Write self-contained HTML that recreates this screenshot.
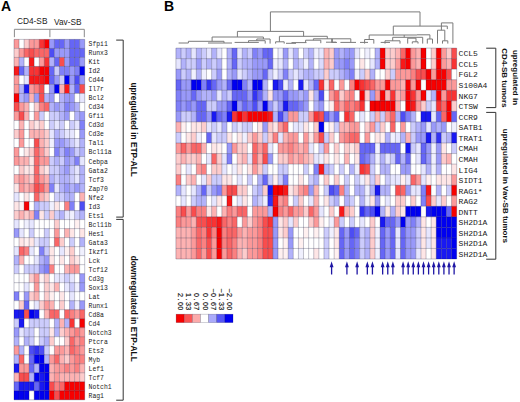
<!DOCTYPE html>
<html><head><meta charset="utf-8"><style>
html,body{margin:0;padding:0;background:#fff;}
body{width:520px;height:402px;overflow:hidden;position:relative;}
svg{position:absolute;left:0;top:0;}
.ga{font-family:"Liberation Mono",monospace;font-weight:normal;font-size:6.4px;fill:#1a1a1a;}
.gb{font-family:"Liberation Mono",monospace;font-weight:normal;font-size:8.0px;fill:#1a1a1a;}
.lg{font-family:"Liberation Sans",sans-serif;font-size:7.2px;fill:#111;stroke:#111;stroke-width:0.15px;}
.pl{font-family:"Liberation Sans",sans-serif;font-weight:bold;font-size:14px;fill:#000;}
.hd{font-family:"Liberation Sans",sans-serif;font-size:8.3px;fill:#222;}
.vt{font-family:"Liberation Sans",sans-serif;font-weight:bold;font-size:8px;fill:#111;}
.vta{font-family:"Liberation Sans",sans-serif;font-weight:bold;font-size:8.3px;fill:#111;}
</style></head><body>
<svg width="520" height="402" viewBox="0 0 520 402">
<rect x="14.00" y="39.40" width="5.05" height="9.01" fill="rgb(252,153,153)"/>
<rect x="19.05" y="39.40" width="5.05" height="9.01" fill="rgb(255,255,255)"/>
<rect x="24.10" y="39.40" width="5.05" height="9.01" fill="rgb(253,204,204)"/>
<rect x="29.15" y="39.40" width="5.05" height="9.01" fill="rgb(252,153,153)"/>
<rect x="34.20" y="39.40" width="5.05" height="9.01" fill="rgb(252,153,153)"/>
<rect x="39.25" y="39.40" width="5.05" height="9.01" fill="rgb(249,51,51)"/>
<rect x="44.30" y="39.40" width="5.05" height="9.01" fill="rgb(247,0,0)"/>
<rect x="49.35" y="39.40" width="5.05" height="9.01" fill="rgb(153,153,249)"/>
<rect x="54.40" y="39.40" width="5.05" height="9.01" fill="rgb(102,102,246)"/>
<rect x="59.45" y="39.40" width="5.05" height="9.01" fill="rgb(102,102,246)"/>
<rect x="64.50" y="39.40" width="5.05" height="9.01" fill="rgb(153,153,249)"/>
<rect x="69.55" y="39.40" width="5.05" height="9.01" fill="rgb(102,102,246)"/>
<rect x="74.60" y="39.40" width="5.05" height="9.01" fill="rgb(102,102,246)"/>
<rect x="79.65" y="39.40" width="5.05" height="9.01" fill="rgb(153,153,249)"/>
<rect x="14.00" y="48.41" width="5.05" height="9.01" fill="rgb(253,204,204)"/>
<rect x="19.05" y="48.41" width="5.05" height="9.01" fill="rgb(252,153,153)"/>
<rect x="24.10" y="48.41" width="5.05" height="9.01" fill="rgb(250,102,102)"/>
<rect x="29.15" y="48.41" width="5.05" height="9.01" fill="rgb(249,77,77)"/>
<rect x="34.20" y="48.41" width="5.05" height="9.01" fill="rgb(250,102,102)"/>
<rect x="39.25" y="48.41" width="5.05" height="9.01" fill="rgb(250,102,102)"/>
<rect x="44.30" y="48.41" width="5.05" height="9.01" fill="rgb(250,102,102)"/>
<rect x="49.35" y="48.41" width="5.05" height="9.01" fill="rgb(77,77,244)"/>
<rect x="54.40" y="48.41" width="5.05" height="9.01" fill="rgb(153,153,249)"/>
<rect x="59.45" y="48.41" width="5.05" height="9.01" fill="rgb(153,153,249)"/>
<rect x="64.50" y="48.41" width="5.05" height="9.01" fill="rgb(153,153,249)"/>
<rect x="69.55" y="48.41" width="5.05" height="9.01" fill="rgb(102,102,246)"/>
<rect x="74.60" y="48.41" width="5.05" height="9.01" fill="rgb(102,102,246)"/>
<rect x="79.65" y="48.41" width="5.05" height="9.01" fill="rgb(102,102,246)"/>
<rect x="14.00" y="57.42" width="5.05" height="9.01" fill="rgb(253,178,178)"/>
<rect x="19.05" y="57.42" width="5.05" height="9.01" fill="rgb(178,178,250)"/>
<rect x="24.10" y="57.42" width="5.05" height="9.01" fill="rgb(255,255,255)"/>
<rect x="29.15" y="57.42" width="5.05" height="9.01" fill="rgb(248,25,25)"/>
<rect x="34.20" y="57.42" width="5.05" height="9.01" fill="rgb(255,255,255)"/>
<rect x="39.25" y="57.42" width="5.05" height="9.01" fill="rgb(252,153,153)"/>
<rect x="44.30" y="57.42" width="5.05" height="9.01" fill="rgb(249,51,51)"/>
<rect x="49.35" y="57.42" width="5.05" height="9.01" fill="rgb(178,178,250)"/>
<rect x="54.40" y="57.42" width="5.05" height="9.01" fill="rgb(102,102,246)"/>
<rect x="59.45" y="57.42" width="5.05" height="9.01" fill="rgb(249,77,77)"/>
<rect x="64.50" y="57.42" width="5.05" height="9.01" fill="rgb(153,153,249)"/>
<rect x="69.55" y="57.42" width="5.05" height="9.01" fill="rgb(102,102,246)"/>
<rect x="74.60" y="57.42" width="5.05" height="9.01" fill="rgb(102,102,246)"/>
<rect x="79.65" y="57.42" width="5.05" height="9.01" fill="rgb(153,153,249)"/>
<rect x="14.00" y="66.43" width="5.05" height="9.01" fill="rgb(248,25,25)"/>
<rect x="19.05" y="66.43" width="5.05" height="9.01" fill="rgb(102,102,246)"/>
<rect x="24.10" y="66.43" width="5.05" height="9.01" fill="rgb(178,178,250)"/>
<rect x="29.15" y="66.43" width="5.05" height="9.01" fill="rgb(249,51,51)"/>
<rect x="34.20" y="66.43" width="5.05" height="9.01" fill="rgb(249,51,51)"/>
<rect x="39.25" y="66.43" width="5.05" height="9.01" fill="rgb(247,0,0)"/>
<rect x="44.30" y="66.43" width="5.05" height="9.01" fill="rgb(247,0,0)"/>
<rect x="49.35" y="66.43" width="5.05" height="9.01" fill="rgb(102,102,246)"/>
<rect x="54.40" y="66.43" width="5.05" height="9.01" fill="rgb(204,204,252)"/>
<rect x="59.45" y="66.43" width="5.05" height="9.01" fill="rgb(128,128,248)"/>
<rect x="64.50" y="66.43" width="5.05" height="9.01" fill="rgb(128,128,248)"/>
<rect x="69.55" y="66.43" width="5.05" height="9.01" fill="rgb(153,153,249)"/>
<rect x="74.60" y="66.43" width="5.05" height="9.01" fill="rgb(128,128,248)"/>
<rect x="79.65" y="66.43" width="5.05" height="9.01" fill="rgb(0,0,240)"/>
<rect x="14.00" y="75.44" width="5.05" height="9.01" fill="rgb(252,153,153)"/>
<rect x="19.05" y="75.44" width="5.05" height="9.01" fill="rgb(255,255,255)"/>
<rect x="24.10" y="75.44" width="5.05" height="9.01" fill="rgb(230,230,254)"/>
<rect x="29.15" y="75.44" width="5.05" height="9.01" fill="rgb(248,25,25)"/>
<rect x="34.20" y="75.44" width="5.05" height="9.01" fill="rgb(248,25,25)"/>
<rect x="39.25" y="75.44" width="5.05" height="9.01" fill="rgb(248,25,25)"/>
<rect x="44.30" y="75.44" width="5.05" height="9.01" fill="rgb(247,0,0)"/>
<rect x="49.35" y="75.44" width="5.05" height="9.01" fill="rgb(102,102,246)"/>
<rect x="54.40" y="75.44" width="5.05" height="9.01" fill="rgb(153,153,249)"/>
<rect x="59.45" y="75.44" width="5.05" height="9.01" fill="rgb(204,204,252)"/>
<rect x="64.50" y="75.44" width="5.05" height="9.01" fill="rgb(0,0,240)"/>
<rect x="69.55" y="75.44" width="5.05" height="9.01" fill="rgb(153,153,249)"/>
<rect x="74.60" y="75.44" width="5.05" height="9.01" fill="rgb(77,77,244)"/>
<rect x="79.65" y="75.44" width="5.05" height="9.01" fill="rgb(153,153,249)"/>
<rect x="14.00" y="84.45" width="5.05" height="9.01" fill="rgb(252,153,153)"/>
<rect x="19.05" y="84.45" width="5.05" height="9.01" fill="rgb(178,178,250)"/>
<rect x="24.10" y="84.45" width="5.05" height="9.01" fill="rgb(25,25,242)"/>
<rect x="29.15" y="84.45" width="5.05" height="9.01" fill="rgb(252,153,153)"/>
<rect x="34.20" y="84.45" width="5.05" height="9.01" fill="rgb(251,128,128)"/>
<rect x="39.25" y="84.45" width="5.05" height="9.01" fill="rgb(249,77,77)"/>
<rect x="44.30" y="84.45" width="5.05" height="9.01" fill="rgb(255,255,255)"/>
<rect x="49.35" y="84.45" width="5.05" height="9.01" fill="rgb(153,153,249)"/>
<rect x="54.40" y="84.45" width="5.05" height="9.01" fill="rgb(0,0,240)"/>
<rect x="59.45" y="84.45" width="5.05" height="9.01" fill="rgb(253,178,178)"/>
<rect x="64.50" y="84.45" width="5.05" height="9.01" fill="rgb(248,25,25)"/>
<rect x="69.55" y="84.45" width="5.05" height="9.01" fill="rgb(178,178,250)"/>
<rect x="74.60" y="84.45" width="5.05" height="9.01" fill="rgb(102,102,246)"/>
<rect x="79.65" y="84.45" width="5.05" height="9.01" fill="rgb(249,77,77)"/>
<rect x="14.00" y="93.46" width="5.05" height="9.01" fill="rgb(247,0,0)"/>
<rect x="19.05" y="93.46" width="5.05" height="9.01" fill="rgb(178,178,250)"/>
<rect x="24.10" y="93.46" width="5.05" height="9.01" fill="rgb(153,153,249)"/>
<rect x="29.15" y="93.46" width="5.05" height="9.01" fill="rgb(253,178,178)"/>
<rect x="34.20" y="93.46" width="5.05" height="9.01" fill="rgb(153,153,249)"/>
<rect x="39.25" y="93.46" width="5.05" height="9.01" fill="rgb(249,77,77)"/>
<rect x="44.30" y="93.46" width="5.05" height="9.01" fill="rgb(178,178,250)"/>
<rect x="49.35" y="93.46" width="5.05" height="9.01" fill="rgb(153,153,249)"/>
<rect x="54.40" y="93.46" width="5.05" height="9.01" fill="rgb(255,255,255)"/>
<rect x="59.45" y="93.46" width="5.05" height="9.01" fill="rgb(178,178,250)"/>
<rect x="64.50" y="93.46" width="5.05" height="9.01" fill="rgb(153,153,249)"/>
<rect x="69.55" y="93.46" width="5.05" height="9.01" fill="rgb(153,153,249)"/>
<rect x="74.60" y="93.46" width="5.05" height="9.01" fill="rgb(255,255,255)"/>
<rect x="79.65" y="93.46" width="5.05" height="9.01" fill="rgb(230,230,254)"/>
<rect x="14.00" y="102.47" width="5.05" height="9.01" fill="rgb(249,77,77)"/>
<rect x="19.05" y="102.47" width="5.05" height="9.01" fill="rgb(252,153,153)"/>
<rect x="24.10" y="102.47" width="5.05" height="9.01" fill="rgb(253,178,178)"/>
<rect x="29.15" y="102.47" width="5.05" height="9.01" fill="rgb(255,255,255)"/>
<rect x="34.20" y="102.47" width="5.05" height="9.01" fill="rgb(253,204,204)"/>
<rect x="39.25" y="102.47" width="5.05" height="9.01" fill="rgb(251,128,128)"/>
<rect x="44.30" y="102.47" width="5.05" height="9.01" fill="rgb(250,102,102)"/>
<rect x="49.35" y="102.47" width="5.05" height="9.01" fill="rgb(178,178,250)"/>
<rect x="54.40" y="102.47" width="5.05" height="9.01" fill="rgb(153,153,249)"/>
<rect x="59.45" y="102.47" width="5.05" height="9.01" fill="rgb(178,178,250)"/>
<rect x="64.50" y="102.47" width="5.05" height="9.01" fill="rgb(128,128,248)"/>
<rect x="69.55" y="102.47" width="5.05" height="9.01" fill="rgb(153,153,249)"/>
<rect x="74.60" y="102.47" width="5.05" height="9.01" fill="rgb(178,178,250)"/>
<rect x="79.65" y="102.47" width="5.05" height="9.01" fill="rgb(255,255,255)"/>
<rect x="14.00" y="111.48" width="5.05" height="9.01" fill="rgb(252,153,153)"/>
<rect x="19.05" y="111.48" width="5.05" height="9.01" fill="rgb(249,77,77)"/>
<rect x="24.10" y="111.48" width="5.05" height="9.01" fill="rgb(253,178,178)"/>
<rect x="29.15" y="111.48" width="5.05" height="9.01" fill="rgb(255,255,255)"/>
<rect x="34.20" y="111.48" width="5.05" height="9.01" fill="rgb(252,153,153)"/>
<rect x="39.25" y="111.48" width="5.05" height="9.01" fill="rgb(204,204,252)"/>
<rect x="44.30" y="111.48" width="5.05" height="9.01" fill="rgb(255,255,255)"/>
<rect x="49.35" y="111.48" width="5.05" height="9.01" fill="rgb(204,204,252)"/>
<rect x="54.40" y="111.48" width="5.05" height="9.01" fill="rgb(204,204,252)"/>
<rect x="59.45" y="111.48" width="5.05" height="9.01" fill="rgb(178,178,250)"/>
<rect x="64.50" y="111.48" width="5.05" height="9.01" fill="rgb(153,153,249)"/>
<rect x="69.55" y="111.48" width="5.05" height="9.01" fill="rgb(255,255,255)"/>
<rect x="74.60" y="111.48" width="5.05" height="9.01" fill="rgb(178,178,250)"/>
<rect x="79.65" y="111.48" width="5.05" height="9.01" fill="rgb(153,153,249)"/>
<rect x="14.00" y="120.49" width="5.05" height="9.01" fill="rgb(255,255,255)"/>
<rect x="19.05" y="120.49" width="5.05" height="9.01" fill="rgb(253,178,178)"/>
<rect x="24.10" y="120.49" width="5.05" height="9.01" fill="rgb(255,255,255)"/>
<rect x="29.15" y="120.49" width="5.05" height="9.01" fill="rgb(253,204,204)"/>
<rect x="34.20" y="120.49" width="5.05" height="9.01" fill="rgb(254,230,230)"/>
<rect x="39.25" y="120.49" width="5.05" height="9.01" fill="rgb(253,204,204)"/>
<rect x="44.30" y="120.49" width="5.05" height="9.01" fill="rgb(255,255,255)"/>
<rect x="49.35" y="120.49" width="5.05" height="9.01" fill="rgb(204,204,252)"/>
<rect x="54.40" y="120.49" width="5.05" height="9.01" fill="rgb(230,230,254)"/>
<rect x="59.45" y="120.49" width="5.05" height="9.01" fill="rgb(204,204,252)"/>
<rect x="64.50" y="120.49" width="5.05" height="9.01" fill="rgb(255,255,255)"/>
<rect x="69.55" y="120.49" width="5.05" height="9.01" fill="rgb(204,204,252)"/>
<rect x="74.60" y="120.49" width="5.05" height="9.01" fill="rgb(230,230,254)"/>
<rect x="79.65" y="120.49" width="5.05" height="9.01" fill="rgb(128,128,248)"/>
<rect x="14.00" y="129.50" width="5.05" height="9.01" fill="rgb(253,204,204)"/>
<rect x="19.05" y="129.50" width="5.05" height="9.01" fill="rgb(252,153,153)"/>
<rect x="24.10" y="129.50" width="5.05" height="9.01" fill="rgb(255,255,255)"/>
<rect x="29.15" y="129.50" width="5.05" height="9.01" fill="rgb(253,178,178)"/>
<rect x="34.20" y="129.50" width="5.05" height="9.01" fill="rgb(253,178,178)"/>
<rect x="39.25" y="129.50" width="5.05" height="9.01" fill="rgb(253,178,178)"/>
<rect x="44.30" y="129.50" width="5.05" height="9.01" fill="rgb(253,204,204)"/>
<rect x="49.35" y="129.50" width="5.05" height="9.01" fill="rgb(230,230,254)"/>
<rect x="54.40" y="129.50" width="5.05" height="9.01" fill="rgb(178,178,250)"/>
<rect x="59.45" y="129.50" width="5.05" height="9.01" fill="rgb(204,204,252)"/>
<rect x="64.50" y="129.50" width="5.05" height="9.01" fill="rgb(230,230,254)"/>
<rect x="69.55" y="129.50" width="5.05" height="9.01" fill="rgb(230,230,254)"/>
<rect x="74.60" y="129.50" width="5.05" height="9.01" fill="rgb(255,255,255)"/>
<rect x="79.65" y="129.50" width="5.05" height="9.01" fill="rgb(153,153,249)"/>
<rect x="14.00" y="138.51" width="5.05" height="9.01" fill="rgb(255,255,255)"/>
<rect x="19.05" y="138.51" width="5.05" height="9.01" fill="rgb(252,153,153)"/>
<rect x="24.10" y="138.51" width="5.05" height="9.01" fill="rgb(255,255,255)"/>
<rect x="29.15" y="138.51" width="5.05" height="9.01" fill="rgb(255,255,255)"/>
<rect x="34.20" y="138.51" width="5.05" height="9.01" fill="rgb(249,77,77)"/>
<rect x="39.25" y="138.51" width="5.05" height="9.01" fill="rgb(253,178,178)"/>
<rect x="44.30" y="138.51" width="5.05" height="9.01" fill="rgb(253,204,204)"/>
<rect x="49.35" y="138.51" width="5.05" height="9.01" fill="rgb(240,240,254)"/>
<rect x="54.40" y="138.51" width="5.05" height="9.01" fill="rgb(153,153,249)"/>
<rect x="59.45" y="138.51" width="5.05" height="9.01" fill="rgb(153,153,249)"/>
<rect x="64.50" y="138.51" width="5.05" height="9.01" fill="rgb(178,178,250)"/>
<rect x="69.55" y="138.51" width="5.05" height="9.01" fill="rgb(204,204,252)"/>
<rect x="74.60" y="138.51" width="5.05" height="9.01" fill="rgb(230,230,254)"/>
<rect x="79.65" y="138.51" width="5.05" height="9.01" fill="rgb(178,178,250)"/>
<rect x="14.00" y="147.52" width="5.05" height="9.01" fill="rgb(252,153,153)"/>
<rect x="19.05" y="147.52" width="5.05" height="9.01" fill="rgb(255,255,255)"/>
<rect x="24.10" y="147.52" width="5.05" height="9.01" fill="rgb(254,230,230)"/>
<rect x="29.15" y="147.52" width="5.05" height="9.01" fill="rgb(253,204,204)"/>
<rect x="34.20" y="147.52" width="5.05" height="9.01" fill="rgb(250,102,102)"/>
<rect x="39.25" y="147.52" width="5.05" height="9.01" fill="rgb(252,153,153)"/>
<rect x="44.30" y="147.52" width="5.05" height="9.01" fill="rgb(253,204,204)"/>
<rect x="49.35" y="147.52" width="5.05" height="9.01" fill="rgb(255,255,255)"/>
<rect x="54.40" y="147.52" width="5.05" height="9.01" fill="rgb(128,128,248)"/>
<rect x="59.45" y="147.52" width="5.05" height="9.01" fill="rgb(178,178,250)"/>
<rect x="64.50" y="147.52" width="5.05" height="9.01" fill="rgb(128,128,248)"/>
<rect x="69.55" y="147.52" width="5.05" height="9.01" fill="rgb(153,153,249)"/>
<rect x="74.60" y="147.52" width="5.05" height="9.01" fill="rgb(204,204,252)"/>
<rect x="79.65" y="147.52" width="5.05" height="9.01" fill="rgb(178,178,250)"/>
<rect x="14.00" y="156.53" width="5.05" height="9.01" fill="rgb(252,153,153)"/>
<rect x="19.05" y="156.53" width="5.05" height="9.01" fill="rgb(253,178,178)"/>
<rect x="24.10" y="156.53" width="5.05" height="9.01" fill="rgb(253,178,178)"/>
<rect x="29.15" y="156.53" width="5.05" height="9.01" fill="rgb(254,230,230)"/>
<rect x="34.20" y="156.53" width="5.05" height="9.01" fill="rgb(250,102,102)"/>
<rect x="39.25" y="156.53" width="5.05" height="9.01" fill="rgb(252,153,153)"/>
<rect x="44.30" y="156.53" width="5.05" height="9.01" fill="rgb(252,153,153)"/>
<rect x="49.35" y="156.53" width="5.05" height="9.01" fill="rgb(204,204,252)"/>
<rect x="54.40" y="156.53" width="5.05" height="9.01" fill="rgb(178,178,250)"/>
<rect x="59.45" y="156.53" width="5.05" height="9.01" fill="rgb(204,204,252)"/>
<rect x="64.50" y="156.53" width="5.05" height="9.01" fill="rgb(153,153,249)"/>
<rect x="69.55" y="156.53" width="5.05" height="9.01" fill="rgb(178,178,250)"/>
<rect x="74.60" y="156.53" width="5.05" height="9.01" fill="rgb(128,128,248)"/>
<rect x="79.65" y="156.53" width="5.05" height="9.01" fill="rgb(230,230,254)"/>
<rect x="14.00" y="165.54" width="5.05" height="9.01" fill="rgb(255,255,255)"/>
<rect x="19.05" y="165.54" width="5.05" height="9.01" fill="rgb(253,204,204)"/>
<rect x="24.10" y="165.54" width="5.05" height="9.01" fill="rgb(254,230,230)"/>
<rect x="29.15" y="165.54" width="5.05" height="9.01" fill="rgb(254,230,230)"/>
<rect x="34.20" y="165.54" width="5.05" height="9.01" fill="rgb(250,102,102)"/>
<rect x="39.25" y="165.54" width="5.05" height="9.01" fill="rgb(253,204,204)"/>
<rect x="44.30" y="165.54" width="5.05" height="9.01" fill="rgb(254,230,230)"/>
<rect x="49.35" y="165.54" width="5.05" height="9.01" fill="rgb(204,204,252)"/>
<rect x="54.40" y="165.54" width="5.05" height="9.01" fill="rgb(204,204,252)"/>
<rect x="59.45" y="165.54" width="5.05" height="9.01" fill="rgb(178,178,250)"/>
<rect x="64.50" y="165.54" width="5.05" height="9.01" fill="rgb(153,153,249)"/>
<rect x="69.55" y="165.54" width="5.05" height="9.01" fill="rgb(204,204,252)"/>
<rect x="74.60" y="165.54" width="5.05" height="9.01" fill="rgb(230,230,254)"/>
<rect x="79.65" y="165.54" width="5.05" height="9.01" fill="rgb(178,178,250)"/>
<rect x="14.00" y="174.55" width="5.05" height="9.01" fill="rgb(253,178,178)"/>
<rect x="19.05" y="174.55" width="5.05" height="9.01" fill="rgb(252,153,153)"/>
<rect x="24.10" y="174.55" width="5.05" height="9.01" fill="rgb(253,178,178)"/>
<rect x="29.15" y="174.55" width="5.05" height="9.01" fill="rgb(253,204,204)"/>
<rect x="34.20" y="174.55" width="5.05" height="9.01" fill="rgb(250,102,102)"/>
<rect x="39.25" y="174.55" width="5.05" height="9.01" fill="rgb(252,153,153)"/>
<rect x="44.30" y="174.55" width="5.05" height="9.01" fill="rgb(253,178,178)"/>
<rect x="49.35" y="174.55" width="5.05" height="9.01" fill="rgb(178,178,250)"/>
<rect x="54.40" y="174.55" width="5.05" height="9.01" fill="rgb(204,204,252)"/>
<rect x="59.45" y="174.55" width="5.05" height="9.01" fill="rgb(178,178,250)"/>
<rect x="64.50" y="174.55" width="5.05" height="9.01" fill="rgb(178,178,250)"/>
<rect x="69.55" y="174.55" width="5.05" height="9.01" fill="rgb(204,204,252)"/>
<rect x="74.60" y="174.55" width="5.05" height="9.01" fill="rgb(230,230,254)"/>
<rect x="79.65" y="174.55" width="5.05" height="9.01" fill="rgb(178,178,250)"/>
<rect x="14.00" y="183.56" width="5.05" height="9.01" fill="rgb(254,230,230)"/>
<rect x="19.05" y="183.56" width="5.05" height="9.01" fill="rgb(252,153,153)"/>
<rect x="24.10" y="183.56" width="5.05" height="9.01" fill="rgb(253,178,178)"/>
<rect x="29.15" y="183.56" width="5.05" height="9.01" fill="rgb(252,153,153)"/>
<rect x="34.20" y="183.56" width="5.05" height="9.01" fill="rgb(249,77,77)"/>
<rect x="39.25" y="183.56" width="5.05" height="9.01" fill="rgb(250,102,102)"/>
<rect x="44.30" y="183.56" width="5.05" height="9.01" fill="rgb(252,153,153)"/>
<rect x="49.35" y="183.56" width="5.05" height="9.01" fill="rgb(128,128,248)"/>
<rect x="54.40" y="183.56" width="5.05" height="9.01" fill="rgb(230,230,254)"/>
<rect x="59.45" y="183.56" width="5.05" height="9.01" fill="rgb(178,178,250)"/>
<rect x="64.50" y="183.56" width="5.05" height="9.01" fill="rgb(153,153,249)"/>
<rect x="69.55" y="183.56" width="5.05" height="9.01" fill="rgb(178,178,250)"/>
<rect x="74.60" y="183.56" width="5.05" height="9.01" fill="rgb(153,153,249)"/>
<rect x="79.65" y="183.56" width="5.05" height="9.01" fill="rgb(178,178,250)"/>
<rect x="14.00" y="192.57" width="5.05" height="9.01" fill="rgb(230,230,254)"/>
<rect x="19.05" y="192.57" width="5.05" height="9.01" fill="rgb(255,255,255)"/>
<rect x="24.10" y="192.57" width="5.05" height="9.01" fill="rgb(254,230,230)"/>
<rect x="29.15" y="192.57" width="5.05" height="9.01" fill="rgb(255,255,255)"/>
<rect x="34.20" y="192.57" width="5.05" height="9.01" fill="rgb(250,102,102)"/>
<rect x="39.25" y="192.57" width="5.05" height="9.01" fill="rgb(253,178,178)"/>
<rect x="44.30" y="192.57" width="5.05" height="9.01" fill="rgb(253,204,204)"/>
<rect x="49.35" y="192.57" width="5.05" height="9.01" fill="rgb(255,255,255)"/>
<rect x="54.40" y="192.57" width="5.05" height="9.01" fill="rgb(204,204,252)"/>
<rect x="59.45" y="192.57" width="5.05" height="9.01" fill="rgb(204,204,252)"/>
<rect x="64.50" y="192.57" width="5.05" height="9.01" fill="rgb(178,178,250)"/>
<rect x="69.55" y="192.57" width="5.05" height="9.01" fill="rgb(178,178,250)"/>
<rect x="74.60" y="192.57" width="5.05" height="9.01" fill="rgb(255,255,255)"/>
<rect x="79.65" y="192.57" width="5.05" height="9.01" fill="rgb(253,178,178)"/>
<rect x="14.00" y="201.58" width="5.05" height="9.01" fill="rgb(254,230,230)"/>
<rect x="19.05" y="201.58" width="5.05" height="9.01" fill="rgb(255,240,240)"/>
<rect x="24.10" y="201.58" width="5.05" height="9.01" fill="rgb(247,0,0)"/>
<rect x="29.15" y="201.58" width="5.05" height="9.01" fill="rgb(255,255,255)"/>
<rect x="34.20" y="201.58" width="5.05" height="9.01" fill="rgb(178,178,250)"/>
<rect x="39.25" y="201.58" width="5.05" height="9.01" fill="rgb(204,204,252)"/>
<rect x="44.30" y="201.58" width="5.05" height="9.01" fill="rgb(204,204,252)"/>
<rect x="49.35" y="201.58" width="5.05" height="9.01" fill="rgb(240,240,254)"/>
<rect x="54.40" y="201.58" width="5.05" height="9.01" fill="rgb(254,230,230)"/>
<rect x="59.45" y="201.58" width="5.05" height="9.01" fill="rgb(255,255,255)"/>
<rect x="64.50" y="201.58" width="5.05" height="9.01" fill="rgb(251,128,128)"/>
<rect x="69.55" y="201.58" width="5.05" height="9.01" fill="rgb(128,128,248)"/>
<rect x="74.60" y="201.58" width="5.05" height="9.01" fill="rgb(255,255,255)"/>
<rect x="79.65" y="201.58" width="5.05" height="9.01" fill="rgb(77,77,244)"/>
<rect x="14.00" y="210.59" width="5.05" height="9.01" fill="rgb(253,204,204)"/>
<rect x="19.05" y="210.59" width="5.05" height="9.01" fill="rgb(253,178,178)"/>
<rect x="24.10" y="210.59" width="5.05" height="9.01" fill="rgb(253,204,204)"/>
<rect x="29.15" y="210.59" width="5.05" height="9.01" fill="rgb(253,178,178)"/>
<rect x="34.20" y="210.59" width="5.05" height="9.01" fill="rgb(128,128,248)"/>
<rect x="39.25" y="210.59" width="5.05" height="9.01" fill="rgb(254,230,230)"/>
<rect x="44.30" y="210.59" width="5.05" height="9.01" fill="rgb(204,204,252)"/>
<rect x="49.35" y="210.59" width="5.05" height="9.01" fill="rgb(253,204,204)"/>
<rect x="54.40" y="210.59" width="5.05" height="9.01" fill="rgb(204,204,252)"/>
<rect x="59.45" y="210.59" width="5.05" height="9.01" fill="rgb(178,178,250)"/>
<rect x="64.50" y="210.59" width="5.05" height="9.01" fill="rgb(230,230,254)"/>
<rect x="69.55" y="210.59" width="5.05" height="9.01" fill="rgb(240,240,254)"/>
<rect x="74.60" y="210.59" width="5.05" height="9.01" fill="rgb(204,204,252)"/>
<rect x="79.65" y="210.59" width="5.05" height="9.01" fill="rgb(178,178,250)"/>
<rect x="14.00" y="219.60" width="5.05" height="9.01" fill="rgb(230,230,254)"/>
<rect x="19.05" y="219.60" width="5.05" height="9.01" fill="rgb(255,255,255)"/>
<rect x="24.10" y="219.60" width="5.05" height="9.01" fill="rgb(240,240,254)"/>
<rect x="29.15" y="219.60" width="5.05" height="9.01" fill="rgb(230,230,254)"/>
<rect x="34.20" y="219.60" width="5.05" height="9.01" fill="rgb(255,255,255)"/>
<rect x="39.25" y="219.60" width="5.05" height="9.01" fill="rgb(255,255,255)"/>
<rect x="44.30" y="219.60" width="5.05" height="9.01" fill="rgb(255,255,255)"/>
<rect x="49.35" y="219.60" width="5.05" height="9.01" fill="rgb(255,255,255)"/>
<rect x="54.40" y="219.60" width="5.05" height="9.01" fill="rgb(253,204,204)"/>
<rect x="59.45" y="219.60" width="5.05" height="9.01" fill="rgb(255,255,255)"/>
<rect x="64.50" y="219.60" width="5.05" height="9.01" fill="rgb(255,255,255)"/>
<rect x="69.55" y="219.60" width="5.05" height="9.01" fill="rgb(255,255,255)"/>
<rect x="74.60" y="219.60" width="5.05" height="9.01" fill="rgb(255,240,240)"/>
<rect x="79.65" y="219.60" width="5.05" height="9.01" fill="rgb(255,255,255)"/>
<rect x="14.00" y="228.61" width="5.05" height="9.01" fill="rgb(153,153,249)"/>
<rect x="19.05" y="228.61" width="5.05" height="9.01" fill="rgb(230,230,254)"/>
<rect x="24.10" y="228.61" width="5.05" height="9.01" fill="rgb(255,255,255)"/>
<rect x="29.15" y="228.61" width="5.05" height="9.01" fill="rgb(204,204,252)"/>
<rect x="34.20" y="228.61" width="5.05" height="9.01" fill="rgb(255,255,255)"/>
<rect x="39.25" y="228.61" width="5.05" height="9.01" fill="rgb(255,255,255)"/>
<rect x="44.30" y="228.61" width="5.05" height="9.01" fill="rgb(204,204,252)"/>
<rect x="49.35" y="228.61" width="5.05" height="9.01" fill="rgb(255,255,255)"/>
<rect x="54.40" y="228.61" width="5.05" height="9.01" fill="rgb(252,153,153)"/>
<rect x="59.45" y="228.61" width="5.05" height="9.01" fill="rgb(255,255,255)"/>
<rect x="64.50" y="228.61" width="5.05" height="9.01" fill="rgb(253,178,178)"/>
<rect x="69.55" y="228.61" width="5.05" height="9.01" fill="rgb(254,230,230)"/>
<rect x="74.60" y="228.61" width="5.05" height="9.01" fill="rgb(255,255,255)"/>
<rect x="79.65" y="228.61" width="5.05" height="9.01" fill="rgb(254,230,230)"/>
<rect x="14.00" y="237.62" width="5.05" height="9.01" fill="rgb(255,255,255)"/>
<rect x="19.05" y="237.62" width="5.05" height="9.01" fill="rgb(254,230,230)"/>
<rect x="24.10" y="237.62" width="5.05" height="9.01" fill="rgb(255,240,240)"/>
<rect x="29.15" y="237.62" width="5.05" height="9.01" fill="rgb(254,230,230)"/>
<rect x="34.20" y="237.62" width="5.05" height="9.01" fill="rgb(230,230,254)"/>
<rect x="39.25" y="237.62" width="5.05" height="9.01" fill="rgb(204,204,252)"/>
<rect x="44.30" y="237.62" width="5.05" height="9.01" fill="rgb(204,204,252)"/>
<rect x="49.35" y="237.62" width="5.05" height="9.01" fill="rgb(255,255,255)"/>
<rect x="54.40" y="237.62" width="5.05" height="9.01" fill="rgb(250,102,102)"/>
<rect x="59.45" y="237.62" width="5.05" height="9.01" fill="rgb(253,204,204)"/>
<rect x="64.50" y="237.62" width="5.05" height="9.01" fill="rgb(255,255,255)"/>
<rect x="69.55" y="237.62" width="5.05" height="9.01" fill="rgb(204,204,252)"/>
<rect x="74.60" y="237.62" width="5.05" height="9.01" fill="rgb(255,255,255)"/>
<rect x="79.65" y="237.62" width="5.05" height="9.01" fill="rgb(178,178,250)"/>
<rect x="14.00" y="246.63" width="5.05" height="9.01" fill="rgb(230,230,254)"/>
<rect x="19.05" y="246.63" width="5.05" height="9.01" fill="rgb(250,102,102)"/>
<rect x="24.10" y="246.63" width="5.05" height="9.01" fill="rgb(251,128,128)"/>
<rect x="29.15" y="246.63" width="5.05" height="9.01" fill="rgb(230,230,254)"/>
<rect x="34.20" y="246.63" width="5.05" height="9.01" fill="rgb(255,255,255)"/>
<rect x="39.25" y="246.63" width="5.05" height="9.01" fill="rgb(128,128,248)"/>
<rect x="44.30" y="246.63" width="5.05" height="9.01" fill="rgb(204,204,252)"/>
<rect x="49.35" y="246.63" width="5.05" height="9.01" fill="rgb(254,230,230)"/>
<rect x="54.40" y="246.63" width="5.05" height="9.01" fill="rgb(255,255,255)"/>
<rect x="59.45" y="246.63" width="5.05" height="9.01" fill="rgb(230,230,254)"/>
<rect x="64.50" y="246.63" width="5.05" height="9.01" fill="rgb(255,240,240)"/>
<rect x="69.55" y="246.63" width="5.05" height="9.01" fill="rgb(253,204,204)"/>
<rect x="74.60" y="246.63" width="5.05" height="9.01" fill="rgb(255,255,255)"/>
<rect x="79.65" y="246.63" width="5.05" height="9.01" fill="rgb(240,240,254)"/>
<rect x="14.00" y="255.64" width="5.05" height="9.01" fill="rgb(178,178,250)"/>
<rect x="19.05" y="255.64" width="5.05" height="9.01" fill="rgb(253,178,178)"/>
<rect x="24.10" y="255.64" width="5.05" height="9.01" fill="rgb(255,255,255)"/>
<rect x="29.15" y="255.64" width="5.05" height="9.01" fill="rgb(255,255,255)"/>
<rect x="34.20" y="255.64" width="5.05" height="9.01" fill="rgb(230,230,254)"/>
<rect x="39.25" y="255.64" width="5.05" height="9.01" fill="rgb(178,178,250)"/>
<rect x="44.30" y="255.64" width="5.05" height="9.01" fill="rgb(153,153,249)"/>
<rect x="49.35" y="255.64" width="5.05" height="9.01" fill="rgb(254,230,230)"/>
<rect x="54.40" y="255.64" width="5.05" height="9.01" fill="rgb(255,255,255)"/>
<rect x="59.45" y="255.64" width="5.05" height="9.01" fill="rgb(254,230,230)"/>
<rect x="64.50" y="255.64" width="5.05" height="9.01" fill="rgb(255,255,255)"/>
<rect x="69.55" y="255.64" width="5.05" height="9.01" fill="rgb(253,204,204)"/>
<rect x="74.60" y="255.64" width="5.05" height="9.01" fill="rgb(254,230,230)"/>
<rect x="79.65" y="255.64" width="5.05" height="9.01" fill="rgb(255,255,255)"/>
<rect x="14.00" y="264.65" width="5.05" height="9.01" fill="rgb(204,204,252)"/>
<rect x="19.05" y="264.65" width="5.05" height="9.01" fill="rgb(255,255,255)"/>
<rect x="24.10" y="264.65" width="5.05" height="9.01" fill="rgb(204,204,252)"/>
<rect x="29.15" y="264.65" width="5.05" height="9.01" fill="rgb(204,204,252)"/>
<rect x="34.20" y="264.65" width="5.05" height="9.01" fill="rgb(204,204,252)"/>
<rect x="39.25" y="264.65" width="5.05" height="9.01" fill="rgb(153,153,249)"/>
<rect x="44.30" y="264.65" width="5.05" height="9.01" fill="rgb(128,128,248)"/>
<rect x="49.35" y="264.65" width="5.05" height="9.01" fill="rgb(251,128,128)"/>
<rect x="54.40" y="264.65" width="5.05" height="9.01" fill="rgb(255,255,255)"/>
<rect x="59.45" y="264.65" width="5.05" height="9.01" fill="rgb(255,255,255)"/>
<rect x="64.50" y="264.65" width="5.05" height="9.01" fill="rgb(253,178,178)"/>
<rect x="69.55" y="264.65" width="5.05" height="9.01" fill="rgb(252,153,153)"/>
<rect x="74.60" y="264.65" width="5.05" height="9.01" fill="rgb(252,153,153)"/>
<rect x="79.65" y="264.65" width="5.05" height="9.01" fill="rgb(255,255,255)"/>
<rect x="14.00" y="273.66" width="5.05" height="9.01" fill="rgb(255,255,255)"/>
<rect x="19.05" y="273.66" width="5.05" height="9.01" fill="rgb(255,255,255)"/>
<rect x="24.10" y="273.66" width="5.05" height="9.01" fill="rgb(255,255,255)"/>
<rect x="29.15" y="273.66" width="5.05" height="9.01" fill="rgb(253,204,204)"/>
<rect x="34.20" y="273.66" width="5.05" height="9.01" fill="rgb(252,153,153)"/>
<rect x="39.25" y="273.66" width="5.05" height="9.01" fill="rgb(255,240,240)"/>
<rect x="44.30" y="273.66" width="5.05" height="9.01" fill="rgb(253,204,204)"/>
<rect x="49.35" y="273.66" width="5.05" height="9.01" fill="rgb(255,255,255)"/>
<rect x="54.40" y="273.66" width="5.05" height="9.01" fill="rgb(230,230,254)"/>
<rect x="59.45" y="273.66" width="5.05" height="9.01" fill="rgb(230,230,254)"/>
<rect x="64.50" y="273.66" width="5.05" height="9.01" fill="rgb(204,204,252)"/>
<rect x="69.55" y="273.66" width="5.05" height="9.01" fill="rgb(230,230,254)"/>
<rect x="74.60" y="273.66" width="5.05" height="9.01" fill="rgb(255,255,255)"/>
<rect x="79.65" y="273.66" width="5.05" height="9.01" fill="rgb(153,153,249)"/>
<rect x="14.00" y="282.67" width="5.05" height="9.01" fill="rgb(255,255,255)"/>
<rect x="19.05" y="282.67" width="5.05" height="9.01" fill="rgb(255,255,255)"/>
<rect x="24.10" y="282.67" width="5.05" height="9.01" fill="rgb(230,230,254)"/>
<rect x="29.15" y="282.67" width="5.05" height="9.01" fill="rgb(255,255,255)"/>
<rect x="34.20" y="282.67" width="5.05" height="9.01" fill="rgb(252,153,153)"/>
<rect x="39.25" y="282.67" width="5.05" height="9.01" fill="rgb(255,255,255)"/>
<rect x="44.30" y="282.67" width="5.05" height="9.01" fill="rgb(253,204,204)"/>
<rect x="49.35" y="282.67" width="5.05" height="9.01" fill="rgb(254,230,230)"/>
<rect x="54.40" y="282.67" width="5.05" height="9.01" fill="rgb(253,178,178)"/>
<rect x="59.45" y="282.67" width="5.05" height="9.01" fill="rgb(255,255,255)"/>
<rect x="64.50" y="282.67" width="5.05" height="9.01" fill="rgb(230,230,254)"/>
<rect x="69.55" y="282.67" width="5.05" height="9.01" fill="rgb(204,204,252)"/>
<rect x="74.60" y="282.67" width="5.05" height="9.01" fill="rgb(240,240,254)"/>
<rect x="79.65" y="282.67" width="5.05" height="9.01" fill="rgb(153,153,249)"/>
<rect x="14.00" y="291.68" width="5.05" height="9.01" fill="rgb(128,128,248)"/>
<rect x="19.05" y="291.68" width="5.05" height="9.01" fill="rgb(255,255,255)"/>
<rect x="24.10" y="291.68" width="5.05" height="9.01" fill="rgb(153,153,249)"/>
<rect x="29.15" y="291.68" width="5.05" height="9.01" fill="rgb(253,204,204)"/>
<rect x="34.20" y="291.68" width="5.05" height="9.01" fill="rgb(253,178,178)"/>
<rect x="39.25" y="291.68" width="5.05" height="9.01" fill="rgb(255,255,255)"/>
<rect x="44.30" y="291.68" width="5.05" height="9.01" fill="rgb(253,204,204)"/>
<rect x="49.35" y="291.68" width="5.05" height="9.01" fill="rgb(255,240,240)"/>
<rect x="54.40" y="291.68" width="5.05" height="9.01" fill="rgb(255,255,255)"/>
<rect x="59.45" y="291.68" width="5.05" height="9.01" fill="rgb(254,230,230)"/>
<rect x="64.50" y="291.68" width="5.05" height="9.01" fill="rgb(255,255,255)"/>
<rect x="69.55" y="291.68" width="5.05" height="9.01" fill="rgb(230,230,254)"/>
<rect x="74.60" y="291.68" width="5.05" height="9.01" fill="rgb(255,255,255)"/>
<rect x="79.65" y="291.68" width="5.05" height="9.01" fill="rgb(255,255,255)"/>
<rect x="14.00" y="300.69" width="5.05" height="9.01" fill="rgb(255,255,255)"/>
<rect x="19.05" y="300.69" width="5.05" height="9.01" fill="rgb(253,204,204)"/>
<rect x="24.10" y="300.69" width="5.05" height="9.01" fill="rgb(102,102,246)"/>
<rect x="29.15" y="300.69" width="5.05" height="9.01" fill="rgb(255,255,255)"/>
<rect x="34.20" y="300.69" width="5.05" height="9.01" fill="rgb(230,230,254)"/>
<rect x="39.25" y="300.69" width="5.05" height="9.01" fill="rgb(253,204,204)"/>
<rect x="44.30" y="300.69" width="5.05" height="9.01" fill="rgb(252,153,153)"/>
<rect x="49.35" y="300.69" width="5.05" height="9.01" fill="rgb(253,178,178)"/>
<rect x="54.40" y="300.69" width="5.05" height="9.01" fill="rgb(255,255,255)"/>
<rect x="59.45" y="300.69" width="5.05" height="9.01" fill="rgb(253,204,204)"/>
<rect x="64.50" y="300.69" width="5.05" height="9.01" fill="rgb(255,255,255)"/>
<rect x="69.55" y="300.69" width="5.05" height="9.01" fill="rgb(178,178,250)"/>
<rect x="74.60" y="300.69" width="5.05" height="9.01" fill="rgb(240,240,254)"/>
<rect x="79.65" y="300.69" width="5.05" height="9.01" fill="rgb(153,153,249)"/>
<rect x="14.00" y="309.70" width="5.05" height="9.01" fill="rgb(25,25,242)"/>
<rect x="19.05" y="309.70" width="5.05" height="9.01" fill="rgb(25,25,242)"/>
<rect x="24.10" y="309.70" width="5.05" height="9.01" fill="rgb(249,77,77)"/>
<rect x="29.15" y="309.70" width="5.05" height="9.01" fill="rgb(0,0,240)"/>
<rect x="34.20" y="309.70" width="5.05" height="9.01" fill="rgb(25,25,242)"/>
<rect x="39.25" y="309.70" width="5.05" height="9.01" fill="rgb(255,255,255)"/>
<rect x="44.30" y="309.70" width="5.05" height="9.01" fill="rgb(253,178,178)"/>
<rect x="49.35" y="309.70" width="5.05" height="9.01" fill="rgb(250,102,102)"/>
<rect x="54.40" y="309.70" width="5.05" height="9.01" fill="rgb(250,102,102)"/>
<rect x="59.45" y="309.70" width="5.05" height="9.01" fill="rgb(255,255,255)"/>
<rect x="64.50" y="309.70" width="5.05" height="9.01" fill="rgb(250,102,102)"/>
<rect x="69.55" y="309.70" width="5.05" height="9.01" fill="rgb(251,128,128)"/>
<rect x="74.60" y="309.70" width="5.05" height="9.01" fill="rgb(252,153,153)"/>
<rect x="79.65" y="309.70" width="5.05" height="9.01" fill="rgb(250,102,102)"/>
<rect x="14.00" y="318.71" width="5.05" height="9.01" fill="rgb(204,204,252)"/>
<rect x="19.05" y="318.71" width="5.05" height="9.01" fill="rgb(25,25,242)"/>
<rect x="24.10" y="318.71" width="5.05" height="9.01" fill="rgb(255,255,255)"/>
<rect x="29.15" y="318.71" width="5.05" height="9.01" fill="rgb(204,204,252)"/>
<rect x="34.20" y="318.71" width="5.05" height="9.01" fill="rgb(204,204,252)"/>
<rect x="39.25" y="318.71" width="5.05" height="9.01" fill="rgb(204,204,252)"/>
<rect x="44.30" y="318.71" width="5.05" height="9.01" fill="rgb(204,204,252)"/>
<rect x="49.35" y="318.71" width="5.05" height="9.01" fill="rgb(255,255,255)"/>
<rect x="54.40" y="318.71" width="5.05" height="9.01" fill="rgb(178,178,250)"/>
<rect x="59.45" y="318.71" width="5.05" height="9.01" fill="rgb(253,178,178)"/>
<rect x="64.50" y="318.71" width="5.05" height="9.01" fill="rgb(178,178,250)"/>
<rect x="69.55" y="318.71" width="5.05" height="9.01" fill="rgb(249,51,51)"/>
<rect x="74.60" y="318.71" width="5.05" height="9.01" fill="rgb(255,255,255)"/>
<rect x="79.65" y="318.71" width="5.05" height="9.01" fill="rgb(247,0,0)"/>
<rect x="14.00" y="327.72" width="5.05" height="9.01" fill="rgb(153,153,249)"/>
<rect x="19.05" y="327.72" width="5.05" height="9.01" fill="rgb(230,230,254)"/>
<rect x="24.10" y="327.72" width="5.05" height="9.01" fill="rgb(204,204,252)"/>
<rect x="29.15" y="327.72" width="5.05" height="9.01" fill="rgb(204,204,252)"/>
<rect x="34.20" y="327.72" width="5.05" height="9.01" fill="rgb(255,255,255)"/>
<rect x="39.25" y="327.72" width="5.05" height="9.01" fill="rgb(204,204,252)"/>
<rect x="44.30" y="327.72" width="5.05" height="9.01" fill="rgb(204,204,252)"/>
<rect x="49.35" y="327.72" width="5.05" height="9.01" fill="rgb(254,230,230)"/>
<rect x="54.40" y="327.72" width="5.05" height="9.01" fill="rgb(178,178,250)"/>
<rect x="59.45" y="327.72" width="5.05" height="9.01" fill="rgb(253,204,204)"/>
<rect x="64.50" y="327.72" width="5.05" height="9.01" fill="rgb(253,178,178)"/>
<rect x="69.55" y="327.72" width="5.05" height="9.01" fill="rgb(252,153,153)"/>
<rect x="74.60" y="327.72" width="5.05" height="9.01" fill="rgb(251,128,128)"/>
<rect x="79.65" y="327.72" width="5.05" height="9.01" fill="rgb(252,153,153)"/>
<rect x="14.00" y="336.73" width="5.05" height="9.01" fill="rgb(178,178,250)"/>
<rect x="19.05" y="336.73" width="5.05" height="9.01" fill="rgb(255,255,255)"/>
<rect x="24.10" y="336.73" width="5.05" height="9.01" fill="rgb(178,178,250)"/>
<rect x="29.15" y="336.73" width="5.05" height="9.01" fill="rgb(204,204,252)"/>
<rect x="34.20" y="336.73" width="5.05" height="9.01" fill="rgb(255,255,255)"/>
<rect x="39.25" y="336.73" width="5.05" height="9.01" fill="rgb(204,204,252)"/>
<rect x="44.30" y="336.73" width="5.05" height="9.01" fill="rgb(178,178,250)"/>
<rect x="49.35" y="336.73" width="5.05" height="9.01" fill="rgb(253,204,204)"/>
<rect x="54.40" y="336.73" width="5.05" height="9.01" fill="rgb(255,255,255)"/>
<rect x="59.45" y="336.73" width="5.05" height="9.01" fill="rgb(255,255,255)"/>
<rect x="64.50" y="336.73" width="5.05" height="9.01" fill="rgb(253,204,204)"/>
<rect x="69.55" y="336.73" width="5.05" height="9.01" fill="rgb(250,102,102)"/>
<rect x="74.60" y="336.73" width="5.05" height="9.01" fill="rgb(252,153,153)"/>
<rect x="79.65" y="336.73" width="5.05" height="9.01" fill="rgb(251,128,128)"/>
<rect x="14.00" y="345.74" width="5.05" height="9.01" fill="rgb(252,153,153)"/>
<rect x="19.05" y="345.74" width="5.05" height="9.01" fill="rgb(178,178,250)"/>
<rect x="24.10" y="345.74" width="5.05" height="9.01" fill="rgb(255,255,255)"/>
<rect x="29.15" y="345.74" width="5.05" height="9.01" fill="rgb(77,77,244)"/>
<rect x="34.20" y="345.74" width="5.05" height="9.01" fill="rgb(51,51,243)"/>
<rect x="39.25" y="345.74" width="5.05" height="9.01" fill="rgb(77,77,244)"/>
<rect x="44.30" y="345.74" width="5.05" height="9.01" fill="rgb(204,204,252)"/>
<rect x="49.35" y="345.74" width="5.05" height="9.01" fill="rgb(255,255,255)"/>
<rect x="54.40" y="345.74" width="5.05" height="9.01" fill="rgb(252,153,153)"/>
<rect x="59.45" y="345.74" width="5.05" height="9.01" fill="rgb(252,153,153)"/>
<rect x="64.50" y="345.74" width="5.05" height="9.01" fill="rgb(253,178,178)"/>
<rect x="69.55" y="345.74" width="5.05" height="9.01" fill="rgb(250,102,102)"/>
<rect x="74.60" y="345.74" width="5.05" height="9.01" fill="rgb(251,128,128)"/>
<rect x="79.65" y="345.74" width="5.05" height="9.01" fill="rgb(252,153,153)"/>
<rect x="14.00" y="354.75" width="5.05" height="9.01" fill="rgb(178,178,250)"/>
<rect x="19.05" y="354.75" width="5.05" height="9.01" fill="rgb(250,102,102)"/>
<rect x="24.10" y="354.75" width="5.05" height="9.01" fill="rgb(255,255,255)"/>
<rect x="29.15" y="354.75" width="5.05" height="9.01" fill="rgb(102,102,246)"/>
<rect x="34.20" y="354.75" width="5.05" height="9.01" fill="rgb(0,0,240)"/>
<rect x="39.25" y="354.75" width="5.05" height="9.01" fill="rgb(0,0,240)"/>
<rect x="44.30" y="354.75" width="5.05" height="9.01" fill="rgb(178,178,250)"/>
<rect x="49.35" y="354.75" width="5.05" height="9.01" fill="rgb(252,153,153)"/>
<rect x="54.40" y="354.75" width="5.05" height="9.01" fill="rgb(250,102,102)"/>
<rect x="59.45" y="354.75" width="5.05" height="9.01" fill="rgb(253,178,178)"/>
<rect x="64.50" y="354.75" width="5.05" height="9.01" fill="rgb(253,204,204)"/>
<rect x="69.55" y="354.75" width="5.05" height="9.01" fill="rgb(252,153,153)"/>
<rect x="74.60" y="354.75" width="5.05" height="9.01" fill="rgb(251,128,128)"/>
<rect x="79.65" y="354.75" width="5.05" height="9.01" fill="rgb(251,128,128)"/>
<rect x="14.00" y="363.76" width="5.05" height="9.01" fill="rgb(25,25,242)"/>
<rect x="19.05" y="363.76" width="5.05" height="9.01" fill="rgb(252,153,153)"/>
<rect x="24.10" y="363.76" width="5.05" height="9.01" fill="rgb(252,153,153)"/>
<rect x="29.15" y="363.76" width="5.05" height="9.01" fill="rgb(102,102,246)"/>
<rect x="34.20" y="363.76" width="5.05" height="9.01" fill="rgb(178,178,250)"/>
<rect x="39.25" y="363.76" width="5.05" height="9.01" fill="rgb(0,0,240)"/>
<rect x="44.30" y="363.76" width="5.05" height="9.01" fill="rgb(0,0,240)"/>
<rect x="49.35" y="363.76" width="5.05" height="9.01" fill="rgb(253,178,178)"/>
<rect x="54.40" y="363.76" width="5.05" height="9.01" fill="rgb(252,153,153)"/>
<rect x="59.45" y="363.76" width="5.05" height="9.01" fill="rgb(252,153,153)"/>
<rect x="64.50" y="363.76" width="5.05" height="9.01" fill="rgb(251,128,128)"/>
<rect x="69.55" y="363.76" width="5.05" height="9.01" fill="rgb(252,153,153)"/>
<rect x="74.60" y="363.76" width="5.05" height="9.01" fill="rgb(251,128,128)"/>
<rect x="79.65" y="363.76" width="5.05" height="9.01" fill="rgb(253,178,178)"/>
<rect x="14.00" y="372.77" width="5.05" height="9.01" fill="rgb(253,178,178)"/>
<rect x="19.05" y="372.77" width="5.05" height="9.01" fill="rgb(249,77,77)"/>
<rect x="24.10" y="372.77" width="5.05" height="9.01" fill="rgb(249,77,77)"/>
<rect x="29.15" y="372.77" width="5.05" height="9.01" fill="rgb(178,178,250)"/>
<rect x="34.20" y="372.77" width="5.05" height="9.01" fill="rgb(0,0,240)"/>
<rect x="39.25" y="372.77" width="5.05" height="9.01" fill="rgb(25,25,242)"/>
<rect x="44.30" y="372.77" width="5.05" height="9.01" fill="rgb(0,0,240)"/>
<rect x="49.35" y="372.77" width="5.05" height="9.01" fill="rgb(253,178,178)"/>
<rect x="54.40" y="372.77" width="5.05" height="9.01" fill="rgb(252,153,153)"/>
<rect x="59.45" y="372.77" width="5.05" height="9.01" fill="rgb(253,178,178)"/>
<rect x="64.50" y="372.77" width="5.05" height="9.01" fill="rgb(253,178,178)"/>
<rect x="69.55" y="372.77" width="5.05" height="9.01" fill="rgb(253,178,178)"/>
<rect x="74.60" y="372.77" width="5.05" height="9.01" fill="rgb(253,178,178)"/>
<rect x="79.65" y="372.77" width="5.05" height="9.01" fill="rgb(253,204,204)"/>
<rect x="14.00" y="381.78" width="5.05" height="9.01" fill="rgb(102,102,246)"/>
<rect x="19.05" y="381.78" width="5.05" height="9.01" fill="rgb(25,25,242)"/>
<rect x="24.10" y="381.78" width="5.05" height="9.01" fill="rgb(25,25,242)"/>
<rect x="29.15" y="381.78" width="5.05" height="9.01" fill="rgb(25,25,242)"/>
<rect x="34.20" y="381.78" width="5.05" height="9.01" fill="rgb(102,102,246)"/>
<rect x="39.25" y="381.78" width="5.05" height="9.01" fill="rgb(25,25,242)"/>
<rect x="44.30" y="381.78" width="5.05" height="9.01" fill="rgb(0,0,240)"/>
<rect x="49.35" y="381.78" width="5.05" height="9.01" fill="rgb(249,77,77)"/>
<rect x="54.40" y="381.78" width="5.05" height="9.01" fill="rgb(251,128,128)"/>
<rect x="59.45" y="381.78" width="5.05" height="9.01" fill="rgb(250,102,102)"/>
<rect x="64.50" y="381.78" width="5.05" height="9.01" fill="rgb(247,0,0)"/>
<rect x="69.55" y="381.78" width="5.05" height="9.01" fill="rgb(247,0,0)"/>
<rect x="74.60" y="381.78" width="5.05" height="9.01" fill="rgb(247,0,0)"/>
<rect x="79.65" y="381.78" width="5.05" height="9.01" fill="rgb(247,0,0)"/>
<rect x="14.00" y="390.79" width="5.05" height="9.01" fill="rgb(0,0,240)"/>
<rect x="19.05" y="390.79" width="5.05" height="9.01" fill="rgb(0,0,240)"/>
<rect x="24.10" y="390.79" width="5.05" height="9.01" fill="rgb(0,0,240)"/>
<rect x="29.15" y="390.79" width="5.05" height="9.01" fill="rgb(255,255,255)"/>
<rect x="34.20" y="390.79" width="5.05" height="9.01" fill="rgb(0,0,240)"/>
<rect x="39.25" y="390.79" width="5.05" height="9.01" fill="rgb(0,0,240)"/>
<rect x="44.30" y="390.79" width="5.05" height="9.01" fill="rgb(0,0,240)"/>
<rect x="49.35" y="390.79" width="5.05" height="9.01" fill="rgb(247,0,0)"/>
<rect x="54.40" y="390.79" width="5.05" height="9.01" fill="rgb(249,77,77)"/>
<rect x="59.45" y="390.79" width="5.05" height="9.01" fill="rgb(247,0,0)"/>
<rect x="64.50" y="390.79" width="5.05" height="9.01" fill="rgb(247,0,0)"/>
<rect x="69.55" y="390.79" width="5.05" height="9.01" fill="rgb(247,0,0)"/>
<rect x="74.60" y="390.79" width="5.05" height="9.01" fill="rgb(247,0,0)"/>
<rect x="79.65" y="390.79" width="5.05" height="9.01" fill="rgb(247,0,0)"/>
<line x1="14.00" y1="39.4" x2="14.00" y2="399.79999999999995" stroke="rgba(0,0,40,0.30)" stroke-width="0.8"/>
<line x1="19.05" y1="39.4" x2="19.05" y2="399.79999999999995" stroke="rgba(0,0,40,0.30)" stroke-width="0.8"/>
<line x1="24.10" y1="39.4" x2="24.10" y2="399.79999999999995" stroke="rgba(0,0,40,0.30)" stroke-width="0.8"/>
<line x1="29.15" y1="39.4" x2="29.15" y2="399.79999999999995" stroke="rgba(0,0,40,0.30)" stroke-width="0.8"/>
<line x1="34.20" y1="39.4" x2="34.20" y2="399.79999999999995" stroke="rgba(0,0,40,0.30)" stroke-width="0.8"/>
<line x1="39.25" y1="39.4" x2="39.25" y2="399.79999999999995" stroke="rgba(0,0,40,0.30)" stroke-width="0.8"/>
<line x1="44.30" y1="39.4" x2="44.30" y2="399.79999999999995" stroke="rgba(0,0,40,0.30)" stroke-width="0.8"/>
<line x1="49.35" y1="39.4" x2="49.35" y2="399.79999999999995" stroke="rgba(0,0,40,0.30)" stroke-width="0.8"/>
<line x1="54.40" y1="39.4" x2="54.40" y2="399.79999999999995" stroke="rgba(0,0,40,0.30)" stroke-width="0.8"/>
<line x1="59.45" y1="39.4" x2="59.45" y2="399.79999999999995" stroke="rgba(0,0,40,0.30)" stroke-width="0.8"/>
<line x1="64.50" y1="39.4" x2="64.50" y2="399.79999999999995" stroke="rgba(0,0,40,0.30)" stroke-width="0.8"/>
<line x1="69.55" y1="39.4" x2="69.55" y2="399.79999999999995" stroke="rgba(0,0,40,0.30)" stroke-width="0.8"/>
<line x1="74.60" y1="39.4" x2="74.60" y2="399.79999999999995" stroke="rgba(0,0,40,0.30)" stroke-width="0.8"/>
<line x1="79.65" y1="39.4" x2="79.65" y2="399.79999999999995" stroke="rgba(0,0,40,0.30)" stroke-width="0.8"/>
<line x1="84.70" y1="39.4" x2="84.70" y2="399.79999999999995" stroke="rgba(0,0,40,0.30)" stroke-width="0.8"/>
<line x1="14.0" y1="39.40" x2="84.70" y2="39.40" stroke="rgba(0,0,40,0.30)" stroke-width="0.8"/>
<line x1="14.0" y1="48.41" x2="84.70" y2="48.41" stroke="rgba(0,0,40,0.30)" stroke-width="0.8"/>
<line x1="14.0" y1="57.42" x2="84.70" y2="57.42" stroke="rgba(0,0,40,0.30)" stroke-width="0.8"/>
<line x1="14.0" y1="66.43" x2="84.70" y2="66.43" stroke="rgba(0,0,40,0.30)" stroke-width="0.8"/>
<line x1="14.0" y1="75.44" x2="84.70" y2="75.44" stroke="rgba(0,0,40,0.30)" stroke-width="0.8"/>
<line x1="14.0" y1="84.45" x2="84.70" y2="84.45" stroke="rgba(0,0,40,0.30)" stroke-width="0.8"/>
<line x1="14.0" y1="93.46" x2="84.70" y2="93.46" stroke="rgba(0,0,40,0.30)" stroke-width="0.8"/>
<line x1="14.0" y1="102.47" x2="84.70" y2="102.47" stroke="rgba(0,0,40,0.30)" stroke-width="0.8"/>
<line x1="14.0" y1="111.48" x2="84.70" y2="111.48" stroke="rgba(0,0,40,0.30)" stroke-width="0.8"/>
<line x1="14.0" y1="120.49" x2="84.70" y2="120.49" stroke="rgba(0,0,40,0.30)" stroke-width="0.8"/>
<line x1="14.0" y1="129.50" x2="84.70" y2="129.50" stroke="rgba(0,0,40,0.30)" stroke-width="0.8"/>
<line x1="14.0" y1="138.51" x2="84.70" y2="138.51" stroke="rgba(0,0,40,0.30)" stroke-width="0.8"/>
<line x1="14.0" y1="147.52" x2="84.70" y2="147.52" stroke="rgba(0,0,40,0.30)" stroke-width="0.8"/>
<line x1="14.0" y1="156.53" x2="84.70" y2="156.53" stroke="rgba(0,0,40,0.30)" stroke-width="0.8"/>
<line x1="14.0" y1="165.54" x2="84.70" y2="165.54" stroke="rgba(0,0,40,0.30)" stroke-width="0.8"/>
<line x1="14.0" y1="174.55" x2="84.70" y2="174.55" stroke="rgba(0,0,40,0.30)" stroke-width="0.8"/>
<line x1="14.0" y1="183.56" x2="84.70" y2="183.56" stroke="rgba(0,0,40,0.30)" stroke-width="0.8"/>
<line x1="14.0" y1="192.57" x2="84.70" y2="192.57" stroke="rgba(0,0,40,0.30)" stroke-width="0.8"/>
<line x1="14.0" y1="201.58" x2="84.70" y2="201.58" stroke="rgba(0,0,40,0.30)" stroke-width="0.8"/>
<line x1="14.0" y1="210.59" x2="84.70" y2="210.59" stroke="rgba(0,0,40,0.30)" stroke-width="0.8"/>
<line x1="14.0" y1="219.60" x2="84.70" y2="219.60" stroke="rgba(0,0,40,0.30)" stroke-width="0.8"/>
<line x1="14.0" y1="228.61" x2="84.70" y2="228.61" stroke="rgba(0,0,40,0.30)" stroke-width="0.8"/>
<line x1="14.0" y1="237.62" x2="84.70" y2="237.62" stroke="rgba(0,0,40,0.30)" stroke-width="0.8"/>
<line x1="14.0" y1="246.63" x2="84.70" y2="246.63" stroke="rgba(0,0,40,0.30)" stroke-width="0.8"/>
<line x1="14.0" y1="255.64" x2="84.70" y2="255.64" stroke="rgba(0,0,40,0.30)" stroke-width="0.8"/>
<line x1="14.0" y1="264.65" x2="84.70" y2="264.65" stroke="rgba(0,0,40,0.30)" stroke-width="0.8"/>
<line x1="14.0" y1="273.66" x2="84.70" y2="273.66" stroke="rgba(0,0,40,0.30)" stroke-width="0.8"/>
<line x1="14.0" y1="282.67" x2="84.70" y2="282.67" stroke="rgba(0,0,40,0.30)" stroke-width="0.8"/>
<line x1="14.0" y1="291.68" x2="84.70" y2="291.68" stroke="rgba(0,0,40,0.30)" stroke-width="0.8"/>
<line x1="14.0" y1="300.69" x2="84.70" y2="300.69" stroke="rgba(0,0,40,0.30)" stroke-width="0.8"/>
<line x1="14.0" y1="309.70" x2="84.70" y2="309.70" stroke="rgba(0,0,40,0.30)" stroke-width="0.8"/>
<line x1="14.0" y1="318.71" x2="84.70" y2="318.71" stroke="rgba(0,0,40,0.30)" stroke-width="0.8"/>
<line x1="14.0" y1="327.72" x2="84.70" y2="327.72" stroke="rgba(0,0,40,0.30)" stroke-width="0.8"/>
<line x1="14.0" y1="336.73" x2="84.70" y2="336.73" stroke="rgba(0,0,40,0.30)" stroke-width="0.8"/>
<line x1="14.0" y1="345.74" x2="84.70" y2="345.74" stroke="rgba(0,0,40,0.30)" stroke-width="0.8"/>
<line x1="14.0" y1="354.75" x2="84.70" y2="354.75" stroke="rgba(0,0,40,0.30)" stroke-width="0.8"/>
<line x1="14.0" y1="363.76" x2="84.70" y2="363.76" stroke="rgba(0,0,40,0.30)" stroke-width="0.8"/>
<line x1="14.0" y1="372.77" x2="84.70" y2="372.77" stroke="rgba(0,0,40,0.30)" stroke-width="0.8"/>
<line x1="14.0" y1="381.78" x2="84.70" y2="381.78" stroke="rgba(0,0,40,0.30)" stroke-width="0.8"/>
<line x1="14.0" y1="390.79" x2="84.70" y2="390.79" stroke="rgba(0,0,40,0.30)" stroke-width="0.8"/>
<line x1="14.0" y1="399.80" x2="84.70" y2="399.80" stroke="rgba(0,0,40,0.30)" stroke-width="0.8"/>
<rect x="175.90" y="48.10" width="5.11" height="10.54" fill="rgb(178,178,250)"/>
<rect x="181.00" y="48.10" width="5.11" height="10.54" fill="rgb(204,204,252)"/>
<rect x="186.11" y="48.10" width="5.11" height="10.54" fill="rgb(178,178,250)"/>
<rect x="191.22" y="48.10" width="5.11" height="10.54" fill="rgb(230,230,254)"/>
<rect x="196.32" y="48.10" width="5.11" height="10.54" fill="rgb(178,178,250)"/>
<rect x="201.43" y="48.10" width="5.11" height="10.54" fill="rgb(204,204,252)"/>
<rect x="206.53" y="48.10" width="5.11" height="10.54" fill="rgb(230,230,254)"/>
<rect x="211.63" y="48.10" width="5.11" height="10.54" fill="rgb(178,178,250)"/>
<rect x="216.74" y="48.10" width="5.11" height="10.54" fill="rgb(230,230,254)"/>
<rect x="221.85" y="48.10" width="5.11" height="10.54" fill="rgb(255,255,255)"/>
<rect x="226.95" y="48.10" width="5.11" height="10.54" fill="rgb(178,178,250)"/>
<rect x="232.06" y="48.10" width="5.11" height="10.54" fill="rgb(102,102,246)"/>
<rect x="237.16" y="48.10" width="5.11" height="10.54" fill="rgb(230,230,254)"/>
<rect x="242.27" y="48.10" width="5.11" height="10.54" fill="rgb(178,178,250)"/>
<rect x="247.37" y="48.10" width="5.11" height="10.54" fill="rgb(204,204,252)"/>
<rect x="252.48" y="48.10" width="5.11" height="10.54" fill="rgb(128,128,248)"/>
<rect x="257.58" y="48.10" width="5.11" height="10.54" fill="rgb(153,153,249)"/>
<rect x="262.69" y="48.10" width="5.11" height="10.54" fill="rgb(102,102,246)"/>
<rect x="267.79" y="48.10" width="5.11" height="10.54" fill="rgb(102,102,246)"/>
<rect x="272.89" y="48.10" width="5.11" height="10.54" fill="rgb(255,255,255)"/>
<rect x="278.00" y="48.10" width="5.11" height="10.54" fill="rgb(240,240,254)"/>
<rect x="283.11" y="48.10" width="5.11" height="10.54" fill="rgb(153,153,249)"/>
<rect x="288.21" y="48.10" width="5.11" height="10.54" fill="rgb(230,230,254)"/>
<rect x="293.31" y="48.10" width="5.11" height="10.54" fill="rgb(178,178,250)"/>
<rect x="298.42" y="48.10" width="5.11" height="10.54" fill="rgb(255,255,255)"/>
<rect x="303.53" y="48.10" width="5.11" height="10.54" fill="rgb(204,204,252)"/>
<rect x="308.63" y="48.10" width="5.11" height="10.54" fill="rgb(178,178,250)"/>
<rect x="313.74" y="48.10" width="5.11" height="10.54" fill="rgb(240,240,254)"/>
<rect x="318.84" y="48.10" width="5.11" height="10.54" fill="rgb(230,230,254)"/>
<rect x="323.95" y="48.10" width="5.11" height="10.54" fill="rgb(253,178,178)"/>
<rect x="329.05" y="48.10" width="5.11" height="10.54" fill="rgb(253,204,204)"/>
<rect x="334.16" y="48.10" width="5.11" height="10.54" fill="rgb(153,153,249)"/>
<rect x="339.26" y="48.10" width="5.11" height="10.54" fill="rgb(178,178,250)"/>
<rect x="344.37" y="48.10" width="5.11" height="10.54" fill="rgb(153,153,249)"/>
<rect x="349.47" y="48.10" width="5.11" height="10.54" fill="rgb(153,153,249)"/>
<rect x="354.58" y="48.10" width="5.11" height="10.54" fill="rgb(230,230,254)"/>
<rect x="359.68" y="48.10" width="5.11" height="10.54" fill="rgb(255,255,255)"/>
<rect x="364.79" y="48.10" width="5.11" height="10.54" fill="rgb(240,240,254)"/>
<rect x="369.89" y="48.10" width="5.11" height="10.54" fill="rgb(255,255,255)"/>
<rect x="375.00" y="48.10" width="5.11" height="10.54" fill="rgb(178,178,250)"/>
<rect x="380.10" y="48.10" width="5.11" height="10.54" fill="rgb(247,0,0)"/>
<rect x="385.21" y="48.10" width="5.11" height="10.54" fill="rgb(253,204,204)"/>
<rect x="390.31" y="48.10" width="5.11" height="10.54" fill="rgb(253,204,204)"/>
<rect x="395.42" y="48.10" width="5.11" height="10.54" fill="rgb(253,178,178)"/>
<rect x="400.52" y="48.10" width="5.11" height="10.54" fill="rgb(250,102,102)"/>
<rect x="405.62" y="48.10" width="5.11" height="10.54" fill="rgb(247,0,0)"/>
<rect x="410.73" y="48.10" width="5.11" height="10.54" fill="rgb(252,153,153)"/>
<rect x="415.84" y="48.10" width="5.11" height="10.54" fill="rgb(253,178,178)"/>
<rect x="420.94" y="48.10" width="5.11" height="10.54" fill="rgb(247,0,0)"/>
<rect x="426.05" y="48.10" width="5.11" height="10.54" fill="rgb(255,255,255)"/>
<rect x="431.15" y="48.10" width="5.11" height="10.54" fill="rgb(253,204,204)"/>
<rect x="436.25" y="48.10" width="5.11" height="10.54" fill="rgb(247,0,0)"/>
<rect x="441.36" y="48.10" width="5.11" height="10.54" fill="rgb(252,153,153)"/>
<rect x="446.47" y="48.10" width="5.11" height="10.54" fill="rgb(253,204,204)"/>
<rect x="451.57" y="48.10" width="5.11" height="10.54" fill="rgb(249,77,77)"/>
<rect x="175.90" y="58.65" width="5.11" height="10.54" fill="rgb(230,230,254)"/>
<rect x="181.00" y="58.65" width="5.11" height="10.54" fill="rgb(178,178,250)"/>
<rect x="186.11" y="58.65" width="5.11" height="10.54" fill="rgb(204,204,252)"/>
<rect x="191.22" y="58.65" width="5.11" height="10.54" fill="rgb(204,204,252)"/>
<rect x="196.32" y="58.65" width="5.11" height="10.54" fill="rgb(153,153,249)"/>
<rect x="201.43" y="58.65" width="5.11" height="10.54" fill="rgb(204,204,252)"/>
<rect x="206.53" y="58.65" width="5.11" height="10.54" fill="rgb(178,178,250)"/>
<rect x="211.63" y="58.65" width="5.11" height="10.54" fill="rgb(204,204,252)"/>
<rect x="216.74" y="58.65" width="5.11" height="10.54" fill="rgb(178,178,250)"/>
<rect x="221.85" y="58.65" width="5.11" height="10.54" fill="rgb(255,255,255)"/>
<rect x="226.95" y="58.65" width="5.11" height="10.54" fill="rgb(178,178,250)"/>
<rect x="232.06" y="58.65" width="5.11" height="10.54" fill="rgb(102,102,246)"/>
<rect x="237.16" y="58.65" width="5.11" height="10.54" fill="rgb(204,204,252)"/>
<rect x="242.27" y="58.65" width="5.11" height="10.54" fill="rgb(178,178,250)"/>
<rect x="247.37" y="58.65" width="5.11" height="10.54" fill="rgb(178,178,250)"/>
<rect x="252.48" y="58.65" width="5.11" height="10.54" fill="rgb(153,153,249)"/>
<rect x="257.58" y="58.65" width="5.11" height="10.54" fill="rgb(153,153,249)"/>
<rect x="262.69" y="58.65" width="5.11" height="10.54" fill="rgb(153,153,249)"/>
<rect x="267.79" y="58.65" width="5.11" height="10.54" fill="rgb(102,102,246)"/>
<rect x="272.89" y="58.65" width="5.11" height="10.54" fill="rgb(240,240,254)"/>
<rect x="278.00" y="58.65" width="5.11" height="10.54" fill="rgb(230,230,254)"/>
<rect x="283.11" y="58.65" width="5.11" height="10.54" fill="rgb(178,178,250)"/>
<rect x="288.21" y="58.65" width="5.11" height="10.54" fill="rgb(255,255,255)"/>
<rect x="293.31" y="58.65" width="5.11" height="10.54" fill="rgb(178,178,250)"/>
<rect x="298.42" y="58.65" width="5.11" height="10.54" fill="rgb(204,204,252)"/>
<rect x="303.53" y="58.65" width="5.11" height="10.54" fill="rgb(240,240,254)"/>
<rect x="308.63" y="58.65" width="5.11" height="10.54" fill="rgb(178,178,250)"/>
<rect x="313.74" y="58.65" width="5.11" height="10.54" fill="rgb(255,255,255)"/>
<rect x="318.84" y="58.65" width="5.11" height="10.54" fill="rgb(219,219,253)"/>
<rect x="323.95" y="58.65" width="5.11" height="10.54" fill="rgb(253,178,178)"/>
<rect x="329.05" y="58.65" width="5.11" height="10.54" fill="rgb(253,204,204)"/>
<rect x="334.16" y="58.65" width="5.11" height="10.54" fill="rgb(153,153,249)"/>
<rect x="339.26" y="58.65" width="5.11" height="10.54" fill="rgb(153,153,249)"/>
<rect x="344.37" y="58.65" width="5.11" height="10.54" fill="rgb(128,128,248)"/>
<rect x="349.47" y="58.65" width="5.11" height="10.54" fill="rgb(153,153,249)"/>
<rect x="354.58" y="58.65" width="5.11" height="10.54" fill="rgb(255,255,255)"/>
<rect x="359.68" y="58.65" width="5.11" height="10.54" fill="rgb(254,230,230)"/>
<rect x="364.79" y="58.65" width="5.11" height="10.54" fill="rgb(255,255,255)"/>
<rect x="369.89" y="58.65" width="5.11" height="10.54" fill="rgb(230,230,254)"/>
<rect x="375.00" y="58.65" width="5.11" height="10.54" fill="rgb(178,178,250)"/>
<rect x="380.10" y="58.65" width="5.11" height="10.54" fill="rgb(247,0,0)"/>
<rect x="385.21" y="58.65" width="5.11" height="10.54" fill="rgb(253,204,204)"/>
<rect x="390.31" y="58.65" width="5.11" height="10.54" fill="rgb(253,204,204)"/>
<rect x="395.42" y="58.65" width="5.11" height="10.54" fill="rgb(252,153,153)"/>
<rect x="400.52" y="58.65" width="5.11" height="10.54" fill="rgb(248,25,25)"/>
<rect x="405.62" y="58.65" width="5.11" height="10.54" fill="rgb(247,0,0)"/>
<rect x="410.73" y="58.65" width="5.11" height="10.54" fill="rgb(252,153,153)"/>
<rect x="415.84" y="58.65" width="5.11" height="10.54" fill="rgb(253,178,178)"/>
<rect x="420.94" y="58.65" width="5.11" height="10.54" fill="rgb(247,0,0)"/>
<rect x="426.05" y="58.65" width="5.11" height="10.54" fill="rgb(255,255,255)"/>
<rect x="431.15" y="58.65" width="5.11" height="10.54" fill="rgb(253,204,204)"/>
<rect x="436.25" y="58.65" width="5.11" height="10.54" fill="rgb(247,0,0)"/>
<rect x="441.36" y="58.65" width="5.11" height="10.54" fill="rgb(252,153,153)"/>
<rect x="446.47" y="58.65" width="5.11" height="10.54" fill="rgb(253,178,178)"/>
<rect x="451.57" y="58.65" width="5.11" height="10.54" fill="rgb(249,51,51)"/>
<rect x="175.90" y="69.19" width="5.11" height="10.54" fill="rgb(153,153,249)"/>
<rect x="181.00" y="69.19" width="5.11" height="10.54" fill="rgb(204,204,252)"/>
<rect x="186.11" y="69.19" width="5.11" height="10.54" fill="rgb(178,178,250)"/>
<rect x="191.22" y="69.19" width="5.11" height="10.54" fill="rgb(240,240,254)"/>
<rect x="196.32" y="69.19" width="5.11" height="10.54" fill="rgb(178,178,250)"/>
<rect x="201.43" y="69.19" width="5.11" height="10.54" fill="rgb(240,240,254)"/>
<rect x="206.53" y="69.19" width="5.11" height="10.54" fill="rgb(255,255,255)"/>
<rect x="211.63" y="69.19" width="5.11" height="10.54" fill="rgb(204,204,252)"/>
<rect x="216.74" y="69.19" width="5.11" height="10.54" fill="rgb(153,153,249)"/>
<rect x="221.85" y="69.19" width="5.11" height="10.54" fill="rgb(255,255,255)"/>
<rect x="226.95" y="69.19" width="5.11" height="10.54" fill="rgb(178,178,250)"/>
<rect x="232.06" y="69.19" width="5.11" height="10.54" fill="rgb(153,153,249)"/>
<rect x="237.16" y="69.19" width="5.11" height="10.54" fill="rgb(230,230,254)"/>
<rect x="242.27" y="69.19" width="5.11" height="10.54" fill="rgb(204,204,252)"/>
<rect x="247.37" y="69.19" width="5.11" height="10.54" fill="rgb(178,178,250)"/>
<rect x="252.48" y="69.19" width="5.11" height="10.54" fill="rgb(153,153,249)"/>
<rect x="257.58" y="69.19" width="5.11" height="10.54" fill="rgb(153,153,249)"/>
<rect x="262.69" y="69.19" width="5.11" height="10.54" fill="rgb(102,102,246)"/>
<rect x="267.79" y="69.19" width="5.11" height="10.54" fill="rgb(204,204,252)"/>
<rect x="272.89" y="69.19" width="5.11" height="10.54" fill="rgb(240,240,254)"/>
<rect x="278.00" y="69.19" width="5.11" height="10.54" fill="rgb(204,204,252)"/>
<rect x="283.11" y="69.19" width="5.11" height="10.54" fill="rgb(128,128,248)"/>
<rect x="288.21" y="69.19" width="5.11" height="10.54" fill="rgb(204,204,252)"/>
<rect x="293.31" y="69.19" width="5.11" height="10.54" fill="rgb(230,230,254)"/>
<rect x="298.42" y="69.19" width="5.11" height="10.54" fill="rgb(204,204,252)"/>
<rect x="303.53" y="69.19" width="5.11" height="10.54" fill="rgb(178,178,250)"/>
<rect x="308.63" y="69.19" width="5.11" height="10.54" fill="rgb(178,178,250)"/>
<rect x="313.74" y="69.19" width="5.11" height="10.54" fill="rgb(204,204,252)"/>
<rect x="318.84" y="69.19" width="5.11" height="10.54" fill="rgb(204,204,252)"/>
<rect x="323.95" y="69.19" width="5.11" height="10.54" fill="rgb(253,204,204)"/>
<rect x="329.05" y="69.19" width="5.11" height="10.54" fill="rgb(204,204,252)"/>
<rect x="334.16" y="69.19" width="5.11" height="10.54" fill="rgb(204,204,252)"/>
<rect x="339.26" y="69.19" width="5.11" height="10.54" fill="rgb(178,178,250)"/>
<rect x="344.37" y="69.19" width="5.11" height="10.54" fill="rgb(153,153,249)"/>
<rect x="349.47" y="69.19" width="5.11" height="10.54" fill="rgb(128,128,248)"/>
<rect x="354.58" y="69.19" width="5.11" height="10.54" fill="rgb(240,240,254)"/>
<rect x="359.68" y="69.19" width="5.11" height="10.54" fill="rgb(204,204,252)"/>
<rect x="364.79" y="69.19" width="5.11" height="10.54" fill="rgb(253,204,204)"/>
<rect x="369.89" y="69.19" width="5.11" height="10.54" fill="rgb(178,178,250)"/>
<rect x="375.00" y="69.19" width="5.11" height="10.54" fill="rgb(255,255,255)"/>
<rect x="380.10" y="69.19" width="5.11" height="10.54" fill="rgb(255,255,255)"/>
<rect x="385.21" y="69.19" width="5.11" height="10.54" fill="rgb(253,204,204)"/>
<rect x="390.31" y="69.19" width="5.11" height="10.54" fill="rgb(204,204,252)"/>
<rect x="395.42" y="69.19" width="5.11" height="10.54" fill="rgb(252,153,153)"/>
<rect x="400.52" y="69.19" width="5.11" height="10.54" fill="rgb(252,153,153)"/>
<rect x="405.62" y="69.19" width="5.11" height="10.54" fill="rgb(252,153,153)"/>
<rect x="410.73" y="69.19" width="5.11" height="10.54" fill="rgb(251,128,128)"/>
<rect x="415.84" y="69.19" width="5.11" height="10.54" fill="rgb(249,77,77)"/>
<rect x="420.94" y="69.19" width="5.11" height="10.54" fill="rgb(249,77,77)"/>
<rect x="426.05" y="69.19" width="5.11" height="10.54" fill="rgb(247,0,0)"/>
<rect x="431.15" y="69.19" width="5.11" height="10.54" fill="rgb(252,153,153)"/>
<rect x="436.25" y="69.19" width="5.11" height="10.54" fill="rgb(247,0,0)"/>
<rect x="441.36" y="69.19" width="5.11" height="10.54" fill="rgb(247,0,0)"/>
<rect x="446.47" y="69.19" width="5.11" height="10.54" fill="rgb(249,77,77)"/>
<rect x="451.57" y="69.19" width="5.11" height="10.54" fill="rgb(255,255,255)"/>
<rect x="175.90" y="79.73" width="5.11" height="10.54" fill="rgb(102,102,246)"/>
<rect x="181.00" y="79.73" width="5.11" height="10.54" fill="rgb(153,153,249)"/>
<rect x="186.11" y="79.73" width="5.11" height="10.54" fill="rgb(153,153,249)"/>
<rect x="191.22" y="79.73" width="5.11" height="10.54" fill="rgb(0,0,240)"/>
<rect x="196.32" y="79.73" width="5.11" height="10.54" fill="rgb(0,0,240)"/>
<rect x="201.43" y="79.73" width="5.11" height="10.54" fill="rgb(128,128,248)"/>
<rect x="206.53" y="79.73" width="5.11" height="10.54" fill="rgb(51,51,243)"/>
<rect x="211.63" y="79.73" width="5.11" height="10.54" fill="rgb(102,102,246)"/>
<rect x="216.74" y="79.73" width="5.11" height="10.54" fill="rgb(153,153,249)"/>
<rect x="221.85" y="79.73" width="5.11" height="10.54" fill="rgb(178,178,250)"/>
<rect x="226.95" y="79.73" width="5.11" height="10.54" fill="rgb(102,102,246)"/>
<rect x="232.06" y="79.73" width="5.11" height="10.54" fill="rgb(0,0,240)"/>
<rect x="237.16" y="79.73" width="5.11" height="10.54" fill="rgb(0,0,240)"/>
<rect x="242.27" y="79.73" width="5.11" height="10.54" fill="rgb(128,128,248)"/>
<rect x="247.37" y="79.73" width="5.11" height="10.54" fill="rgb(178,178,250)"/>
<rect x="252.48" y="79.73" width="5.11" height="10.54" fill="rgb(0,0,240)"/>
<rect x="257.58" y="79.73" width="5.11" height="10.54" fill="rgb(0,0,240)"/>
<rect x="262.69" y="79.73" width="5.11" height="10.54" fill="rgb(178,178,250)"/>
<rect x="267.79" y="79.73" width="5.11" height="10.54" fill="rgb(255,255,255)"/>
<rect x="272.89" y="79.73" width="5.11" height="10.54" fill="rgb(25,25,242)"/>
<rect x="278.00" y="79.73" width="5.11" height="10.54" fill="rgb(77,77,244)"/>
<rect x="283.11" y="79.73" width="5.11" height="10.54" fill="rgb(240,240,254)"/>
<rect x="288.21" y="79.73" width="5.11" height="10.54" fill="rgb(178,178,250)"/>
<rect x="293.31" y="79.73" width="5.11" height="10.54" fill="rgb(255,255,255)"/>
<rect x="298.42" y="79.73" width="5.11" height="10.54" fill="rgb(25,25,242)"/>
<rect x="303.53" y="79.73" width="5.11" height="10.54" fill="rgb(230,230,254)"/>
<rect x="308.63" y="79.73" width="5.11" height="10.54" fill="rgb(178,178,250)"/>
<rect x="313.74" y="79.73" width="5.11" height="10.54" fill="rgb(102,102,246)"/>
<rect x="318.84" y="79.73" width="5.11" height="10.54" fill="rgb(249,51,51)"/>
<rect x="323.95" y="79.73" width="5.11" height="10.54" fill="rgb(254,230,230)"/>
<rect x="329.05" y="79.73" width="5.11" height="10.54" fill="rgb(250,102,102)"/>
<rect x="334.16" y="79.73" width="5.11" height="10.54" fill="rgb(255,255,255)"/>
<rect x="339.26" y="79.73" width="5.11" height="10.54" fill="rgb(252,153,153)"/>
<rect x="344.37" y="79.73" width="5.11" height="10.54" fill="rgb(255,255,255)"/>
<rect x="349.47" y="79.73" width="5.11" height="10.54" fill="rgb(251,128,128)"/>
<rect x="354.58" y="79.73" width="5.11" height="10.54" fill="rgb(247,0,0)"/>
<rect x="359.68" y="79.73" width="5.11" height="10.54" fill="rgb(249,51,51)"/>
<rect x="364.79" y="79.73" width="5.11" height="10.54" fill="rgb(249,77,77)"/>
<rect x="369.89" y="79.73" width="5.11" height="10.54" fill="rgb(250,102,102)"/>
<rect x="375.00" y="79.73" width="5.11" height="10.54" fill="rgb(252,153,153)"/>
<rect x="380.10" y="79.73" width="5.11" height="10.54" fill="rgb(252,153,153)"/>
<rect x="385.21" y="79.73" width="5.11" height="10.54" fill="rgb(247,0,0)"/>
<rect x="390.31" y="79.73" width="5.11" height="10.54" fill="rgb(252,153,153)"/>
<rect x="395.42" y="79.73" width="5.11" height="10.54" fill="rgb(252,153,153)"/>
<rect x="400.52" y="79.73" width="5.11" height="10.54" fill="rgb(253,178,178)"/>
<rect x="405.62" y="79.73" width="5.11" height="10.54" fill="rgb(247,0,0)"/>
<rect x="410.73" y="79.73" width="5.11" height="10.54" fill="rgb(252,153,153)"/>
<rect x="415.84" y="79.73" width="5.11" height="10.54" fill="rgb(247,0,0)"/>
<rect x="420.94" y="79.73" width="5.11" height="10.54" fill="rgb(255,255,255)"/>
<rect x="426.05" y="79.73" width="5.11" height="10.54" fill="rgb(247,0,0)"/>
<rect x="431.15" y="79.73" width="5.11" height="10.54" fill="rgb(247,0,0)"/>
<rect x="436.25" y="79.73" width="5.11" height="10.54" fill="rgb(247,0,0)"/>
<rect x="441.36" y="79.73" width="5.11" height="10.54" fill="rgb(247,0,0)"/>
<rect x="446.47" y="79.73" width="5.11" height="10.54" fill="rgb(252,153,153)"/>
<rect x="451.57" y="79.73" width="5.11" height="10.54" fill="rgb(252,153,153)"/>
<rect x="175.90" y="90.28" width="5.11" height="10.54" fill="rgb(128,128,248)"/>
<rect x="181.00" y="90.28" width="5.11" height="10.54" fill="rgb(153,153,249)"/>
<rect x="186.11" y="90.28" width="5.11" height="10.54" fill="rgb(153,153,249)"/>
<rect x="191.22" y="90.28" width="5.11" height="10.54" fill="rgb(102,102,246)"/>
<rect x="196.32" y="90.28" width="5.11" height="10.54" fill="rgb(153,153,249)"/>
<rect x="201.43" y="90.28" width="5.11" height="10.54" fill="rgb(178,178,250)"/>
<rect x="206.53" y="90.28" width="5.11" height="10.54" fill="rgb(178,178,250)"/>
<rect x="211.63" y="90.28" width="5.11" height="10.54" fill="rgb(153,153,249)"/>
<rect x="216.74" y="90.28" width="5.11" height="10.54" fill="rgb(230,230,254)"/>
<rect x="221.85" y="90.28" width="5.11" height="10.54" fill="rgb(178,178,250)"/>
<rect x="226.95" y="90.28" width="5.11" height="10.54" fill="rgb(204,204,252)"/>
<rect x="232.06" y="90.28" width="5.11" height="10.54" fill="rgb(102,102,246)"/>
<rect x="237.16" y="90.28" width="5.11" height="10.54" fill="rgb(102,102,246)"/>
<rect x="242.27" y="90.28" width="5.11" height="10.54" fill="rgb(102,102,246)"/>
<rect x="247.37" y="90.28" width="5.11" height="10.54" fill="rgb(153,153,249)"/>
<rect x="252.48" y="90.28" width="5.11" height="10.54" fill="rgb(51,51,243)"/>
<rect x="257.58" y="90.28" width="5.11" height="10.54" fill="rgb(102,102,246)"/>
<rect x="262.69" y="90.28" width="5.11" height="10.54" fill="rgb(178,178,250)"/>
<rect x="267.79" y="90.28" width="5.11" height="10.54" fill="rgb(254,230,230)"/>
<rect x="272.89" y="90.28" width="5.11" height="10.54" fill="rgb(153,153,249)"/>
<rect x="278.00" y="90.28" width="5.11" height="10.54" fill="rgb(153,153,249)"/>
<rect x="283.11" y="90.28" width="5.11" height="10.54" fill="rgb(102,102,246)"/>
<rect x="288.21" y="90.28" width="5.11" height="10.54" fill="rgb(153,153,249)"/>
<rect x="293.31" y="90.28" width="5.11" height="10.54" fill="rgb(153,153,249)"/>
<rect x="298.42" y="90.28" width="5.11" height="10.54" fill="rgb(178,178,250)"/>
<rect x="303.53" y="90.28" width="5.11" height="10.54" fill="rgb(153,153,249)"/>
<rect x="308.63" y="90.28" width="5.11" height="10.54" fill="rgb(254,230,230)"/>
<rect x="313.74" y="90.28" width="5.11" height="10.54" fill="rgb(178,178,250)"/>
<rect x="318.84" y="90.28" width="5.11" height="10.54" fill="rgb(77,77,244)"/>
<rect x="323.95" y="90.28" width="5.11" height="10.54" fill="rgb(255,255,255)"/>
<rect x="329.05" y="90.28" width="5.11" height="10.54" fill="rgb(252,153,153)"/>
<rect x="334.16" y="90.28" width="5.11" height="10.54" fill="rgb(250,102,102)"/>
<rect x="339.26" y="90.28" width="5.11" height="10.54" fill="rgb(253,204,204)"/>
<rect x="344.37" y="90.28" width="5.11" height="10.54" fill="rgb(252,153,153)"/>
<rect x="349.47" y="90.28" width="5.11" height="10.54" fill="rgb(251,128,128)"/>
<rect x="354.58" y="90.28" width="5.11" height="10.54" fill="rgb(255,255,255)"/>
<rect x="359.68" y="90.28" width="5.11" height="10.54" fill="rgb(247,0,0)"/>
<rect x="364.79" y="90.28" width="5.11" height="10.54" fill="rgb(253,204,204)"/>
<rect x="369.89" y="90.28" width="5.11" height="10.54" fill="rgb(153,153,249)"/>
<rect x="375.00" y="90.28" width="5.11" height="10.54" fill="rgb(252,153,153)"/>
<rect x="380.10" y="90.28" width="5.11" height="10.54" fill="rgb(247,0,0)"/>
<rect x="385.21" y="90.28" width="5.11" height="10.54" fill="rgb(253,178,178)"/>
<rect x="390.31" y="90.28" width="5.11" height="10.54" fill="rgb(249,51,51)"/>
<rect x="395.42" y="90.28" width="5.11" height="10.54" fill="rgb(253,178,178)"/>
<rect x="400.52" y="90.28" width="5.11" height="10.54" fill="rgb(252,153,153)"/>
<rect x="405.62" y="90.28" width="5.11" height="10.54" fill="rgb(247,0,0)"/>
<rect x="410.73" y="90.28" width="5.11" height="10.54" fill="rgb(249,51,51)"/>
<rect x="415.84" y="90.28" width="5.11" height="10.54" fill="rgb(252,153,153)"/>
<rect x="420.94" y="90.28" width="5.11" height="10.54" fill="rgb(247,0,0)"/>
<rect x="426.05" y="90.28" width="5.11" height="10.54" fill="rgb(230,230,254)"/>
<rect x="431.15" y="90.28" width="5.11" height="10.54" fill="rgb(178,178,250)"/>
<rect x="436.25" y="90.28" width="5.11" height="10.54" fill="rgb(247,0,0)"/>
<rect x="441.36" y="90.28" width="5.11" height="10.54" fill="rgb(252,153,153)"/>
<rect x="446.47" y="90.28" width="5.11" height="10.54" fill="rgb(249,51,51)"/>
<rect x="451.57" y="90.28" width="5.11" height="10.54" fill="rgb(249,51,51)"/>
<rect x="175.90" y="100.83" width="5.11" height="10.54" fill="rgb(128,128,248)"/>
<rect x="181.00" y="100.83" width="5.11" height="10.54" fill="rgb(153,153,249)"/>
<rect x="186.11" y="100.83" width="5.11" height="10.54" fill="rgb(128,128,248)"/>
<rect x="191.22" y="100.83" width="5.11" height="10.54" fill="rgb(153,153,249)"/>
<rect x="196.32" y="100.83" width="5.11" height="10.54" fill="rgb(102,102,246)"/>
<rect x="201.43" y="100.83" width="5.11" height="10.54" fill="rgb(102,102,246)"/>
<rect x="206.53" y="100.83" width="5.11" height="10.54" fill="rgb(204,204,252)"/>
<rect x="211.63" y="100.83" width="5.11" height="10.54" fill="rgb(204,204,252)"/>
<rect x="216.74" y="100.83" width="5.11" height="10.54" fill="rgb(153,153,249)"/>
<rect x="221.85" y="100.83" width="5.11" height="10.54" fill="rgb(153,153,249)"/>
<rect x="226.95" y="100.83" width="5.11" height="10.54" fill="rgb(102,102,246)"/>
<rect x="232.06" y="100.83" width="5.11" height="10.54" fill="rgb(0,0,240)"/>
<rect x="237.16" y="100.83" width="5.11" height="10.54" fill="rgb(153,153,249)"/>
<rect x="242.27" y="100.83" width="5.11" height="10.54" fill="rgb(102,102,246)"/>
<rect x="247.37" y="100.83" width="5.11" height="10.54" fill="rgb(128,128,248)"/>
<rect x="252.48" y="100.83" width="5.11" height="10.54" fill="rgb(77,77,244)"/>
<rect x="257.58" y="100.83" width="5.11" height="10.54" fill="rgb(153,153,249)"/>
<rect x="262.69" y="100.83" width="5.11" height="10.54" fill="rgb(0,0,240)"/>
<rect x="267.79" y="100.83" width="5.11" height="10.54" fill="rgb(153,153,249)"/>
<rect x="272.89" y="100.83" width="5.11" height="10.54" fill="rgb(204,204,252)"/>
<rect x="278.00" y="100.83" width="5.11" height="10.54" fill="rgb(153,153,249)"/>
<rect x="283.11" y="100.83" width="5.11" height="10.54" fill="rgb(25,25,242)"/>
<rect x="288.21" y="100.83" width="5.11" height="10.54" fill="rgb(102,102,246)"/>
<rect x="293.31" y="100.83" width="5.11" height="10.54" fill="rgb(102,102,246)"/>
<rect x="298.42" y="100.83" width="5.11" height="10.54" fill="rgb(128,128,248)"/>
<rect x="303.53" y="100.83" width="5.11" height="10.54" fill="rgb(153,153,249)"/>
<rect x="308.63" y="100.83" width="5.11" height="10.54" fill="rgb(255,255,255)"/>
<rect x="313.74" y="100.83" width="5.11" height="10.54" fill="rgb(178,178,250)"/>
<rect x="318.84" y="100.83" width="5.11" height="10.54" fill="rgb(153,153,249)"/>
<rect x="323.95" y="100.83" width="5.11" height="10.54" fill="rgb(255,255,255)"/>
<rect x="329.05" y="100.83" width="5.11" height="10.54" fill="rgb(255,240,240)"/>
<rect x="334.16" y="100.83" width="5.11" height="10.54" fill="rgb(250,102,102)"/>
<rect x="339.26" y="100.83" width="5.11" height="10.54" fill="rgb(252,153,153)"/>
<rect x="344.37" y="100.83" width="5.11" height="10.54" fill="rgb(250,102,102)"/>
<rect x="349.47" y="100.83" width="5.11" height="10.54" fill="rgb(251,128,128)"/>
<rect x="354.58" y="100.83" width="5.11" height="10.54" fill="rgb(250,102,102)"/>
<rect x="359.68" y="100.83" width="5.11" height="10.54" fill="rgb(249,51,51)"/>
<rect x="364.79" y="100.83" width="5.11" height="10.54" fill="rgb(255,255,255)"/>
<rect x="369.89" y="100.83" width="5.11" height="10.54" fill="rgb(247,0,0)"/>
<rect x="375.00" y="100.83" width="5.11" height="10.54" fill="rgb(247,0,0)"/>
<rect x="380.10" y="100.83" width="5.11" height="10.54" fill="rgb(247,0,0)"/>
<rect x="385.21" y="100.83" width="5.11" height="10.54" fill="rgb(247,0,0)"/>
<rect x="390.31" y="100.83" width="5.11" height="10.54" fill="rgb(247,0,0)"/>
<rect x="395.42" y="100.83" width="5.11" height="10.54" fill="rgb(253,178,178)"/>
<rect x="400.52" y="100.83" width="5.11" height="10.54" fill="rgb(255,255,255)"/>
<rect x="405.62" y="100.83" width="5.11" height="10.54" fill="rgb(247,0,0)"/>
<rect x="410.73" y="100.83" width="5.11" height="10.54" fill="rgb(248,25,25)"/>
<rect x="415.84" y="100.83" width="5.11" height="10.54" fill="rgb(252,153,153)"/>
<rect x="420.94" y="100.83" width="5.11" height="10.54" fill="rgb(253,204,204)"/>
<rect x="426.05" y="100.83" width="5.11" height="10.54" fill="rgb(204,204,252)"/>
<rect x="431.15" y="100.83" width="5.11" height="10.54" fill="rgb(230,230,254)"/>
<rect x="436.25" y="100.83" width="5.11" height="10.54" fill="rgb(249,51,51)"/>
<rect x="441.36" y="100.83" width="5.11" height="10.54" fill="rgb(250,102,102)"/>
<rect x="446.47" y="100.83" width="5.11" height="10.54" fill="rgb(247,0,0)"/>
<rect x="451.57" y="100.83" width="5.11" height="10.54" fill="rgb(253,204,204)"/>
<rect x="175.90" y="111.37" width="5.11" height="10.54" fill="rgb(153,153,249)"/>
<rect x="181.00" y="111.37" width="5.11" height="10.54" fill="rgb(204,204,252)"/>
<rect x="186.11" y="111.37" width="5.11" height="10.54" fill="rgb(204,204,252)"/>
<rect x="191.22" y="111.37" width="5.11" height="10.54" fill="rgb(178,178,250)"/>
<rect x="196.32" y="111.37" width="5.11" height="10.54" fill="rgb(102,102,246)"/>
<rect x="201.43" y="111.37" width="5.11" height="10.54" fill="rgb(102,102,246)"/>
<rect x="206.53" y="111.37" width="5.11" height="10.54" fill="rgb(153,153,249)"/>
<rect x="211.63" y="111.37" width="5.11" height="10.54" fill="rgb(25,25,242)"/>
<rect x="216.74" y="111.37" width="5.11" height="10.54" fill="rgb(102,102,246)"/>
<rect x="221.85" y="111.37" width="5.11" height="10.54" fill="rgb(128,128,248)"/>
<rect x="226.95" y="111.37" width="5.11" height="10.54" fill="rgb(25,25,242)"/>
<rect x="232.06" y="111.37" width="5.11" height="10.54" fill="rgb(249,51,51)"/>
<rect x="237.16" y="111.37" width="5.11" height="10.54" fill="rgb(247,0,0)"/>
<rect x="242.27" y="111.37" width="5.11" height="10.54" fill="rgb(249,51,51)"/>
<rect x="247.37" y="111.37" width="5.11" height="10.54" fill="rgb(247,0,0)"/>
<rect x="252.48" y="111.37" width="5.11" height="10.54" fill="rgb(247,0,0)"/>
<rect x="257.58" y="111.37" width="5.11" height="10.54" fill="rgb(247,0,0)"/>
<rect x="262.69" y="111.37" width="5.11" height="10.54" fill="rgb(247,0,0)"/>
<rect x="267.79" y="111.37" width="5.11" height="10.54" fill="rgb(248,25,25)"/>
<rect x="272.89" y="111.37" width="5.11" height="10.54" fill="rgb(178,178,250)"/>
<rect x="278.00" y="111.37" width="5.11" height="10.54" fill="rgb(77,77,244)"/>
<rect x="283.11" y="111.37" width="5.11" height="10.54" fill="rgb(153,153,249)"/>
<rect x="288.21" y="111.37" width="5.11" height="10.54" fill="rgb(252,153,153)"/>
<rect x="293.31" y="111.37" width="5.11" height="10.54" fill="rgb(252,153,153)"/>
<rect x="298.42" y="111.37" width="5.11" height="10.54" fill="rgb(204,204,252)"/>
<rect x="303.53" y="111.37" width="5.11" height="10.54" fill="rgb(204,204,252)"/>
<rect x="308.63" y="111.37" width="5.11" height="10.54" fill="rgb(252,153,153)"/>
<rect x="313.74" y="111.37" width="5.11" height="10.54" fill="rgb(249,51,51)"/>
<rect x="318.84" y="111.37" width="5.11" height="10.54" fill="rgb(249,77,77)"/>
<rect x="323.95" y="111.37" width="5.11" height="10.54" fill="rgb(102,102,246)"/>
<rect x="329.05" y="111.37" width="5.11" height="10.54" fill="rgb(153,153,249)"/>
<rect x="334.16" y="111.37" width="5.11" height="10.54" fill="rgb(102,102,246)"/>
<rect x="339.26" y="111.37" width="5.11" height="10.54" fill="rgb(255,255,255)"/>
<rect x="344.37" y="111.37" width="5.11" height="10.54" fill="rgb(249,51,51)"/>
<rect x="349.47" y="111.37" width="5.11" height="10.54" fill="rgb(250,102,102)"/>
<rect x="354.58" y="111.37" width="5.11" height="10.54" fill="rgb(255,255,255)"/>
<rect x="359.68" y="111.37" width="5.11" height="10.54" fill="rgb(230,230,254)"/>
<rect x="364.79" y="111.37" width="5.11" height="10.54" fill="rgb(255,255,255)"/>
<rect x="369.89" y="111.37" width="5.11" height="10.54" fill="rgb(204,204,252)"/>
<rect x="375.00" y="111.37" width="5.11" height="10.54" fill="rgb(253,178,178)"/>
<rect x="380.10" y="111.37" width="5.11" height="10.54" fill="rgb(204,204,252)"/>
<rect x="385.21" y="111.37" width="5.11" height="10.54" fill="rgb(252,153,153)"/>
<rect x="390.31" y="111.37" width="5.11" height="10.54" fill="rgb(250,102,102)"/>
<rect x="395.42" y="111.37" width="5.11" height="10.54" fill="rgb(178,178,250)"/>
<rect x="400.52" y="111.37" width="5.11" height="10.54" fill="rgb(77,77,244)"/>
<rect x="405.62" y="111.37" width="5.11" height="10.54" fill="rgb(128,128,248)"/>
<rect x="410.73" y="111.37" width="5.11" height="10.54" fill="rgb(178,178,250)"/>
<rect x="415.84" y="111.37" width="5.11" height="10.54" fill="rgb(255,255,255)"/>
<rect x="420.94" y="111.37" width="5.11" height="10.54" fill="rgb(25,25,242)"/>
<rect x="426.05" y="111.37" width="5.11" height="10.54" fill="rgb(25,25,242)"/>
<rect x="431.15" y="111.37" width="5.11" height="10.54" fill="rgb(230,230,254)"/>
<rect x="436.25" y="111.37" width="5.11" height="10.54" fill="rgb(102,102,246)"/>
<rect x="441.36" y="111.37" width="5.11" height="10.54" fill="rgb(250,102,102)"/>
<rect x="446.47" y="111.37" width="5.11" height="10.54" fill="rgb(247,0,0)"/>
<rect x="451.57" y="111.37" width="5.11" height="10.54" fill="rgb(102,102,246)"/>
<rect x="175.90" y="121.91" width="5.11" height="10.54" fill="rgb(253,178,178)"/>
<rect x="181.00" y="121.91" width="5.11" height="10.54" fill="rgb(255,240,240)"/>
<rect x="186.11" y="121.91" width="5.11" height="10.54" fill="rgb(255,255,255)"/>
<rect x="191.22" y="121.91" width="5.11" height="10.54" fill="rgb(254,230,230)"/>
<rect x="196.32" y="121.91" width="5.11" height="10.54" fill="rgb(254,230,230)"/>
<rect x="201.43" y="121.91" width="5.11" height="10.54" fill="rgb(253,204,204)"/>
<rect x="206.53" y="121.91" width="5.11" height="10.54" fill="rgb(230,230,254)"/>
<rect x="211.63" y="121.91" width="5.11" height="10.54" fill="rgb(204,204,252)"/>
<rect x="216.74" y="121.91" width="5.11" height="10.54" fill="rgb(230,230,254)"/>
<rect x="221.85" y="121.91" width="5.11" height="10.54" fill="rgb(178,178,250)"/>
<rect x="226.95" y="121.91" width="5.11" height="10.54" fill="rgb(255,255,255)"/>
<rect x="232.06" y="121.91" width="5.11" height="10.54" fill="rgb(204,204,252)"/>
<rect x="237.16" y="121.91" width="5.11" height="10.54" fill="rgb(230,230,254)"/>
<rect x="242.27" y="121.91" width="5.11" height="10.54" fill="rgb(204,204,252)"/>
<rect x="247.37" y="121.91" width="5.11" height="10.54" fill="rgb(204,204,252)"/>
<rect x="252.48" y="121.91" width="5.11" height="10.54" fill="rgb(255,255,255)"/>
<rect x="257.58" y="121.91" width="5.11" height="10.54" fill="rgb(254,230,230)"/>
<rect x="262.69" y="121.91" width="5.11" height="10.54" fill="rgb(153,153,249)"/>
<rect x="267.79" y="121.91" width="5.11" height="10.54" fill="rgb(253,204,204)"/>
<rect x="272.89" y="121.91" width="5.11" height="10.54" fill="rgb(254,230,230)"/>
<rect x="278.00" y="121.91" width="5.11" height="10.54" fill="rgb(252,153,153)"/>
<rect x="283.11" y="121.91" width="5.11" height="10.54" fill="rgb(250,102,102)"/>
<rect x="288.21" y="121.91" width="5.11" height="10.54" fill="rgb(255,255,255)"/>
<rect x="293.31" y="121.91" width="5.11" height="10.54" fill="rgb(230,230,254)"/>
<rect x="298.42" y="121.91" width="5.11" height="10.54" fill="rgb(230,230,254)"/>
<rect x="303.53" y="121.91" width="5.11" height="10.54" fill="rgb(254,230,230)"/>
<rect x="308.63" y="121.91" width="5.11" height="10.54" fill="rgb(255,255,255)"/>
<rect x="313.74" y="121.91" width="5.11" height="10.54" fill="rgb(253,204,204)"/>
<rect x="318.84" y="121.91" width="5.11" height="10.54" fill="rgb(0,0,240)"/>
<rect x="323.95" y="121.91" width="5.11" height="10.54" fill="rgb(255,255,255)"/>
<rect x="329.05" y="121.91" width="5.11" height="10.54" fill="rgb(255,240,240)"/>
<rect x="334.16" y="121.91" width="5.11" height="10.54" fill="rgb(204,204,252)"/>
<rect x="339.26" y="121.91" width="5.11" height="10.54" fill="rgb(253,178,178)"/>
<rect x="344.37" y="121.91" width="5.11" height="10.54" fill="rgb(253,178,178)"/>
<rect x="349.47" y="121.91" width="5.11" height="10.54" fill="rgb(252,153,153)"/>
<rect x="354.58" y="121.91" width="5.11" height="10.54" fill="rgb(252,153,153)"/>
<rect x="359.68" y="121.91" width="5.11" height="10.54" fill="rgb(255,255,255)"/>
<rect x="364.79" y="121.91" width="5.11" height="10.54" fill="rgb(253,204,204)"/>
<rect x="369.89" y="121.91" width="5.11" height="10.54" fill="rgb(252,153,153)"/>
<rect x="375.00" y="121.91" width="5.11" height="10.54" fill="rgb(204,204,252)"/>
<rect x="380.10" y="121.91" width="5.11" height="10.54" fill="rgb(253,204,204)"/>
<rect x="385.21" y="121.91" width="5.11" height="10.54" fill="rgb(255,255,255)"/>
<rect x="390.31" y="121.91" width="5.11" height="10.54" fill="rgb(250,102,102)"/>
<rect x="395.42" y="121.91" width="5.11" height="10.54" fill="rgb(255,255,255)"/>
<rect x="400.52" y="121.91" width="5.11" height="10.54" fill="rgb(252,153,153)"/>
<rect x="405.62" y="121.91" width="5.11" height="10.54" fill="rgb(255,255,255)"/>
<rect x="410.73" y="121.91" width="5.11" height="10.54" fill="rgb(204,204,252)"/>
<rect x="415.84" y="121.91" width="5.11" height="10.54" fill="rgb(178,178,250)"/>
<rect x="420.94" y="121.91" width="5.11" height="10.54" fill="rgb(153,153,249)"/>
<rect x="426.05" y="121.91" width="5.11" height="10.54" fill="rgb(230,230,254)"/>
<rect x="431.15" y="121.91" width="5.11" height="10.54" fill="rgb(153,153,249)"/>
<rect x="436.25" y="121.91" width="5.11" height="10.54" fill="rgb(178,178,250)"/>
<rect x="441.36" y="121.91" width="5.11" height="10.54" fill="rgb(153,153,249)"/>
<rect x="446.47" y="121.91" width="5.11" height="10.54" fill="rgb(255,255,255)"/>
<rect x="451.57" y="121.91" width="5.11" height="10.54" fill="rgb(240,240,254)"/>
<rect x="175.90" y="132.46" width="5.11" height="10.54" fill="rgb(204,204,252)"/>
<rect x="181.00" y="132.46" width="5.11" height="10.54" fill="rgb(255,255,255)"/>
<rect x="186.11" y="132.46" width="5.11" height="10.54" fill="rgb(254,230,230)"/>
<rect x="191.22" y="132.46" width="5.11" height="10.54" fill="rgb(253,204,204)"/>
<rect x="196.32" y="132.46" width="5.11" height="10.54" fill="rgb(240,240,254)"/>
<rect x="201.43" y="132.46" width="5.11" height="10.54" fill="rgb(255,255,255)"/>
<rect x="206.53" y="132.46" width="5.11" height="10.54" fill="rgb(102,102,246)"/>
<rect x="211.63" y="132.46" width="5.11" height="10.54" fill="rgb(230,230,254)"/>
<rect x="216.74" y="132.46" width="5.11" height="10.54" fill="rgb(204,204,252)"/>
<rect x="221.85" y="132.46" width="5.11" height="10.54" fill="rgb(204,204,252)"/>
<rect x="226.95" y="132.46" width="5.11" height="10.54" fill="rgb(254,230,230)"/>
<rect x="232.06" y="132.46" width="5.11" height="10.54" fill="rgb(255,255,255)"/>
<rect x="237.16" y="132.46" width="5.11" height="10.54" fill="rgb(254,230,230)"/>
<rect x="242.27" y="132.46" width="5.11" height="10.54" fill="rgb(240,240,254)"/>
<rect x="247.37" y="132.46" width="5.11" height="10.54" fill="rgb(253,204,204)"/>
<rect x="252.48" y="132.46" width="5.11" height="10.54" fill="rgb(252,153,153)"/>
<rect x="257.58" y="132.46" width="5.11" height="10.54" fill="rgb(253,204,204)"/>
<rect x="262.69" y="132.46" width="5.11" height="10.54" fill="rgb(204,204,252)"/>
<rect x="267.79" y="132.46" width="5.11" height="10.54" fill="rgb(253,204,204)"/>
<rect x="272.89" y="132.46" width="5.11" height="10.54" fill="rgb(251,128,128)"/>
<rect x="278.00" y="132.46" width="5.11" height="10.54" fill="rgb(230,230,254)"/>
<rect x="283.11" y="132.46" width="5.11" height="10.54" fill="rgb(253,178,178)"/>
<rect x="288.21" y="132.46" width="5.11" height="10.54" fill="rgb(252,153,153)"/>
<rect x="293.31" y="132.46" width="5.11" height="10.54" fill="rgb(252,153,153)"/>
<rect x="298.42" y="132.46" width="5.11" height="10.54" fill="rgb(255,255,255)"/>
<rect x="303.53" y="132.46" width="5.11" height="10.54" fill="rgb(252,153,153)"/>
<rect x="308.63" y="132.46" width="5.11" height="10.54" fill="rgb(254,230,230)"/>
<rect x="313.74" y="132.46" width="5.11" height="10.54" fill="rgb(252,153,153)"/>
<rect x="318.84" y="132.46" width="5.11" height="10.54" fill="rgb(249,77,77)"/>
<rect x="323.95" y="132.46" width="5.11" height="10.54" fill="rgb(204,204,252)"/>
<rect x="329.05" y="132.46" width="5.11" height="10.54" fill="rgb(253,204,204)"/>
<rect x="334.16" y="132.46" width="5.11" height="10.54" fill="rgb(255,255,255)"/>
<rect x="339.26" y="132.46" width="5.11" height="10.54" fill="rgb(252,153,153)"/>
<rect x="344.37" y="132.46" width="5.11" height="10.54" fill="rgb(251,128,128)"/>
<rect x="349.47" y="132.46" width="5.11" height="10.54" fill="rgb(250,102,102)"/>
<rect x="354.58" y="132.46" width="5.11" height="10.54" fill="rgb(250,102,102)"/>
<rect x="359.68" y="132.46" width="5.11" height="10.54" fill="rgb(255,255,255)"/>
<rect x="364.79" y="132.46" width="5.11" height="10.54" fill="rgb(252,153,153)"/>
<rect x="369.89" y="132.46" width="5.11" height="10.54" fill="rgb(255,255,255)"/>
<rect x="375.00" y="132.46" width="5.11" height="10.54" fill="rgb(254,230,230)"/>
<rect x="380.10" y="132.46" width="5.11" height="10.54" fill="rgb(255,240,240)"/>
<rect x="385.21" y="132.46" width="5.11" height="10.54" fill="rgb(178,178,250)"/>
<rect x="390.31" y="132.46" width="5.11" height="10.54" fill="rgb(240,240,254)"/>
<rect x="395.42" y="132.46" width="5.11" height="10.54" fill="rgb(230,230,254)"/>
<rect x="400.52" y="132.46" width="5.11" height="10.54" fill="rgb(178,178,250)"/>
<rect x="405.62" y="132.46" width="5.11" height="10.54" fill="rgb(253,178,178)"/>
<rect x="410.73" y="132.46" width="5.11" height="10.54" fill="rgb(204,204,252)"/>
<rect x="415.84" y="132.46" width="5.11" height="10.54" fill="rgb(153,153,249)"/>
<rect x="420.94" y="132.46" width="5.11" height="10.54" fill="rgb(153,153,249)"/>
<rect x="426.05" y="132.46" width="5.11" height="10.54" fill="rgb(25,25,242)"/>
<rect x="431.15" y="132.46" width="5.11" height="10.54" fill="rgb(178,178,250)"/>
<rect x="436.25" y="132.46" width="5.11" height="10.54" fill="rgb(51,51,243)"/>
<rect x="441.36" y="132.46" width="5.11" height="10.54" fill="rgb(204,204,252)"/>
<rect x="446.47" y="132.46" width="5.11" height="10.54" fill="rgb(178,178,250)"/>
<rect x="451.57" y="132.46" width="5.11" height="10.54" fill="rgb(25,25,242)"/>
<rect x="175.90" y="143.00" width="5.11" height="10.54" fill="rgb(252,153,153)"/>
<rect x="181.00" y="143.00" width="5.11" height="10.54" fill="rgb(250,102,102)"/>
<rect x="186.11" y="143.00" width="5.11" height="10.54" fill="rgb(252,153,153)"/>
<rect x="191.22" y="143.00" width="5.11" height="10.54" fill="rgb(250,102,102)"/>
<rect x="196.32" y="143.00" width="5.11" height="10.54" fill="rgb(250,102,102)"/>
<rect x="201.43" y="143.00" width="5.11" height="10.54" fill="rgb(253,178,178)"/>
<rect x="206.53" y="143.00" width="5.11" height="10.54" fill="rgb(255,255,255)"/>
<rect x="211.63" y="143.00" width="5.11" height="10.54" fill="rgb(254,230,230)"/>
<rect x="216.74" y="143.00" width="5.11" height="10.54" fill="rgb(255,240,240)"/>
<rect x="221.85" y="143.00" width="5.11" height="10.54" fill="rgb(255,255,255)"/>
<rect x="226.95" y="143.00" width="5.11" height="10.54" fill="rgb(153,153,249)"/>
<rect x="232.06" y="143.00" width="5.11" height="10.54" fill="rgb(252,153,153)"/>
<rect x="237.16" y="143.00" width="5.11" height="10.54" fill="rgb(253,204,204)"/>
<rect x="242.27" y="143.00" width="5.11" height="10.54" fill="rgb(253,204,204)"/>
<rect x="247.37" y="143.00" width="5.11" height="10.54" fill="rgb(255,255,255)"/>
<rect x="252.48" y="143.00" width="5.11" height="10.54" fill="rgb(250,102,102)"/>
<rect x="257.58" y="143.00" width="5.11" height="10.54" fill="rgb(252,153,153)"/>
<rect x="262.69" y="143.00" width="5.11" height="10.54" fill="rgb(250,102,102)"/>
<rect x="267.79" y="143.00" width="5.11" height="10.54" fill="rgb(230,230,254)"/>
<rect x="272.89" y="143.00" width="5.11" height="10.54" fill="rgb(255,255,255)"/>
<rect x="278.00" y="143.00" width="5.11" height="10.54" fill="rgb(252,153,153)"/>
<rect x="283.11" y="143.00" width="5.11" height="10.54" fill="rgb(252,153,153)"/>
<rect x="288.21" y="143.00" width="5.11" height="10.54" fill="rgb(251,128,128)"/>
<rect x="293.31" y="143.00" width="5.11" height="10.54" fill="rgb(252,153,153)"/>
<rect x="298.42" y="143.00" width="5.11" height="10.54" fill="rgb(253,178,178)"/>
<rect x="303.53" y="143.00" width="5.11" height="10.54" fill="rgb(252,153,153)"/>
<rect x="308.63" y="143.00" width="5.11" height="10.54" fill="rgb(230,230,254)"/>
<rect x="313.74" y="143.00" width="5.11" height="10.54" fill="rgb(255,255,255)"/>
<rect x="318.84" y="143.00" width="5.11" height="10.54" fill="rgb(204,204,252)"/>
<rect x="323.95" y="143.00" width="5.11" height="10.54" fill="rgb(252,153,153)"/>
<rect x="329.05" y="143.00" width="5.11" height="10.54" fill="rgb(255,255,255)"/>
<rect x="334.16" y="143.00" width="5.11" height="10.54" fill="rgb(253,204,204)"/>
<rect x="339.26" y="143.00" width="5.11" height="10.54" fill="rgb(255,255,255)"/>
<rect x="344.37" y="143.00" width="5.11" height="10.54" fill="rgb(253,204,204)"/>
<rect x="349.47" y="143.00" width="5.11" height="10.54" fill="rgb(254,230,230)"/>
<rect x="354.58" y="143.00" width="5.11" height="10.54" fill="rgb(253,204,204)"/>
<rect x="359.68" y="143.00" width="5.11" height="10.54" fill="rgb(102,102,246)"/>
<rect x="364.79" y="143.00" width="5.11" height="10.54" fill="rgb(102,102,246)"/>
<rect x="369.89" y="143.00" width="5.11" height="10.54" fill="rgb(102,102,246)"/>
<rect x="375.00" y="143.00" width="5.11" height="10.54" fill="rgb(240,240,254)"/>
<rect x="380.10" y="143.00" width="5.11" height="10.54" fill="rgb(102,102,246)"/>
<rect x="385.21" y="143.00" width="5.11" height="10.54" fill="rgb(102,102,246)"/>
<rect x="390.31" y="143.00" width="5.11" height="10.54" fill="rgb(102,102,246)"/>
<rect x="395.42" y="143.00" width="5.11" height="10.54" fill="rgb(102,102,246)"/>
<rect x="400.52" y="143.00" width="5.11" height="10.54" fill="rgb(255,255,255)"/>
<rect x="405.62" y="143.00" width="5.11" height="10.54" fill="rgb(25,25,242)"/>
<rect x="410.73" y="143.00" width="5.11" height="10.54" fill="rgb(204,204,252)"/>
<rect x="415.84" y="143.00" width="5.11" height="10.54" fill="rgb(230,230,254)"/>
<rect x="420.94" y="143.00" width="5.11" height="10.54" fill="rgb(102,102,246)"/>
<rect x="426.05" y="143.00" width="5.11" height="10.54" fill="rgb(153,153,249)"/>
<rect x="431.15" y="143.00" width="5.11" height="10.54" fill="rgb(240,240,254)"/>
<rect x="436.25" y="143.00" width="5.11" height="10.54" fill="rgb(153,153,249)"/>
<rect x="441.36" y="143.00" width="5.11" height="10.54" fill="rgb(254,230,230)"/>
<rect x="446.47" y="143.00" width="5.11" height="10.54" fill="rgb(255,255,255)"/>
<rect x="451.57" y="143.00" width="5.11" height="10.54" fill="rgb(204,204,252)"/>
<rect x="175.90" y="153.55" width="5.11" height="10.54" fill="rgb(253,204,204)"/>
<rect x="181.00" y="153.55" width="5.11" height="10.54" fill="rgb(253,178,178)"/>
<rect x="186.11" y="153.55" width="5.11" height="10.54" fill="rgb(253,204,204)"/>
<rect x="191.22" y="153.55" width="5.11" height="10.54" fill="rgb(253,204,204)"/>
<rect x="196.32" y="153.55" width="5.11" height="10.54" fill="rgb(253,178,178)"/>
<rect x="201.43" y="153.55" width="5.11" height="10.54" fill="rgb(255,255,255)"/>
<rect x="206.53" y="153.55" width="5.11" height="10.54" fill="rgb(230,230,254)"/>
<rect x="211.63" y="153.55" width="5.11" height="10.54" fill="rgb(250,102,102)"/>
<rect x="216.74" y="153.55" width="5.11" height="10.54" fill="rgb(253,204,204)"/>
<rect x="221.85" y="153.55" width="5.11" height="10.54" fill="rgb(230,230,254)"/>
<rect x="226.95" y="153.55" width="5.11" height="10.54" fill="rgb(128,128,248)"/>
<rect x="232.06" y="153.55" width="5.11" height="10.54" fill="rgb(255,255,255)"/>
<rect x="237.16" y="153.55" width="5.11" height="10.54" fill="rgb(253,204,204)"/>
<rect x="242.27" y="153.55" width="5.11" height="10.54" fill="rgb(253,178,178)"/>
<rect x="247.37" y="153.55" width="5.11" height="10.54" fill="rgb(230,230,254)"/>
<rect x="252.48" y="153.55" width="5.11" height="10.54" fill="rgb(250,102,102)"/>
<rect x="257.58" y="153.55" width="5.11" height="10.54" fill="rgb(253,178,178)"/>
<rect x="262.69" y="153.55" width="5.11" height="10.54" fill="rgb(249,77,77)"/>
<rect x="267.79" y="153.55" width="5.11" height="10.54" fill="rgb(153,153,249)"/>
<rect x="272.89" y="153.55" width="5.11" height="10.54" fill="rgb(255,255,255)"/>
<rect x="278.00" y="153.55" width="5.11" height="10.54" fill="rgb(253,204,204)"/>
<rect x="283.11" y="153.55" width="5.11" height="10.54" fill="rgb(253,204,204)"/>
<rect x="288.21" y="153.55" width="5.11" height="10.54" fill="rgb(252,153,153)"/>
<rect x="293.31" y="153.55" width="5.11" height="10.54" fill="rgb(253,178,178)"/>
<rect x="298.42" y="153.55" width="5.11" height="10.54" fill="rgb(252,153,153)"/>
<rect x="303.53" y="153.55" width="5.11" height="10.54" fill="rgb(253,178,178)"/>
<rect x="308.63" y="153.55" width="5.11" height="10.54" fill="rgb(253,204,204)"/>
<rect x="313.74" y="153.55" width="5.11" height="10.54" fill="rgb(230,230,254)"/>
<rect x="318.84" y="153.55" width="5.11" height="10.54" fill="rgb(240,240,254)"/>
<rect x="323.95" y="153.55" width="5.11" height="10.54" fill="rgb(254,230,230)"/>
<rect x="329.05" y="153.55" width="5.11" height="10.54" fill="rgb(255,255,255)"/>
<rect x="334.16" y="153.55" width="5.11" height="10.54" fill="rgb(254,230,230)"/>
<rect x="339.26" y="153.55" width="5.11" height="10.54" fill="rgb(255,255,255)"/>
<rect x="344.37" y="153.55" width="5.11" height="10.54" fill="rgb(253,178,178)"/>
<rect x="349.47" y="153.55" width="5.11" height="10.54" fill="rgb(255,255,255)"/>
<rect x="354.58" y="153.55" width="5.11" height="10.54" fill="rgb(254,230,230)"/>
<rect x="359.68" y="153.55" width="5.11" height="10.54" fill="rgb(102,102,246)"/>
<rect x="364.79" y="153.55" width="5.11" height="10.54" fill="rgb(128,128,248)"/>
<rect x="369.89" y="153.55" width="5.11" height="10.54" fill="rgb(178,178,250)"/>
<rect x="375.00" y="153.55" width="5.11" height="10.54" fill="rgb(240,240,254)"/>
<rect x="380.10" y="153.55" width="5.11" height="10.54" fill="rgb(178,178,250)"/>
<rect x="385.21" y="153.55" width="5.11" height="10.54" fill="rgb(230,230,254)"/>
<rect x="390.31" y="153.55" width="5.11" height="10.54" fill="rgb(204,204,252)"/>
<rect x="395.42" y="153.55" width="5.11" height="10.54" fill="rgb(102,102,246)"/>
<rect x="400.52" y="153.55" width="5.11" height="10.54" fill="rgb(178,178,250)"/>
<rect x="405.62" y="153.55" width="5.11" height="10.54" fill="rgb(102,102,246)"/>
<rect x="410.73" y="153.55" width="5.11" height="10.54" fill="rgb(255,255,255)"/>
<rect x="415.84" y="153.55" width="5.11" height="10.54" fill="rgb(230,230,254)"/>
<rect x="420.94" y="153.55" width="5.11" height="10.54" fill="rgb(102,102,246)"/>
<rect x="426.05" y="153.55" width="5.11" height="10.54" fill="rgb(153,153,249)"/>
<rect x="431.15" y="153.55" width="5.11" height="10.54" fill="rgb(240,240,254)"/>
<rect x="436.25" y="153.55" width="5.11" height="10.54" fill="rgb(153,153,249)"/>
<rect x="441.36" y="153.55" width="5.11" height="10.54" fill="rgb(253,204,204)"/>
<rect x="446.47" y="153.55" width="5.11" height="10.54" fill="rgb(253,178,178)"/>
<rect x="451.57" y="153.55" width="5.11" height="10.54" fill="rgb(255,255,255)"/>
<rect x="175.90" y="164.09" width="5.11" height="10.54" fill="rgb(253,204,204)"/>
<rect x="181.00" y="164.09" width="5.11" height="10.54" fill="rgb(255,255,255)"/>
<rect x="186.11" y="164.09" width="5.11" height="10.54" fill="rgb(230,230,254)"/>
<rect x="191.22" y="164.09" width="5.11" height="10.54" fill="rgb(255,255,255)"/>
<rect x="196.32" y="164.09" width="5.11" height="10.54" fill="rgb(252,153,153)"/>
<rect x="201.43" y="164.09" width="5.11" height="10.54" fill="rgb(251,128,128)"/>
<rect x="206.53" y="164.09" width="5.11" height="10.54" fill="rgb(255,255,255)"/>
<rect x="211.63" y="164.09" width="5.11" height="10.54" fill="rgb(253,204,204)"/>
<rect x="216.74" y="164.09" width="5.11" height="10.54" fill="rgb(253,204,204)"/>
<rect x="221.85" y="164.09" width="5.11" height="10.54" fill="rgb(230,230,254)"/>
<rect x="226.95" y="164.09" width="5.11" height="10.54" fill="rgb(255,255,255)"/>
<rect x="232.06" y="164.09" width="5.11" height="10.54" fill="rgb(240,240,254)"/>
<rect x="237.16" y="164.09" width="5.11" height="10.54" fill="rgb(254,230,230)"/>
<rect x="242.27" y="164.09" width="5.11" height="10.54" fill="rgb(255,255,255)"/>
<rect x="247.37" y="164.09" width="5.11" height="10.54" fill="rgb(254,230,230)"/>
<rect x="252.48" y="164.09" width="5.11" height="10.54" fill="rgb(252,153,153)"/>
<rect x="257.58" y="164.09" width="5.11" height="10.54" fill="rgb(253,204,204)"/>
<rect x="262.69" y="164.09" width="5.11" height="10.54" fill="rgb(204,204,252)"/>
<rect x="267.79" y="164.09" width="5.11" height="10.54" fill="rgb(255,255,255)"/>
<rect x="272.89" y="164.09" width="5.11" height="10.54" fill="rgb(255,255,255)"/>
<rect x="278.00" y="164.09" width="5.11" height="10.54" fill="rgb(204,204,252)"/>
<rect x="283.11" y="164.09" width="5.11" height="10.54" fill="rgb(204,204,252)"/>
<rect x="288.21" y="164.09" width="5.11" height="10.54" fill="rgb(255,255,255)"/>
<rect x="293.31" y="164.09" width="5.11" height="10.54" fill="rgb(255,255,255)"/>
<rect x="298.42" y="164.09" width="5.11" height="10.54" fill="rgb(255,255,255)"/>
<rect x="303.53" y="164.09" width="5.11" height="10.54" fill="rgb(204,204,252)"/>
<rect x="308.63" y="164.09" width="5.11" height="10.54" fill="rgb(255,255,255)"/>
<rect x="313.74" y="164.09" width="5.11" height="10.54" fill="rgb(128,128,248)"/>
<rect x="318.84" y="164.09" width="5.11" height="10.54" fill="rgb(248,25,25)"/>
<rect x="323.95" y="164.09" width="5.11" height="10.54" fill="rgb(178,178,250)"/>
<rect x="329.05" y="164.09" width="5.11" height="10.54" fill="rgb(204,204,252)"/>
<rect x="334.16" y="164.09" width="5.11" height="10.54" fill="rgb(255,255,255)"/>
<rect x="339.26" y="164.09" width="5.11" height="10.54" fill="rgb(204,204,252)"/>
<rect x="344.37" y="164.09" width="5.11" height="10.54" fill="rgb(255,255,255)"/>
<rect x="349.47" y="164.09" width="5.11" height="10.54" fill="rgb(178,178,250)"/>
<rect x="354.58" y="164.09" width="5.11" height="10.54" fill="rgb(240,240,254)"/>
<rect x="359.68" y="164.09" width="5.11" height="10.54" fill="rgb(249,51,51)"/>
<rect x="364.79" y="164.09" width="5.11" height="10.54" fill="rgb(249,77,77)"/>
<rect x="369.89" y="164.09" width="5.11" height="10.54" fill="rgb(204,204,252)"/>
<rect x="375.00" y="164.09" width="5.11" height="10.54" fill="rgb(255,255,255)"/>
<rect x="380.10" y="164.09" width="5.11" height="10.54" fill="rgb(178,178,250)"/>
<rect x="385.21" y="164.09" width="5.11" height="10.54" fill="rgb(178,178,250)"/>
<rect x="390.31" y="164.09" width="5.11" height="10.54" fill="rgb(255,255,255)"/>
<rect x="395.42" y="164.09" width="5.11" height="10.54" fill="rgb(255,255,255)"/>
<rect x="400.52" y="164.09" width="5.11" height="10.54" fill="rgb(153,153,249)"/>
<rect x="405.62" y="164.09" width="5.11" height="10.54" fill="rgb(153,153,249)"/>
<rect x="410.73" y="164.09" width="5.11" height="10.54" fill="rgb(255,255,255)"/>
<rect x="415.84" y="164.09" width="5.11" height="10.54" fill="rgb(255,255,255)"/>
<rect x="420.94" y="164.09" width="5.11" height="10.54" fill="rgb(230,230,254)"/>
<rect x="426.05" y="164.09" width="5.11" height="10.54" fill="rgb(178,178,250)"/>
<rect x="431.15" y="164.09" width="5.11" height="10.54" fill="rgb(240,240,254)"/>
<rect x="436.25" y="164.09" width="5.11" height="10.54" fill="rgb(178,178,250)"/>
<rect x="441.36" y="164.09" width="5.11" height="10.54" fill="rgb(255,255,255)"/>
<rect x="446.47" y="164.09" width="5.11" height="10.54" fill="rgb(255,255,255)"/>
<rect x="451.57" y="164.09" width="5.11" height="10.54" fill="rgb(254,230,230)"/>
<rect x="175.90" y="174.64" width="5.11" height="10.54" fill="rgb(251,128,128)"/>
<rect x="181.00" y="174.64" width="5.11" height="10.54" fill="rgb(255,255,255)"/>
<rect x="186.11" y="174.64" width="5.11" height="10.54" fill="rgb(253,204,204)"/>
<rect x="191.22" y="174.64" width="5.11" height="10.54" fill="rgb(253,178,178)"/>
<rect x="196.32" y="174.64" width="5.11" height="10.54" fill="rgb(255,255,255)"/>
<rect x="201.43" y="174.64" width="5.11" height="10.54" fill="rgb(230,230,254)"/>
<rect x="206.53" y="174.64" width="5.11" height="10.54" fill="rgb(253,204,204)"/>
<rect x="211.63" y="174.64" width="5.11" height="10.54" fill="rgb(204,204,252)"/>
<rect x="216.74" y="174.64" width="5.11" height="10.54" fill="rgb(204,204,252)"/>
<rect x="221.85" y="174.64" width="5.11" height="10.54" fill="rgb(254,230,230)"/>
<rect x="226.95" y="174.64" width="5.11" height="10.54" fill="rgb(254,230,230)"/>
<rect x="232.06" y="174.64" width="5.11" height="10.54" fill="rgb(255,255,255)"/>
<rect x="237.16" y="174.64" width="5.11" height="10.54" fill="rgb(230,230,254)"/>
<rect x="242.27" y="174.64" width="5.11" height="10.54" fill="rgb(255,255,255)"/>
<rect x="247.37" y="174.64" width="5.11" height="10.54" fill="rgb(204,204,252)"/>
<rect x="252.48" y="174.64" width="5.11" height="10.54" fill="rgb(255,255,255)"/>
<rect x="257.58" y="174.64" width="5.11" height="10.54" fill="rgb(178,178,250)"/>
<rect x="262.69" y="174.64" width="5.11" height="10.54" fill="rgb(102,102,246)"/>
<rect x="267.79" y="174.64" width="5.11" height="10.54" fill="rgb(204,204,252)"/>
<rect x="272.89" y="174.64" width="5.11" height="10.54" fill="rgb(255,240,240)"/>
<rect x="278.00" y="174.64" width="5.11" height="10.54" fill="rgb(204,204,252)"/>
<rect x="283.11" y="174.64" width="5.11" height="10.54" fill="rgb(128,128,248)"/>
<rect x="288.21" y="174.64" width="5.11" height="10.54" fill="rgb(255,255,255)"/>
<rect x="293.31" y="174.64" width="5.11" height="10.54" fill="rgb(255,255,255)"/>
<rect x="298.42" y="174.64" width="5.11" height="10.54" fill="rgb(254,230,230)"/>
<rect x="303.53" y="174.64" width="5.11" height="10.54" fill="rgb(255,255,255)"/>
<rect x="308.63" y="174.64" width="5.11" height="10.54" fill="rgb(204,204,252)"/>
<rect x="313.74" y="174.64" width="5.11" height="10.54" fill="rgb(178,178,250)"/>
<rect x="318.84" y="174.64" width="5.11" height="10.54" fill="rgb(255,255,255)"/>
<rect x="323.95" y="174.64" width="5.11" height="10.54" fill="rgb(253,204,204)"/>
<rect x="329.05" y="174.64" width="5.11" height="10.54" fill="rgb(255,255,255)"/>
<rect x="334.16" y="174.64" width="5.11" height="10.54" fill="rgb(253,204,204)"/>
<rect x="339.26" y="174.64" width="5.11" height="10.54" fill="rgb(255,255,255)"/>
<rect x="344.37" y="174.64" width="5.11" height="10.54" fill="rgb(204,204,252)"/>
<rect x="349.47" y="174.64" width="5.11" height="10.54" fill="rgb(255,255,255)"/>
<rect x="354.58" y="174.64" width="5.11" height="10.54" fill="rgb(204,204,252)"/>
<rect x="359.68" y="174.64" width="5.11" height="10.54" fill="rgb(240,240,254)"/>
<rect x="364.79" y="174.64" width="5.11" height="10.54" fill="rgb(254,230,230)"/>
<rect x="369.89" y="174.64" width="5.11" height="10.54" fill="rgb(204,204,252)"/>
<rect x="375.00" y="174.64" width="5.11" height="10.54" fill="rgb(253,204,204)"/>
<rect x="380.10" y="174.64" width="5.11" height="10.54" fill="rgb(255,255,255)"/>
<rect x="385.21" y="174.64" width="5.11" height="10.54" fill="rgb(204,204,252)"/>
<rect x="390.31" y="174.64" width="5.11" height="10.54" fill="rgb(230,230,254)"/>
<rect x="395.42" y="174.64" width="5.11" height="10.54" fill="rgb(230,230,254)"/>
<rect x="400.52" y="174.64" width="5.11" height="10.54" fill="rgb(255,240,240)"/>
<rect x="405.62" y="174.64" width="5.11" height="10.54" fill="rgb(230,230,254)"/>
<rect x="410.73" y="174.64" width="5.11" height="10.54" fill="rgb(250,102,102)"/>
<rect x="415.84" y="174.64" width="5.11" height="10.54" fill="rgb(252,153,153)"/>
<rect x="420.94" y="174.64" width="5.11" height="10.54" fill="rgb(230,230,254)"/>
<rect x="426.05" y="174.64" width="5.11" height="10.54" fill="rgb(255,240,240)"/>
<rect x="431.15" y="174.64" width="5.11" height="10.54" fill="rgb(255,255,255)"/>
<rect x="436.25" y="174.64" width="5.11" height="10.54" fill="rgb(254,230,230)"/>
<rect x="441.36" y="174.64" width="5.11" height="10.54" fill="rgb(254,230,230)"/>
<rect x="446.47" y="174.64" width="5.11" height="10.54" fill="rgb(254,230,230)"/>
<rect x="451.57" y="174.64" width="5.11" height="10.54" fill="rgb(252,153,153)"/>
<rect x="175.90" y="185.19" width="5.11" height="10.54" fill="rgb(178,178,250)"/>
<rect x="181.00" y="185.19" width="5.11" height="10.54" fill="rgb(230,230,254)"/>
<rect x="186.11" y="185.19" width="5.11" height="10.54" fill="rgb(255,255,255)"/>
<rect x="191.22" y="185.19" width="5.11" height="10.54" fill="rgb(230,230,254)"/>
<rect x="196.32" y="185.19" width="5.11" height="10.54" fill="rgb(178,178,250)"/>
<rect x="201.43" y="185.19" width="5.11" height="10.54" fill="rgb(102,102,246)"/>
<rect x="206.53" y="185.19" width="5.11" height="10.54" fill="rgb(204,204,252)"/>
<rect x="211.63" y="185.19" width="5.11" height="10.54" fill="rgb(153,153,249)"/>
<rect x="216.74" y="185.19" width="5.11" height="10.54" fill="rgb(128,128,248)"/>
<rect x="221.85" y="185.19" width="5.11" height="10.54" fill="rgb(252,153,153)"/>
<rect x="226.95" y="185.19" width="5.11" height="10.54" fill="rgb(249,77,77)"/>
<rect x="232.06" y="185.19" width="5.11" height="10.54" fill="rgb(249,77,77)"/>
<rect x="237.16" y="185.19" width="5.11" height="10.54" fill="rgb(253,204,204)"/>
<rect x="242.27" y="185.19" width="5.11" height="10.54" fill="rgb(253,204,204)"/>
<rect x="247.37" y="185.19" width="5.11" height="10.54" fill="rgb(255,255,255)"/>
<rect x="252.48" y="185.19" width="5.11" height="10.54" fill="rgb(204,204,252)"/>
<rect x="257.58" y="185.19" width="5.11" height="10.54" fill="rgb(178,178,250)"/>
<rect x="262.69" y="185.19" width="5.11" height="10.54" fill="rgb(253,204,204)"/>
<rect x="267.79" y="185.19" width="5.11" height="10.54" fill="rgb(25,25,242)"/>
<rect x="272.89" y="185.19" width="5.11" height="10.54" fill="rgb(247,0,0)"/>
<rect x="278.00" y="185.19" width="5.11" height="10.54" fill="rgb(247,0,0)"/>
<rect x="283.11" y="185.19" width="5.11" height="10.54" fill="rgb(248,25,25)"/>
<rect x="288.21" y="185.19" width="5.11" height="10.54" fill="rgb(254,230,230)"/>
<rect x="293.31" y="185.19" width="5.11" height="10.54" fill="rgb(253,204,204)"/>
<rect x="298.42" y="185.19" width="5.11" height="10.54" fill="rgb(252,153,153)"/>
<rect x="303.53" y="185.19" width="5.11" height="10.54" fill="rgb(251,128,128)"/>
<rect x="308.63" y="185.19" width="5.11" height="10.54" fill="rgb(153,153,249)"/>
<rect x="313.74" y="185.19" width="5.11" height="10.54" fill="rgb(253,178,178)"/>
<rect x="318.84" y="185.19" width="5.11" height="10.54" fill="rgb(255,255,255)"/>
<rect x="323.95" y="185.19" width="5.11" height="10.54" fill="rgb(204,204,252)"/>
<rect x="329.05" y="185.19" width="5.11" height="10.54" fill="rgb(77,77,244)"/>
<rect x="334.16" y="185.19" width="5.11" height="10.54" fill="rgb(102,102,246)"/>
<rect x="339.26" y="185.19" width="5.11" height="10.54" fill="rgb(251,128,128)"/>
<rect x="344.37" y="185.19" width="5.11" height="10.54" fill="rgb(178,178,250)"/>
<rect x="349.47" y="185.19" width="5.11" height="10.54" fill="rgb(255,255,255)"/>
<rect x="354.58" y="185.19" width="5.11" height="10.54" fill="rgb(178,178,250)"/>
<rect x="359.68" y="185.19" width="5.11" height="10.54" fill="rgb(178,178,250)"/>
<rect x="364.79" y="185.19" width="5.11" height="10.54" fill="rgb(240,240,254)"/>
<rect x="369.89" y="185.19" width="5.11" height="10.54" fill="rgb(178,178,250)"/>
<rect x="375.00" y="185.19" width="5.11" height="10.54" fill="rgb(25,25,242)"/>
<rect x="380.10" y="185.19" width="5.11" height="10.54" fill="rgb(178,178,250)"/>
<rect x="385.21" y="185.19" width="5.11" height="10.54" fill="rgb(178,178,250)"/>
<rect x="390.31" y="185.19" width="5.11" height="10.54" fill="rgb(255,255,255)"/>
<rect x="395.42" y="185.19" width="5.11" height="10.54" fill="rgb(249,77,77)"/>
<rect x="400.52" y="185.19" width="5.11" height="10.54" fill="rgb(250,102,102)"/>
<rect x="405.62" y="185.19" width="5.11" height="10.54" fill="rgb(153,153,249)"/>
<rect x="410.73" y="185.19" width="5.11" height="10.54" fill="rgb(230,230,254)"/>
<rect x="415.84" y="185.19" width="5.11" height="10.54" fill="rgb(230,230,254)"/>
<rect x="420.94" y="185.19" width="5.11" height="10.54" fill="rgb(128,128,248)"/>
<rect x="426.05" y="185.19" width="5.11" height="10.54" fill="rgb(248,25,25)"/>
<rect x="431.15" y="185.19" width="5.11" height="10.54" fill="rgb(255,255,255)"/>
<rect x="436.25" y="185.19" width="5.11" height="10.54" fill="rgb(178,178,250)"/>
<rect x="441.36" y="185.19" width="5.11" height="10.54" fill="rgb(255,255,255)"/>
<rect x="446.47" y="185.19" width="5.11" height="10.54" fill="rgb(204,204,252)"/>
<rect x="451.57" y="185.19" width="5.11" height="10.54" fill="rgb(247,0,0)"/>
<rect x="175.90" y="195.73" width="5.11" height="10.54" fill="rgb(255,255,255)"/>
<rect x="181.00" y="195.73" width="5.11" height="10.54" fill="rgb(230,230,254)"/>
<rect x="186.11" y="195.73" width="5.11" height="10.54" fill="rgb(255,255,255)"/>
<rect x="191.22" y="195.73" width="5.11" height="10.54" fill="rgb(204,204,252)"/>
<rect x="196.32" y="195.73" width="5.11" height="10.54" fill="rgb(178,178,250)"/>
<rect x="201.43" y="195.73" width="5.11" height="10.54" fill="rgb(178,178,250)"/>
<rect x="206.53" y="195.73" width="5.11" height="10.54" fill="rgb(255,255,255)"/>
<rect x="211.63" y="195.73" width="5.11" height="10.54" fill="rgb(230,230,254)"/>
<rect x="216.74" y="195.73" width="5.11" height="10.54" fill="rgb(254,230,230)"/>
<rect x="221.85" y="195.73" width="5.11" height="10.54" fill="rgb(255,255,255)"/>
<rect x="226.95" y="195.73" width="5.11" height="10.54" fill="rgb(248,25,25)"/>
<rect x="232.06" y="195.73" width="5.11" height="10.54" fill="rgb(255,255,255)"/>
<rect x="237.16" y="195.73" width="5.11" height="10.54" fill="rgb(230,230,254)"/>
<rect x="242.27" y="195.73" width="5.11" height="10.54" fill="rgb(254,230,230)"/>
<rect x="247.37" y="195.73" width="5.11" height="10.54" fill="rgb(255,255,255)"/>
<rect x="252.48" y="195.73" width="5.11" height="10.54" fill="rgb(178,178,250)"/>
<rect x="257.58" y="195.73" width="5.11" height="10.54" fill="rgb(204,204,252)"/>
<rect x="262.69" y="195.73" width="5.11" height="10.54" fill="rgb(240,240,254)"/>
<rect x="267.79" y="195.73" width="5.11" height="10.54" fill="rgb(51,51,243)"/>
<rect x="272.89" y="195.73" width="5.11" height="10.54" fill="rgb(248,25,25)"/>
<rect x="278.00" y="195.73" width="5.11" height="10.54" fill="rgb(252,153,153)"/>
<rect x="283.11" y="195.73" width="5.11" height="10.54" fill="rgb(251,128,128)"/>
<rect x="288.21" y="195.73" width="5.11" height="10.54" fill="rgb(255,255,255)"/>
<rect x="293.31" y="195.73" width="5.11" height="10.54" fill="rgb(204,204,252)"/>
<rect x="298.42" y="195.73" width="5.11" height="10.54" fill="rgb(253,204,204)"/>
<rect x="303.53" y="195.73" width="5.11" height="10.54" fill="rgb(255,255,255)"/>
<rect x="308.63" y="195.73" width="5.11" height="10.54" fill="rgb(230,230,254)"/>
<rect x="313.74" y="195.73" width="5.11" height="10.54" fill="rgb(253,178,178)"/>
<rect x="318.84" y="195.73" width="5.11" height="10.54" fill="rgb(255,255,255)"/>
<rect x="323.95" y="195.73" width="5.11" height="10.54" fill="rgb(254,230,230)"/>
<rect x="329.05" y="195.73" width="5.11" height="10.54" fill="rgb(204,204,252)"/>
<rect x="334.16" y="195.73" width="5.11" height="10.54" fill="rgb(178,178,250)"/>
<rect x="339.26" y="195.73" width="5.11" height="10.54" fill="rgb(255,255,255)"/>
<rect x="344.37" y="195.73" width="5.11" height="10.54" fill="rgb(178,178,250)"/>
<rect x="349.47" y="195.73" width="5.11" height="10.54" fill="rgb(204,204,252)"/>
<rect x="354.58" y="195.73" width="5.11" height="10.54" fill="rgb(255,255,255)"/>
<rect x="359.68" y="195.73" width="5.11" height="10.54" fill="rgb(178,178,250)"/>
<rect x="364.79" y="195.73" width="5.11" height="10.54" fill="rgb(240,240,254)"/>
<rect x="369.89" y="195.73" width="5.11" height="10.54" fill="rgb(254,230,230)"/>
<rect x="375.00" y="195.73" width="5.11" height="10.54" fill="rgb(153,153,249)"/>
<rect x="380.10" y="195.73" width="5.11" height="10.54" fill="rgb(255,255,255)"/>
<rect x="385.21" y="195.73" width="5.11" height="10.54" fill="rgb(230,230,254)"/>
<rect x="390.31" y="195.73" width="5.11" height="10.54" fill="rgb(255,255,255)"/>
<rect x="395.42" y="195.73" width="5.11" height="10.54" fill="rgb(253,204,204)"/>
<rect x="400.52" y="195.73" width="5.11" height="10.54" fill="rgb(253,204,204)"/>
<rect x="405.62" y="195.73" width="5.11" height="10.54" fill="rgb(255,255,255)"/>
<rect x="410.73" y="195.73" width="5.11" height="10.54" fill="rgb(253,204,204)"/>
<rect x="415.84" y="195.73" width="5.11" height="10.54" fill="rgb(255,255,255)"/>
<rect x="420.94" y="195.73" width="5.11" height="10.54" fill="rgb(128,128,248)"/>
<rect x="426.05" y="195.73" width="5.11" height="10.54" fill="rgb(249,77,77)"/>
<rect x="431.15" y="195.73" width="5.11" height="10.54" fill="rgb(253,204,204)"/>
<rect x="436.25" y="195.73" width="5.11" height="10.54" fill="rgb(230,230,254)"/>
<rect x="441.36" y="195.73" width="5.11" height="10.54" fill="rgb(253,204,204)"/>
<rect x="446.47" y="195.73" width="5.11" height="10.54" fill="rgb(255,255,255)"/>
<rect x="451.57" y="195.73" width="5.11" height="10.54" fill="rgb(252,153,153)"/>
<rect x="175.90" y="206.28" width="5.11" height="10.54" fill="rgb(251,128,128)"/>
<rect x="181.00" y="206.28" width="5.11" height="10.54" fill="rgb(249,77,77)"/>
<rect x="186.11" y="206.28" width="5.11" height="10.54" fill="rgb(252,153,153)"/>
<rect x="191.22" y="206.28" width="5.11" height="10.54" fill="rgb(249,77,77)"/>
<rect x="196.32" y="206.28" width="5.11" height="10.54" fill="rgb(251,128,128)"/>
<rect x="201.43" y="206.28" width="5.11" height="10.54" fill="rgb(251,128,128)"/>
<rect x="206.53" y="206.28" width="5.11" height="10.54" fill="rgb(254,230,230)"/>
<rect x="211.63" y="206.28" width="5.11" height="10.54" fill="rgb(253,178,178)"/>
<rect x="216.74" y="206.28" width="5.11" height="10.54" fill="rgb(255,255,255)"/>
<rect x="221.85" y="206.28" width="5.11" height="10.54" fill="rgb(253,178,178)"/>
<rect x="226.95" y="206.28" width="5.11" height="10.54" fill="rgb(251,128,128)"/>
<rect x="232.06" y="206.28" width="5.11" height="10.54" fill="rgb(252,153,153)"/>
<rect x="237.16" y="206.28" width="5.11" height="10.54" fill="rgb(250,102,102)"/>
<rect x="242.27" y="206.28" width="5.11" height="10.54" fill="rgb(250,102,102)"/>
<rect x="247.37" y="206.28" width="5.11" height="10.54" fill="rgb(255,255,255)"/>
<rect x="252.48" y="206.28" width="5.11" height="10.54" fill="rgb(252,153,153)"/>
<rect x="257.58" y="206.28" width="5.11" height="10.54" fill="rgb(252,153,153)"/>
<rect x="262.69" y="206.28" width="5.11" height="10.54" fill="rgb(252,153,153)"/>
<rect x="267.79" y="206.28" width="5.11" height="10.54" fill="rgb(178,178,250)"/>
<rect x="272.89" y="206.28" width="5.11" height="10.54" fill="rgb(247,0,0)"/>
<rect x="278.00" y="206.28" width="5.11" height="10.54" fill="rgb(251,128,128)"/>
<rect x="283.11" y="206.28" width="5.11" height="10.54" fill="rgb(252,153,153)"/>
<rect x="288.21" y="206.28" width="5.11" height="10.54" fill="rgb(250,102,102)"/>
<rect x="293.31" y="206.28" width="5.11" height="10.54" fill="rgb(252,153,153)"/>
<rect x="298.42" y="206.28" width="5.11" height="10.54" fill="rgb(252,153,153)"/>
<rect x="303.53" y="206.28" width="5.11" height="10.54" fill="rgb(253,204,204)"/>
<rect x="308.63" y="206.28" width="5.11" height="10.54" fill="rgb(250,102,102)"/>
<rect x="313.74" y="206.28" width="5.11" height="10.54" fill="rgb(252,153,153)"/>
<rect x="318.84" y="206.28" width="5.11" height="10.54" fill="rgb(230,230,254)"/>
<rect x="323.95" y="206.28" width="5.11" height="10.54" fill="rgb(255,255,255)"/>
<rect x="329.05" y="206.28" width="5.11" height="10.54" fill="rgb(253,204,204)"/>
<rect x="334.16" y="206.28" width="5.11" height="10.54" fill="rgb(255,255,255)"/>
<rect x="339.26" y="206.28" width="5.11" height="10.54" fill="rgb(248,25,25)"/>
<rect x="344.37" y="206.28" width="5.11" height="10.54" fill="rgb(253,178,178)"/>
<rect x="349.47" y="206.28" width="5.11" height="10.54" fill="rgb(253,204,204)"/>
<rect x="354.58" y="206.28" width="5.11" height="10.54" fill="rgb(255,255,255)"/>
<rect x="359.68" y="206.28" width="5.11" height="10.54" fill="rgb(51,51,243)"/>
<rect x="364.79" y="206.28" width="5.11" height="10.54" fill="rgb(102,102,246)"/>
<rect x="369.89" y="206.28" width="5.11" height="10.54" fill="rgb(77,77,244)"/>
<rect x="375.00" y="206.28" width="5.11" height="10.54" fill="rgb(0,0,240)"/>
<rect x="380.10" y="206.28" width="5.11" height="10.54" fill="rgb(178,178,250)"/>
<rect x="385.21" y="206.28" width="5.11" height="10.54" fill="rgb(254,230,230)"/>
<rect x="390.31" y="206.28" width="5.11" height="10.54" fill="rgb(178,178,250)"/>
<rect x="395.42" y="206.28" width="5.11" height="10.54" fill="rgb(253,204,204)"/>
<rect x="400.52" y="206.28" width="5.11" height="10.54" fill="rgb(254,230,230)"/>
<rect x="405.62" y="206.28" width="5.11" height="10.54" fill="rgb(0,0,240)"/>
<rect x="410.73" y="206.28" width="5.11" height="10.54" fill="rgb(0,0,240)"/>
<rect x="415.84" y="206.28" width="5.11" height="10.54" fill="rgb(0,0,240)"/>
<rect x="420.94" y="206.28" width="5.11" height="10.54" fill="rgb(255,255,255)"/>
<rect x="426.05" y="206.28" width="5.11" height="10.54" fill="rgb(25,25,242)"/>
<rect x="431.15" y="206.28" width="5.11" height="10.54" fill="rgb(0,0,240)"/>
<rect x="436.25" y="206.28" width="5.11" height="10.54" fill="rgb(0,0,240)"/>
<rect x="441.36" y="206.28" width="5.11" height="10.54" fill="rgb(0,0,240)"/>
<rect x="446.47" y="206.28" width="5.11" height="10.54" fill="rgb(102,102,246)"/>
<rect x="451.57" y="206.28" width="5.11" height="10.54" fill="rgb(247,0,0)"/>
<rect x="175.90" y="216.82" width="5.11" height="10.54" fill="rgb(251,128,128)"/>
<rect x="181.00" y="216.82" width="5.11" height="10.54" fill="rgb(252,153,153)"/>
<rect x="186.11" y="216.82" width="5.11" height="10.54" fill="rgb(252,153,153)"/>
<rect x="191.22" y="216.82" width="5.11" height="10.54" fill="rgb(253,178,178)"/>
<rect x="196.32" y="216.82" width="5.11" height="10.54" fill="rgb(249,77,77)"/>
<rect x="201.43" y="216.82" width="5.11" height="10.54" fill="rgb(249,77,77)"/>
<rect x="206.53" y="216.82" width="5.11" height="10.54" fill="rgb(249,51,51)"/>
<rect x="211.63" y="216.82" width="5.11" height="10.54" fill="rgb(249,51,51)"/>
<rect x="216.74" y="216.82" width="5.11" height="10.54" fill="rgb(248,25,25)"/>
<rect x="221.85" y="216.82" width="5.11" height="10.54" fill="rgb(250,102,102)"/>
<rect x="226.95" y="216.82" width="5.11" height="10.54" fill="rgb(251,128,128)"/>
<rect x="232.06" y="216.82" width="5.11" height="10.54" fill="rgb(250,102,102)"/>
<rect x="237.16" y="216.82" width="5.11" height="10.54" fill="rgb(255,255,255)"/>
<rect x="242.27" y="216.82" width="5.11" height="10.54" fill="rgb(252,153,153)"/>
<rect x="247.37" y="216.82" width="5.11" height="10.54" fill="rgb(253,204,204)"/>
<rect x="252.48" y="216.82" width="5.11" height="10.54" fill="rgb(252,153,153)"/>
<rect x="257.58" y="216.82" width="5.11" height="10.54" fill="rgb(251,128,128)"/>
<rect x="262.69" y="216.82" width="5.11" height="10.54" fill="rgb(249,77,77)"/>
<rect x="267.79" y="216.82" width="5.11" height="10.54" fill="rgb(249,51,51)"/>
<rect x="272.89" y="216.82" width="5.11" height="10.54" fill="rgb(153,153,249)"/>
<rect x="278.00" y="216.82" width="5.11" height="10.54" fill="rgb(254,230,230)"/>
<rect x="283.11" y="216.82" width="5.11" height="10.54" fill="rgb(253,204,204)"/>
<rect x="288.21" y="216.82" width="5.11" height="10.54" fill="rgb(230,230,254)"/>
<rect x="293.31" y="216.82" width="5.11" height="10.54" fill="rgb(253,204,204)"/>
<rect x="298.42" y="216.82" width="5.11" height="10.54" fill="rgb(255,255,255)"/>
<rect x="303.53" y="216.82" width="5.11" height="10.54" fill="rgb(255,255,255)"/>
<rect x="308.63" y="216.82" width="5.11" height="10.54" fill="rgb(253,204,204)"/>
<rect x="313.74" y="216.82" width="5.11" height="10.54" fill="rgb(252,153,153)"/>
<rect x="318.84" y="216.82" width="5.11" height="10.54" fill="rgb(255,240,240)"/>
<rect x="323.95" y="216.82" width="5.11" height="10.54" fill="rgb(255,255,255)"/>
<rect x="329.05" y="216.82" width="5.11" height="10.54" fill="rgb(240,240,254)"/>
<rect x="334.16" y="216.82" width="5.11" height="10.54" fill="rgb(252,153,153)"/>
<rect x="339.26" y="216.82" width="5.11" height="10.54" fill="rgb(204,204,252)"/>
<rect x="344.37" y="216.82" width="5.11" height="10.54" fill="rgb(255,255,255)"/>
<rect x="349.47" y="216.82" width="5.11" height="10.54" fill="rgb(204,204,252)"/>
<rect x="354.58" y="216.82" width="5.11" height="10.54" fill="rgb(255,255,255)"/>
<rect x="359.68" y="216.82" width="5.11" height="10.54" fill="rgb(230,230,254)"/>
<rect x="364.79" y="216.82" width="5.11" height="10.54" fill="rgb(255,255,255)"/>
<rect x="369.89" y="216.82" width="5.11" height="10.54" fill="rgb(253,204,204)"/>
<rect x="375.00" y="216.82" width="5.11" height="10.54" fill="rgb(255,255,255)"/>
<rect x="380.10" y="216.82" width="5.11" height="10.54" fill="rgb(25,25,242)"/>
<rect x="385.21" y="216.82" width="5.11" height="10.54" fill="rgb(102,102,246)"/>
<rect x="390.31" y="216.82" width="5.11" height="10.54" fill="rgb(102,102,246)"/>
<rect x="395.42" y="216.82" width="5.11" height="10.54" fill="rgb(153,153,249)"/>
<rect x="400.52" y="216.82" width="5.11" height="10.54" fill="rgb(0,0,240)"/>
<rect x="405.62" y="216.82" width="5.11" height="10.54" fill="rgb(153,153,249)"/>
<rect x="410.73" y="216.82" width="5.11" height="10.54" fill="rgb(128,128,248)"/>
<rect x="415.84" y="216.82" width="5.11" height="10.54" fill="rgb(178,178,250)"/>
<rect x="420.94" y="216.82" width="5.11" height="10.54" fill="rgb(254,230,230)"/>
<rect x="426.05" y="216.82" width="5.11" height="10.54" fill="rgb(255,255,255)"/>
<rect x="431.15" y="216.82" width="5.11" height="10.54" fill="rgb(254,230,230)"/>
<rect x="436.25" y="216.82" width="5.11" height="10.54" fill="rgb(0,0,240)"/>
<rect x="441.36" y="216.82" width="5.11" height="10.54" fill="rgb(0,0,240)"/>
<rect x="446.47" y="216.82" width="5.11" height="10.54" fill="rgb(0,0,240)"/>
<rect x="451.57" y="216.82" width="5.11" height="10.54" fill="rgb(0,0,240)"/>
<rect x="175.90" y="227.36" width="5.11" height="10.54" fill="rgb(253,178,178)"/>
<rect x="181.00" y="227.36" width="5.11" height="10.54" fill="rgb(253,178,178)"/>
<rect x="186.11" y="227.36" width="5.11" height="10.54" fill="rgb(253,178,178)"/>
<rect x="191.22" y="227.36" width="5.11" height="10.54" fill="rgb(252,153,153)"/>
<rect x="196.32" y="227.36" width="5.11" height="10.54" fill="rgb(250,102,102)"/>
<rect x="201.43" y="227.36" width="5.11" height="10.54" fill="rgb(251,128,128)"/>
<rect x="206.53" y="227.36" width="5.11" height="10.54" fill="rgb(249,51,51)"/>
<rect x="211.63" y="227.36" width="5.11" height="10.54" fill="rgb(251,128,128)"/>
<rect x="216.74" y="227.36" width="5.11" height="10.54" fill="rgb(247,0,0)"/>
<rect x="221.85" y="227.36" width="5.11" height="10.54" fill="rgb(251,128,128)"/>
<rect x="226.95" y="227.36" width="5.11" height="10.54" fill="rgb(250,102,102)"/>
<rect x="232.06" y="227.36" width="5.11" height="10.54" fill="rgb(250,102,102)"/>
<rect x="237.16" y="227.36" width="5.11" height="10.54" fill="rgb(252,153,153)"/>
<rect x="242.27" y="227.36" width="5.11" height="10.54" fill="rgb(253,178,178)"/>
<rect x="247.37" y="227.36" width="5.11" height="10.54" fill="rgb(252,153,153)"/>
<rect x="252.48" y="227.36" width="5.11" height="10.54" fill="rgb(252,153,153)"/>
<rect x="257.58" y="227.36" width="5.11" height="10.54" fill="rgb(251,128,128)"/>
<rect x="262.69" y="227.36" width="5.11" height="10.54" fill="rgb(249,77,77)"/>
<rect x="267.79" y="227.36" width="5.11" height="10.54" fill="rgb(249,77,77)"/>
<rect x="272.89" y="227.36" width="5.11" height="10.54" fill="rgb(153,153,249)"/>
<rect x="278.00" y="227.36" width="5.11" height="10.54" fill="rgb(254,230,230)"/>
<rect x="283.11" y="227.36" width="5.11" height="10.54" fill="rgb(253,204,204)"/>
<rect x="288.21" y="227.36" width="5.11" height="10.54" fill="rgb(153,153,249)"/>
<rect x="293.31" y="227.36" width="5.11" height="10.54" fill="rgb(255,255,255)"/>
<rect x="298.42" y="227.36" width="5.11" height="10.54" fill="rgb(255,255,255)"/>
<rect x="303.53" y="227.36" width="5.11" height="10.54" fill="rgb(255,240,240)"/>
<rect x="308.63" y="227.36" width="5.11" height="10.54" fill="rgb(255,255,255)"/>
<rect x="313.74" y="227.36" width="5.11" height="10.54" fill="rgb(255,240,240)"/>
<rect x="318.84" y="227.36" width="5.11" height="10.54" fill="rgb(255,255,255)"/>
<rect x="323.95" y="227.36" width="5.11" height="10.54" fill="rgb(204,204,252)"/>
<rect x="329.05" y="227.36" width="5.11" height="10.54" fill="rgb(240,240,254)"/>
<rect x="334.16" y="227.36" width="5.11" height="10.54" fill="rgb(254,230,230)"/>
<rect x="339.26" y="227.36" width="5.11" height="10.54" fill="rgb(102,102,246)"/>
<rect x="344.37" y="227.36" width="5.11" height="10.54" fill="rgb(153,153,249)"/>
<rect x="349.47" y="227.36" width="5.11" height="10.54" fill="rgb(77,77,244)"/>
<rect x="354.58" y="227.36" width="5.11" height="10.54" fill="rgb(102,102,246)"/>
<rect x="359.68" y="227.36" width="5.11" height="10.54" fill="rgb(204,204,252)"/>
<rect x="364.79" y="227.36" width="5.11" height="10.54" fill="rgb(178,178,250)"/>
<rect x="369.89" y="227.36" width="5.11" height="10.54" fill="rgb(253,204,204)"/>
<rect x="375.00" y="227.36" width="5.11" height="10.54" fill="rgb(240,240,254)"/>
<rect x="380.10" y="227.36" width="5.11" height="10.54" fill="rgb(102,102,246)"/>
<rect x="385.21" y="227.36" width="5.11" height="10.54" fill="rgb(153,153,249)"/>
<rect x="390.31" y="227.36" width="5.11" height="10.54" fill="rgb(102,102,246)"/>
<rect x="395.42" y="227.36" width="5.11" height="10.54" fill="rgb(230,230,254)"/>
<rect x="400.52" y="227.36" width="5.11" height="10.54" fill="rgb(102,102,246)"/>
<rect x="405.62" y="227.36" width="5.11" height="10.54" fill="rgb(153,153,249)"/>
<rect x="410.73" y="227.36" width="5.11" height="10.54" fill="rgb(153,153,249)"/>
<rect x="415.84" y="227.36" width="5.11" height="10.54" fill="rgb(204,204,252)"/>
<rect x="420.94" y="227.36" width="5.11" height="10.54" fill="rgb(254,230,230)"/>
<rect x="426.05" y="227.36" width="5.11" height="10.54" fill="rgb(230,230,254)"/>
<rect x="431.15" y="227.36" width="5.11" height="10.54" fill="rgb(254,230,230)"/>
<rect x="436.25" y="227.36" width="5.11" height="10.54" fill="rgb(0,0,240)"/>
<rect x="441.36" y="227.36" width="5.11" height="10.54" fill="rgb(0,0,240)"/>
<rect x="446.47" y="227.36" width="5.11" height="10.54" fill="rgb(0,0,240)"/>
<rect x="451.57" y="227.36" width="5.11" height="10.54" fill="rgb(0,0,240)"/>
<rect x="175.90" y="237.91" width="5.11" height="10.54" fill="rgb(253,178,178)"/>
<rect x="181.00" y="237.91" width="5.11" height="10.54" fill="rgb(253,178,178)"/>
<rect x="186.11" y="237.91" width="5.11" height="10.54" fill="rgb(253,178,178)"/>
<rect x="191.22" y="237.91" width="5.11" height="10.54" fill="rgb(252,153,153)"/>
<rect x="196.32" y="237.91" width="5.11" height="10.54" fill="rgb(250,102,102)"/>
<rect x="201.43" y="237.91" width="5.11" height="10.54" fill="rgb(251,128,128)"/>
<rect x="206.53" y="237.91" width="5.11" height="10.54" fill="rgb(249,77,77)"/>
<rect x="211.63" y="237.91" width="5.11" height="10.54" fill="rgb(252,153,153)"/>
<rect x="216.74" y="237.91" width="5.11" height="10.54" fill="rgb(247,0,0)"/>
<rect x="221.85" y="237.91" width="5.11" height="10.54" fill="rgb(251,128,128)"/>
<rect x="226.95" y="237.91" width="5.11" height="10.54" fill="rgb(250,102,102)"/>
<rect x="232.06" y="237.91" width="5.11" height="10.54" fill="rgb(251,128,128)"/>
<rect x="237.16" y="237.91" width="5.11" height="10.54" fill="rgb(253,178,178)"/>
<rect x="242.27" y="237.91" width="5.11" height="10.54" fill="rgb(253,178,178)"/>
<rect x="247.37" y="237.91" width="5.11" height="10.54" fill="rgb(252,153,153)"/>
<rect x="252.48" y="237.91" width="5.11" height="10.54" fill="rgb(252,153,153)"/>
<rect x="257.58" y="237.91" width="5.11" height="10.54" fill="rgb(251,128,128)"/>
<rect x="262.69" y="237.91" width="5.11" height="10.54" fill="rgb(249,77,77)"/>
<rect x="267.79" y="237.91" width="5.11" height="10.54" fill="rgb(249,77,77)"/>
<rect x="272.89" y="237.91" width="5.11" height="10.54" fill="rgb(153,153,249)"/>
<rect x="278.00" y="237.91" width="5.11" height="10.54" fill="rgb(255,255,255)"/>
<rect x="283.11" y="237.91" width="5.11" height="10.54" fill="rgb(255,240,240)"/>
<rect x="288.21" y="237.91" width="5.11" height="10.54" fill="rgb(153,153,249)"/>
<rect x="293.31" y="237.91" width="5.11" height="10.54" fill="rgb(255,255,255)"/>
<rect x="298.42" y="237.91" width="5.11" height="10.54" fill="rgb(255,240,240)"/>
<rect x="303.53" y="237.91" width="5.11" height="10.54" fill="rgb(255,255,255)"/>
<rect x="308.63" y="237.91" width="5.11" height="10.54" fill="rgb(255,255,255)"/>
<rect x="313.74" y="237.91" width="5.11" height="10.54" fill="rgb(255,255,255)"/>
<rect x="318.84" y="237.91" width="5.11" height="10.54" fill="rgb(255,255,255)"/>
<rect x="323.95" y="237.91" width="5.11" height="10.54" fill="rgb(204,204,252)"/>
<rect x="329.05" y="237.91" width="5.11" height="10.54" fill="rgb(255,255,255)"/>
<rect x="334.16" y="237.91" width="5.11" height="10.54" fill="rgb(254,230,230)"/>
<rect x="339.26" y="237.91" width="5.11" height="10.54" fill="rgb(102,102,246)"/>
<rect x="344.37" y="237.91" width="5.11" height="10.54" fill="rgb(153,153,249)"/>
<rect x="349.47" y="237.91" width="5.11" height="10.54" fill="rgb(102,102,246)"/>
<rect x="354.58" y="237.91" width="5.11" height="10.54" fill="rgb(128,128,248)"/>
<rect x="359.68" y="237.91" width="5.11" height="10.54" fill="rgb(204,204,252)"/>
<rect x="364.79" y="237.91" width="5.11" height="10.54" fill="rgb(178,178,250)"/>
<rect x="369.89" y="237.91" width="5.11" height="10.54" fill="rgb(253,204,204)"/>
<rect x="375.00" y="237.91" width="5.11" height="10.54" fill="rgb(240,240,254)"/>
<rect x="380.10" y="237.91" width="5.11" height="10.54" fill="rgb(102,102,246)"/>
<rect x="385.21" y="237.91" width="5.11" height="10.54" fill="rgb(153,153,249)"/>
<rect x="390.31" y="237.91" width="5.11" height="10.54" fill="rgb(102,102,246)"/>
<rect x="395.42" y="237.91" width="5.11" height="10.54" fill="rgb(230,230,254)"/>
<rect x="400.52" y="237.91" width="5.11" height="10.54" fill="rgb(102,102,246)"/>
<rect x="405.62" y="237.91" width="5.11" height="10.54" fill="rgb(153,153,249)"/>
<rect x="410.73" y="237.91" width="5.11" height="10.54" fill="rgb(153,153,249)"/>
<rect x="415.84" y="237.91" width="5.11" height="10.54" fill="rgb(204,204,252)"/>
<rect x="420.94" y="237.91" width="5.11" height="10.54" fill="rgb(254,230,230)"/>
<rect x="426.05" y="237.91" width="5.11" height="10.54" fill="rgb(230,230,254)"/>
<rect x="431.15" y="237.91" width="5.11" height="10.54" fill="rgb(254,230,230)"/>
<rect x="436.25" y="237.91" width="5.11" height="10.54" fill="rgb(25,25,242)"/>
<rect x="441.36" y="237.91" width="5.11" height="10.54" fill="rgb(25,25,242)"/>
<rect x="446.47" y="237.91" width="5.11" height="10.54" fill="rgb(25,25,242)"/>
<rect x="451.57" y="237.91" width="5.11" height="10.54" fill="rgb(0,0,240)"/>
<rect x="175.90" y="248.45" width="5.11" height="10.54" fill="rgb(253,178,178)"/>
<rect x="181.00" y="248.45" width="5.11" height="10.54" fill="rgb(253,178,178)"/>
<rect x="186.11" y="248.45" width="5.11" height="10.54" fill="rgb(253,178,178)"/>
<rect x="191.22" y="248.45" width="5.11" height="10.54" fill="rgb(252,153,153)"/>
<rect x="196.32" y="248.45" width="5.11" height="10.54" fill="rgb(250,102,102)"/>
<rect x="201.43" y="248.45" width="5.11" height="10.54" fill="rgb(252,153,153)"/>
<rect x="206.53" y="248.45" width="5.11" height="10.54" fill="rgb(249,77,77)"/>
<rect x="211.63" y="248.45" width="5.11" height="10.54" fill="rgb(252,153,153)"/>
<rect x="216.74" y="248.45" width="5.11" height="10.54" fill="rgb(247,0,0)"/>
<rect x="221.85" y="248.45" width="5.11" height="10.54" fill="rgb(252,153,153)"/>
<rect x="226.95" y="248.45" width="5.11" height="10.54" fill="rgb(250,102,102)"/>
<rect x="232.06" y="248.45" width="5.11" height="10.54" fill="rgb(251,128,128)"/>
<rect x="237.16" y="248.45" width="5.11" height="10.54" fill="rgb(253,178,178)"/>
<rect x="242.27" y="248.45" width="5.11" height="10.54" fill="rgb(253,204,204)"/>
<rect x="247.37" y="248.45" width="5.11" height="10.54" fill="rgb(252,153,153)"/>
<rect x="252.48" y="248.45" width="5.11" height="10.54" fill="rgb(252,153,153)"/>
<rect x="257.58" y="248.45" width="5.11" height="10.54" fill="rgb(251,128,128)"/>
<rect x="262.69" y="248.45" width="5.11" height="10.54" fill="rgb(249,77,77)"/>
<rect x="267.79" y="248.45" width="5.11" height="10.54" fill="rgb(249,77,77)"/>
<rect x="272.89" y="248.45" width="5.11" height="10.54" fill="rgb(153,153,249)"/>
<rect x="278.00" y="248.45" width="5.11" height="10.54" fill="rgb(255,240,240)"/>
<rect x="283.11" y="248.45" width="5.11" height="10.54" fill="rgb(255,240,240)"/>
<rect x="288.21" y="248.45" width="5.11" height="10.54" fill="rgb(178,178,250)"/>
<rect x="293.31" y="248.45" width="5.11" height="10.54" fill="rgb(255,255,255)"/>
<rect x="298.42" y="248.45" width="5.11" height="10.54" fill="rgb(240,240,254)"/>
<rect x="303.53" y="248.45" width="5.11" height="10.54" fill="rgb(255,255,255)"/>
<rect x="308.63" y="248.45" width="5.11" height="10.54" fill="rgb(255,255,255)"/>
<rect x="313.74" y="248.45" width="5.11" height="10.54" fill="rgb(254,230,230)"/>
<rect x="318.84" y="248.45" width="5.11" height="10.54" fill="rgb(255,255,255)"/>
<rect x="323.95" y="248.45" width="5.11" height="10.54" fill="rgb(204,204,252)"/>
<rect x="329.05" y="248.45" width="5.11" height="10.54" fill="rgb(255,255,255)"/>
<rect x="334.16" y="248.45" width="5.11" height="10.54" fill="rgb(255,240,240)"/>
<rect x="339.26" y="248.45" width="5.11" height="10.54" fill="rgb(102,102,246)"/>
<rect x="344.37" y="248.45" width="5.11" height="10.54" fill="rgb(153,153,249)"/>
<rect x="349.47" y="248.45" width="5.11" height="10.54" fill="rgb(102,102,246)"/>
<rect x="354.58" y="248.45" width="5.11" height="10.54" fill="rgb(128,128,248)"/>
<rect x="359.68" y="248.45" width="5.11" height="10.54" fill="rgb(204,204,252)"/>
<rect x="364.79" y="248.45" width="5.11" height="10.54" fill="rgb(178,178,250)"/>
<rect x="369.89" y="248.45" width="5.11" height="10.54" fill="rgb(253,204,204)"/>
<rect x="375.00" y="248.45" width="5.11" height="10.54" fill="rgb(240,240,254)"/>
<rect x="380.10" y="248.45" width="5.11" height="10.54" fill="rgb(102,102,246)"/>
<rect x="385.21" y="248.45" width="5.11" height="10.54" fill="rgb(153,153,249)"/>
<rect x="390.31" y="248.45" width="5.11" height="10.54" fill="rgb(102,102,246)"/>
<rect x="395.42" y="248.45" width="5.11" height="10.54" fill="rgb(230,230,254)"/>
<rect x="400.52" y="248.45" width="5.11" height="10.54" fill="rgb(102,102,246)"/>
<rect x="405.62" y="248.45" width="5.11" height="10.54" fill="rgb(153,153,249)"/>
<rect x="410.73" y="248.45" width="5.11" height="10.54" fill="rgb(153,153,249)"/>
<rect x="415.84" y="248.45" width="5.11" height="10.54" fill="rgb(230,230,254)"/>
<rect x="420.94" y="248.45" width="5.11" height="10.54" fill="rgb(254,230,230)"/>
<rect x="426.05" y="248.45" width="5.11" height="10.54" fill="rgb(255,255,255)"/>
<rect x="431.15" y="248.45" width="5.11" height="10.54" fill="rgb(254,230,230)"/>
<rect x="436.25" y="248.45" width="5.11" height="10.54" fill="rgb(25,25,242)"/>
<rect x="441.36" y="248.45" width="5.11" height="10.54" fill="rgb(25,25,242)"/>
<rect x="446.47" y="248.45" width="5.11" height="10.54" fill="rgb(25,25,242)"/>
<rect x="451.57" y="248.45" width="5.11" height="10.54" fill="rgb(0,0,240)"/>
<line x1="175.90" y1="48.1" x2="175.90" y2="259.0" stroke="rgba(0,0,40,0.30)" stroke-width="0.8"/>
<line x1="181.00" y1="48.1" x2="181.00" y2="259.0" stroke="rgba(0,0,40,0.30)" stroke-width="0.8"/>
<line x1="186.11" y1="48.1" x2="186.11" y2="259.0" stroke="rgba(0,0,40,0.30)" stroke-width="0.8"/>
<line x1="191.22" y1="48.1" x2="191.22" y2="259.0" stroke="rgba(0,0,40,0.30)" stroke-width="0.8"/>
<line x1="196.32" y1="48.1" x2="196.32" y2="259.0" stroke="rgba(0,0,40,0.30)" stroke-width="0.8"/>
<line x1="201.43" y1="48.1" x2="201.43" y2="259.0" stroke="rgba(0,0,40,0.30)" stroke-width="0.8"/>
<line x1="206.53" y1="48.1" x2="206.53" y2="259.0" stroke="rgba(0,0,40,0.30)" stroke-width="0.8"/>
<line x1="211.63" y1="48.1" x2="211.63" y2="259.0" stroke="rgba(0,0,40,0.30)" stroke-width="0.8"/>
<line x1="216.74" y1="48.1" x2="216.74" y2="259.0" stroke="rgba(0,0,40,0.30)" stroke-width="0.8"/>
<line x1="221.85" y1="48.1" x2="221.85" y2="259.0" stroke="rgba(0,0,40,0.30)" stroke-width="0.8"/>
<line x1="226.95" y1="48.1" x2="226.95" y2="259.0" stroke="rgba(0,0,40,0.30)" stroke-width="0.8"/>
<line x1="232.06" y1="48.1" x2="232.06" y2="259.0" stroke="rgba(0,0,40,0.30)" stroke-width="0.8"/>
<line x1="237.16" y1="48.1" x2="237.16" y2="259.0" stroke="rgba(0,0,40,0.30)" stroke-width="0.8"/>
<line x1="242.27" y1="48.1" x2="242.27" y2="259.0" stroke="rgba(0,0,40,0.30)" stroke-width="0.8"/>
<line x1="247.37" y1="48.1" x2="247.37" y2="259.0" stroke="rgba(0,0,40,0.30)" stroke-width="0.8"/>
<line x1="252.48" y1="48.1" x2="252.48" y2="259.0" stroke="rgba(0,0,40,0.30)" stroke-width="0.8"/>
<line x1="257.58" y1="48.1" x2="257.58" y2="259.0" stroke="rgba(0,0,40,0.30)" stroke-width="0.8"/>
<line x1="262.69" y1="48.1" x2="262.69" y2="259.0" stroke="rgba(0,0,40,0.30)" stroke-width="0.8"/>
<line x1="267.79" y1="48.1" x2="267.79" y2="259.0" stroke="rgba(0,0,40,0.30)" stroke-width="0.8"/>
<line x1="272.89" y1="48.1" x2="272.89" y2="259.0" stroke="rgba(0,0,40,0.30)" stroke-width="0.8"/>
<line x1="278.00" y1="48.1" x2="278.00" y2="259.0" stroke="rgba(0,0,40,0.30)" stroke-width="0.8"/>
<line x1="283.11" y1="48.1" x2="283.11" y2="259.0" stroke="rgba(0,0,40,0.30)" stroke-width="0.8"/>
<line x1="288.21" y1="48.1" x2="288.21" y2="259.0" stroke="rgba(0,0,40,0.30)" stroke-width="0.8"/>
<line x1="293.31" y1="48.1" x2="293.31" y2="259.0" stroke="rgba(0,0,40,0.30)" stroke-width="0.8"/>
<line x1="298.42" y1="48.1" x2="298.42" y2="259.0" stroke="rgba(0,0,40,0.30)" stroke-width="0.8"/>
<line x1="303.53" y1="48.1" x2="303.53" y2="259.0" stroke="rgba(0,0,40,0.30)" stroke-width="0.8"/>
<line x1="308.63" y1="48.1" x2="308.63" y2="259.0" stroke="rgba(0,0,40,0.30)" stroke-width="0.8"/>
<line x1="313.74" y1="48.1" x2="313.74" y2="259.0" stroke="rgba(0,0,40,0.30)" stroke-width="0.8"/>
<line x1="318.84" y1="48.1" x2="318.84" y2="259.0" stroke="rgba(0,0,40,0.30)" stroke-width="0.8"/>
<line x1="323.95" y1="48.1" x2="323.95" y2="259.0" stroke="rgba(0,0,40,0.30)" stroke-width="0.8"/>
<line x1="329.05" y1="48.1" x2="329.05" y2="259.0" stroke="rgba(0,0,40,0.30)" stroke-width="0.8"/>
<line x1="334.16" y1="48.1" x2="334.16" y2="259.0" stroke="rgba(0,0,40,0.30)" stroke-width="0.8"/>
<line x1="339.26" y1="48.1" x2="339.26" y2="259.0" stroke="rgba(0,0,40,0.30)" stroke-width="0.8"/>
<line x1="344.37" y1="48.1" x2="344.37" y2="259.0" stroke="rgba(0,0,40,0.30)" stroke-width="0.8"/>
<line x1="349.47" y1="48.1" x2="349.47" y2="259.0" stroke="rgba(0,0,40,0.30)" stroke-width="0.8"/>
<line x1="354.58" y1="48.1" x2="354.58" y2="259.0" stroke="rgba(0,0,40,0.30)" stroke-width="0.8"/>
<line x1="359.68" y1="48.1" x2="359.68" y2="259.0" stroke="rgba(0,0,40,0.30)" stroke-width="0.8"/>
<line x1="364.79" y1="48.1" x2="364.79" y2="259.0" stroke="rgba(0,0,40,0.30)" stroke-width="0.8"/>
<line x1="369.89" y1="48.1" x2="369.89" y2="259.0" stroke="rgba(0,0,40,0.30)" stroke-width="0.8"/>
<line x1="375.00" y1="48.1" x2="375.00" y2="259.0" stroke="rgba(0,0,40,0.30)" stroke-width="0.8"/>
<line x1="380.10" y1="48.1" x2="380.10" y2="259.0" stroke="rgba(0,0,40,0.30)" stroke-width="0.8"/>
<line x1="385.21" y1="48.1" x2="385.21" y2="259.0" stroke="rgba(0,0,40,0.30)" stroke-width="0.8"/>
<line x1="390.31" y1="48.1" x2="390.31" y2="259.0" stroke="rgba(0,0,40,0.30)" stroke-width="0.8"/>
<line x1="395.42" y1="48.1" x2="395.42" y2="259.0" stroke="rgba(0,0,40,0.30)" stroke-width="0.8"/>
<line x1="400.52" y1="48.1" x2="400.52" y2="259.0" stroke="rgba(0,0,40,0.30)" stroke-width="0.8"/>
<line x1="405.62" y1="48.1" x2="405.62" y2="259.0" stroke="rgba(0,0,40,0.30)" stroke-width="0.8"/>
<line x1="410.73" y1="48.1" x2="410.73" y2="259.0" stroke="rgba(0,0,40,0.30)" stroke-width="0.8"/>
<line x1="415.84" y1="48.1" x2="415.84" y2="259.0" stroke="rgba(0,0,40,0.30)" stroke-width="0.8"/>
<line x1="420.94" y1="48.1" x2="420.94" y2="259.0" stroke="rgba(0,0,40,0.30)" stroke-width="0.8"/>
<line x1="426.05" y1="48.1" x2="426.05" y2="259.0" stroke="rgba(0,0,40,0.30)" stroke-width="0.8"/>
<line x1="431.15" y1="48.1" x2="431.15" y2="259.0" stroke="rgba(0,0,40,0.30)" stroke-width="0.8"/>
<line x1="436.25" y1="48.1" x2="436.25" y2="259.0" stroke="rgba(0,0,40,0.30)" stroke-width="0.8"/>
<line x1="441.36" y1="48.1" x2="441.36" y2="259.0" stroke="rgba(0,0,40,0.30)" stroke-width="0.8"/>
<line x1="446.47" y1="48.1" x2="446.47" y2="259.0" stroke="rgba(0,0,40,0.30)" stroke-width="0.8"/>
<line x1="451.57" y1="48.1" x2="451.57" y2="259.0" stroke="rgba(0,0,40,0.30)" stroke-width="0.8"/>
<line x1="456.68" y1="48.1" x2="456.68" y2="259.0" stroke="rgba(0,0,40,0.30)" stroke-width="0.8"/>
<line x1="175.9" y1="48.10" x2="456.68" y2="48.10" stroke="rgba(0,0,40,0.30)" stroke-width="0.8"/>
<line x1="175.9" y1="58.65" x2="456.68" y2="58.65" stroke="rgba(0,0,40,0.30)" stroke-width="0.8"/>
<line x1="175.9" y1="69.19" x2="456.68" y2="69.19" stroke="rgba(0,0,40,0.30)" stroke-width="0.8"/>
<line x1="175.9" y1="79.73" x2="456.68" y2="79.73" stroke="rgba(0,0,40,0.30)" stroke-width="0.8"/>
<line x1="175.9" y1="90.28" x2="456.68" y2="90.28" stroke="rgba(0,0,40,0.30)" stroke-width="0.8"/>
<line x1="175.9" y1="100.83" x2="456.68" y2="100.83" stroke="rgba(0,0,40,0.30)" stroke-width="0.8"/>
<line x1="175.9" y1="111.37" x2="456.68" y2="111.37" stroke="rgba(0,0,40,0.30)" stroke-width="0.8"/>
<line x1="175.9" y1="121.91" x2="456.68" y2="121.91" stroke="rgba(0,0,40,0.30)" stroke-width="0.8"/>
<line x1="175.9" y1="132.46" x2="456.68" y2="132.46" stroke="rgba(0,0,40,0.30)" stroke-width="0.8"/>
<line x1="175.9" y1="143.00" x2="456.68" y2="143.00" stroke="rgba(0,0,40,0.30)" stroke-width="0.8"/>
<line x1="175.9" y1="153.55" x2="456.68" y2="153.55" stroke="rgba(0,0,40,0.30)" stroke-width="0.8"/>
<line x1="175.9" y1="164.09" x2="456.68" y2="164.09" stroke="rgba(0,0,40,0.30)" stroke-width="0.8"/>
<line x1="175.9" y1="174.64" x2="456.68" y2="174.64" stroke="rgba(0,0,40,0.30)" stroke-width="0.8"/>
<line x1="175.9" y1="185.19" x2="456.68" y2="185.19" stroke="rgba(0,0,40,0.30)" stroke-width="0.8"/>
<line x1="175.9" y1="195.73" x2="456.68" y2="195.73" stroke="rgba(0,0,40,0.30)" stroke-width="0.8"/>
<line x1="175.9" y1="206.28" x2="456.68" y2="206.28" stroke="rgba(0,0,40,0.30)" stroke-width="0.8"/>
<line x1="175.9" y1="216.82" x2="456.68" y2="216.82" stroke="rgba(0,0,40,0.30)" stroke-width="0.8"/>
<line x1="175.9" y1="227.36" x2="456.68" y2="227.36" stroke="rgba(0,0,40,0.30)" stroke-width="0.8"/>
<line x1="175.9" y1="237.91" x2="456.68" y2="237.91" stroke="rgba(0,0,40,0.30)" stroke-width="0.8"/>
<line x1="175.9" y1="248.45" x2="456.68" y2="248.45" stroke="rgba(0,0,40,0.30)" stroke-width="0.8"/>
<line x1="175.9" y1="259.00" x2="456.68" y2="259.00" stroke="rgba(0,0,40,0.30)" stroke-width="0.8"/>
<path d="M14.4 37.2 V29.3 H84.3 V37.2 M49.9 29.3 V37.2" fill="none" stroke="#8a8a8a" stroke-width="1"/>
<path d="M116.2 40.1 H123.2 V217.1 H116.2" fill="none" stroke="#333" stroke-width="1"/>
<path d="M116.2 219.4 H123.2 V400.2 H116.2" fill="none" stroke="#333" stroke-width="1"/>
<path d="M486.2 48.2 H495.8 V107.6 H486.2" fill="none" stroke="#333" stroke-width="1"/>
<path d="M486.2 112.4 H495.8 V259.2 H486.2" fill="none" stroke="#333" stroke-width="1"/>
<path d="M331.60 274.5 V265" stroke="#1e16a4" stroke-width="1.3" fill="none"/>
<path d="M329.70 267.2 L331.60 261.3 L333.50 267.2 Z" fill="#1e16a4"/>
<path d="M346.92 274.5 V265" stroke="#1e16a4" stroke-width="1.3" fill="none"/>
<path d="M345.02 267.2 L346.92 261.3 L348.82 267.2 Z" fill="#1e16a4"/>
<path d="M357.13 274.5 V265" stroke="#1e16a4" stroke-width="1.3" fill="none"/>
<path d="M355.23 267.2 L357.13 261.3 L359.03 267.2 Z" fill="#1e16a4"/>
<path d="M367.34 274.5 V265" stroke="#1e16a4" stroke-width="1.3" fill="none"/>
<path d="M365.44 267.2 L367.34 261.3 L369.24 267.2 Z" fill="#1e16a4"/>
<path d="M372.44 274.5 V265" stroke="#1e16a4" stroke-width="1.3" fill="none"/>
<path d="M370.54 267.2 L372.44 261.3 L374.34 267.2 Z" fill="#1e16a4"/>
<path d="M382.65 274.5 V265" stroke="#1e16a4" stroke-width="1.3" fill="none"/>
<path d="M380.75 267.2 L382.65 261.3 L384.55 267.2 Z" fill="#1e16a4"/>
<path d="M387.76 274.5 V265" stroke="#1e16a4" stroke-width="1.3" fill="none"/>
<path d="M385.86 267.2 L387.76 261.3 L389.66 267.2 Z" fill="#1e16a4"/>
<path d="M392.86 274.5 V265" stroke="#1e16a4" stroke-width="1.3" fill="none"/>
<path d="M390.96 267.2 L392.86 261.3 L394.76 267.2 Z" fill="#1e16a4"/>
<path d="M403.07 274.5 V265" stroke="#1e16a4" stroke-width="1.3" fill="none"/>
<path d="M401.17 267.2 L403.07 261.3 L404.97 267.2 Z" fill="#1e16a4"/>
<path d="M408.18 274.5 V265" stroke="#1e16a4" stroke-width="1.3" fill="none"/>
<path d="M406.28 267.2 L408.18 261.3 L410.08 267.2 Z" fill="#1e16a4"/>
<path d="M413.28 274.5 V265" stroke="#1e16a4" stroke-width="1.3" fill="none"/>
<path d="M411.38 267.2 L413.28 261.3 L415.18 267.2 Z" fill="#1e16a4"/>
<path d="M418.39 274.5 V265" stroke="#1e16a4" stroke-width="1.3" fill="none"/>
<path d="M416.49 267.2 L418.39 261.3 L420.29 267.2 Z" fill="#1e16a4"/>
<path d="M423.49 274.5 V265" stroke="#1e16a4" stroke-width="1.3" fill="none"/>
<path d="M421.59 267.2 L423.49 261.3 L425.39 267.2 Z" fill="#1e16a4"/>
<path d="M428.60 274.5 V265" stroke="#1e16a4" stroke-width="1.3" fill="none"/>
<path d="M426.70 267.2 L428.60 261.3 L430.50 267.2 Z" fill="#1e16a4"/>
<path d="M433.70 274.5 V265" stroke="#1e16a4" stroke-width="1.3" fill="none"/>
<path d="M431.80 267.2 L433.70 261.3 L435.60 267.2 Z" fill="#1e16a4"/>
<path d="M438.81 274.5 V265" stroke="#1e16a4" stroke-width="1.3" fill="none"/>
<path d="M436.91 267.2 L438.81 261.3 L440.71 267.2 Z" fill="#1e16a4"/>
<path d="M443.91 274.5 V265" stroke="#1e16a4" stroke-width="1.3" fill="none"/>
<path d="M442.01 267.2 L443.91 261.3 L445.81 267.2 Z" fill="#1e16a4"/>
<path d="M449.02 274.5 V265" stroke="#1e16a4" stroke-width="1.3" fill="none"/>
<path d="M447.12 267.2 L449.02 261.3 L450.92 267.2 Z" fill="#1e16a4"/>
<path d="M454.12 274.5 V265" stroke="#1e16a4" stroke-width="1.3" fill="none"/>
<path d="M452.22 267.2 L454.12 261.3 L456.02 267.2 Z" fill="#1e16a4"/>
<rect x="176.10" y="314.2" width="8.13" height="8.4" fill="rgb(247,0,0)" stroke="rgba(0,0,40,0.30)" stroke-width="0.6"/>
<rect x="184.23" y="314.2" width="8.13" height="8.4" fill="rgb(250,85,85)" stroke="rgba(0,0,40,0.30)" stroke-width="0.6"/>
<rect x="192.36" y="314.2" width="8.13" height="8.4" fill="rgb(252,170,170)" stroke="rgba(0,0,40,0.30)" stroke-width="0.6"/>
<rect x="200.49" y="314.2" width="8.13" height="8.4" fill="rgb(255,255,255)" stroke="rgba(0,0,40,0.30)" stroke-width="0.6"/>
<rect x="208.62" y="314.2" width="8.13" height="8.4" fill="rgb(170,170,250)" stroke="rgba(0,0,40,0.30)" stroke-width="0.6"/>
<rect x="216.75" y="314.2" width="8.13" height="8.4" fill="rgb(85,85,245)" stroke="rgba(0,0,40,0.30)" stroke-width="0.6"/>
<rect x="224.88" y="314.2" width="8.13" height="8.4" fill="rgb(0,0,240)" stroke="rgba(0,0,40,0.30)" stroke-width="0.6"/>
<path d="M270.4 11.9 H420.0 M270.4 11.9 V31.4 M420.0 11.9 V26.1 M237.4 31.4 H303.6 M237.4 31.4 V37.0 M303.6 31.4 V36.3 M212.1 37.0 H263.4 M212.1 37.0 V41.3 M188.4 41.3 H224 M178.6 43.0 H188.4 M208 43.0 H232 M188.4 41.3 V43 M224 41.3 V43 M263.4 37.0 V39.0 M256.8 39.0 H270.1 M256.8 39.0 V40.7 M248.5 40.7 H265.2 M248.5 40.7 V42.4 M265.2 40.7 V43.6 M270.1 39.0 V43.6 M234.6 42.4 H258.8 M279.4 36.3 H327.3 M279.4 36.3 V41.8 M275.6 41.8 H284.2 M275.6 41.8 V43.6 M284.2 41.8 V43.6 M327.3 36.3 V38.8 M313.4 38.8 H350.8 M313.4 38.8 V40.2 M305.6 40.2 H320.8 M305.6 40.2 V42.6 M320.8 40.2 V43.2 M350.8 38.8 V42.4 M331.5 42.4 H337 M340.4 42.4 H356 M331.7 38.8 V42.4 M332.4 38.8 V42 M326 42.2 H336 M291.5 42.6 H306.5 M286 43.3 H296 M393.3 26.1 H447.3 M447.3 26.1 V29.1 M393.3 26.1 V35.0 M369.2 35.0 H416.9 M369.2 35.0 V39.5 M364.6 39.5 H373.8 M364.6 39.5 V43.6 M373.8 39.5 V43.6 M360 42.4 H368 M392.7 37.3 H422.7 M404.2 35.0 V37.3 M392.7 37.3 V40.8 M385 40.8 H400 M385 40.8 V43.6 M400 40.8 V43.6 M380.7 42.4 H390 M422.7 37.3 V43.6 M407.7 38.2 V43.6 M407.7 38.2 H416 M412.3 41.8 H418 M412.3 41.8 V43.6 M418 41.8 V43.6 M416 38.2 V41.8 M416.9 34.8 H429.9 M429.9 34.8 V39.0 M427.3 39.0 H432.5 M427.3 39.0 V43.6 M432.5 39.0 V43.6 M441.4 22.9 H452.9 M441.4 22.9 V30.2 M452.9 22.9 V43.6 M437.5 30.2 H444.8 M437.5 30.2 V43.6 M444.8 30.2 V40.8 M442.5 40.8 H447.8 M442.5 40.8 V43.6 M447.8 40.8 V43.6" fill="none" stroke="#7a7a7a" stroke-width="1"/>
<g shape-rendering="auto">
<text x="88.6" y="46.01" class="ga">Sfpi1</text>
<text x="88.6" y="55.04" class="ga">Runx3</text>
<text x="88.6" y="64.08" class="ga">Kit</text>
<text x="88.6" y="73.12" class="ga">Id2</text>
<text x="88.6" y="82.16" class="ga">Cd44</text>
<text x="88.6" y="91.19" class="ga">Il7r</text>
<text x="88.6" y="100.23" class="ga">Bcl2</text>
<text x="88.6" y="109.27" class="ga">Cd34</text>
<text x="88.6" y="118.31" class="ga">Gfi1</text>
<text x="88.6" y="127.35" class="ga">Cd3d</text>
<text x="88.6" y="136.38" class="ga">Cd3e</text>
<text x="88.6" y="145.42" class="ga">Tal1</text>
<text x="88.6" y="154.46" class="ga">Bcl11a</text>
<text x="88.6" y="163.50" class="ga">Cebpa</text>
<text x="88.6" y="172.54" class="ga">Gata2</text>
<text x="88.6" y="181.57" class="ga">Tcf3</text>
<text x="88.6" y="190.61" class="ga">Zap70</text>
<text x="88.6" y="199.65" class="ga">Nfe2</text>
<text x="88.6" y="208.69" class="ga">Id3</text>
<text x="88.6" y="217.73" class="ga">Ets1</text>
<text x="88.6" y="226.76" class="ga">Bcl11b</text>
<text x="88.6" y="235.80" class="ga">Hes1</text>
<text x="88.6" y="244.84" class="ga">Gata3</text>
<text x="88.6" y="253.88" class="ga">Ikzf1</text>
<text x="88.6" y="262.92" class="ga">Lck</text>
<text x="88.6" y="271.95" class="ga">Tcf12</text>
<text x="88.6" y="280.99" class="ga">Cd3g</text>
<text x="88.6" y="290.03" class="ga">Sox13</text>
<text x="88.6" y="299.07" class="ga">Lat</text>
<text x="88.6" y="308.11" class="ga">Runx1</text>
<text x="88.6" y="317.14" class="ga">Cd8a</text>
<text x="88.6" y="326.18" class="ga">Cd4</text>
<text x="88.6" y="335.22" class="ga">Notch3</text>
<text x="88.6" y="344.26" class="ga">Ptcra</text>
<text x="88.6" y="353.30" class="ga">Ets2</text>
<text x="88.6" y="362.33" class="ga">Myb</text>
<text x="88.6" y="371.37" class="ga">Lef1</text>
<text x="88.6" y="380.41" class="ga">Tcf7</text>
<text x="88.6" y="389.45" class="ga">Notch1</text>
<text x="88.6" y="398.49" class="ga">Rag1</text>
<text x="458.6" y="56.27" class="gb">CCL5</text>
<text x="458.6" y="66.84" class="gb">CCL5</text>
<text x="458.6" y="77.41" class="gb">FGL2</text>
<text x="458.6" y="87.97" class="gb">S100A4</text>
<text x="458.6" y="98.54" class="gb">NKG7</text>
<text x="458.6" y="109.11" class="gb">CTSW</text>
<text x="458.6" y="119.67" class="gb">CCR9</text>
<text x="458.6" y="130.24" class="gb">SATB1</text>
<text x="458.6" y="140.81" class="gb">TRAT1</text>
<text x="458.6" y="151.38" class="gb">CMAH</text>
<text x="458.6" y="161.94" class="gb">CMAH</text>
<text x="458.6" y="172.51" class="gb">LIG4</text>
<text x="458.6" y="183.08" class="gb">SIDT1</text>
<text x="458.6" y="193.64" class="gb">RAG1*</text>
<text x="458.6" y="204.21" class="gb">RAG2</text>
<text x="458.6" y="214.78" class="gb">DNTT</text>
<text x="458.6" y="225.34" class="gb">SH2D1A</text>
<text x="458.6" y="235.91" class="gb">SH2D1A</text>
<text x="458.6" y="246.48" class="gb">SH2D1A</text>
<text x="458.6" y="257.05" class="gb">SH2D1A</text>
<text transform="translate(178.16,310.5) rotate(90)" x="-15.40 -11.00 -6.60 -2.20" text-anchor="middle" class="lg">2.00</text>
<text transform="translate(186.29,310.5) rotate(90)" x="-15.40 -11.00 -6.60 -2.20" text-anchor="middle" class="lg">1.33</text>
<text transform="translate(194.42,310.5) rotate(90)" x="-15.40 -11.00 -6.60 -2.20" text-anchor="middle" class="lg">0.67</text>
<text transform="translate(202.55,310.5) rotate(90)" x="-15.40 -11.00 -6.60 -2.20" text-anchor="middle" class="lg">0.00</text>
<text transform="translate(210.68,310.5) rotate(90)" x="-19.80 -15.40 -11.00 -6.60 -2.20" text-anchor="middle" class="lg">−0.67</text>
<text transform="translate(218.81,310.5) rotate(90)" x="-19.80 -15.40 -11.00 -6.60 -2.20" text-anchor="middle" class="lg">−1.33</text>
<text transform="translate(226.94,310.5) rotate(90)" x="-19.80 -15.40 -11.00 -6.60 -2.20" text-anchor="middle" class="lg">−2.00</text>
<text x="0.9" y="11.4" class="pl">A</text>
<text x="163.9" y="11.3" class="pl">B</text>
<text x="17" y="24.2" class="hd">CD4-SB</text>
<text x="54" y="24.7" class="hd">Vav-SB</text>
<text transform="translate(130.80,129.70) rotate(90)" text-anchor="middle" class="vta">upregulated in ETP-ALL</text>
<text transform="translate(130.80,308.70) rotate(90)" text-anchor="middle" class="vta">downregulated in ETP-ALL</text>
<text transform="translate(512.90,77.50) rotate(90)" text-anchor="middle" class="vt">upregulated in</text>
<text transform="translate(502.40,77.90) rotate(90)" text-anchor="middle" class="vt">CD4-SB tumors</text>
<text transform="translate(503.30,185.90) rotate(90)" text-anchor="middle" class="vt">upregulated in Vav-SB tumors</text>
</g>
</svg>
</body></html>
